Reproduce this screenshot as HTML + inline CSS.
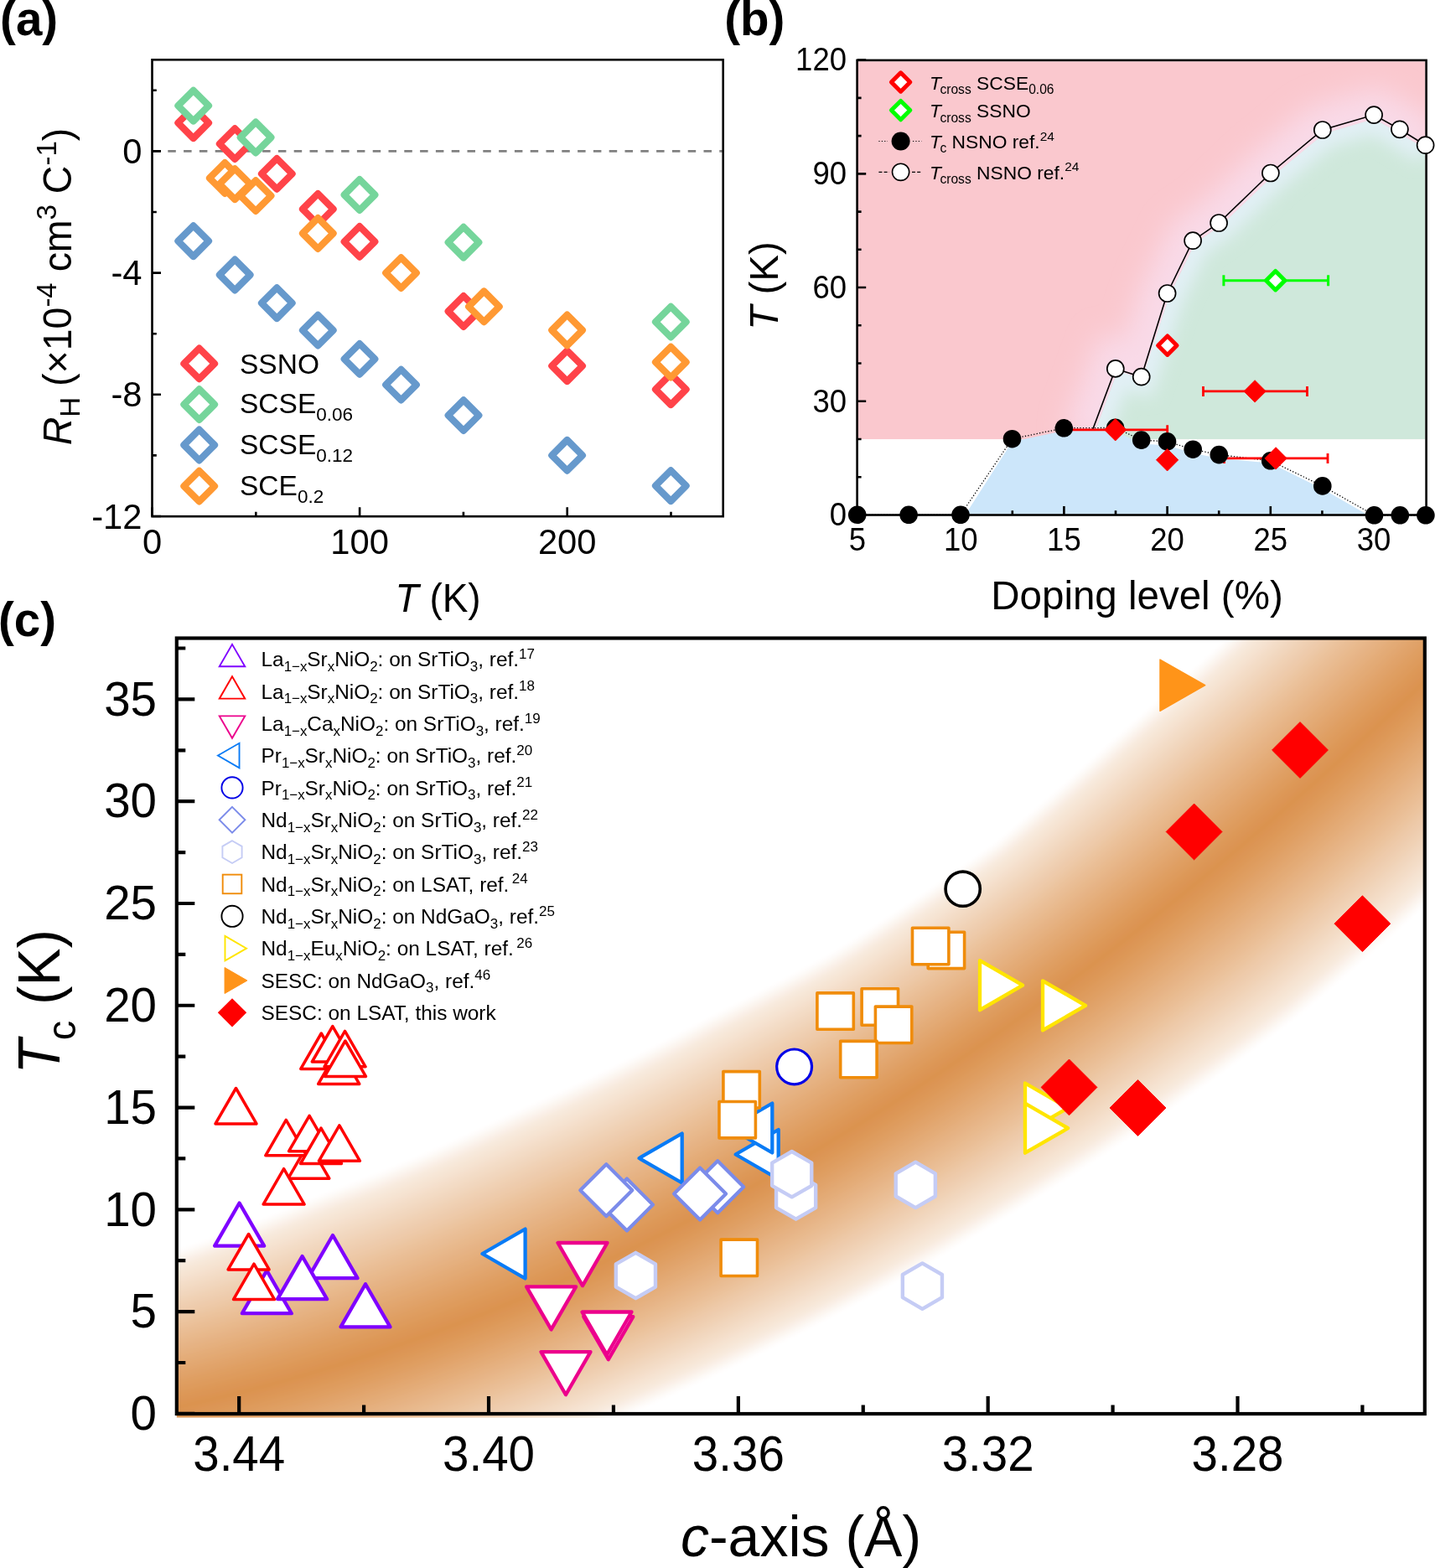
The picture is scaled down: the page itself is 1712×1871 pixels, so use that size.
<!DOCTYPE html>
<html><head><meta charset="utf-8"><title>Figure</title>
<style>
html,body{margin:0;padding:0;background:#fff;}
svg{display:block;}
text{font-family:'Liberation Sans', Arial, sans-serif;fill:#000;}
</style></head><body>
<svg width="1712" height="1871" viewBox="0 0 1712 1871">
<defs><clipPath id="cpb"><rect x="1023.9" y="73.2" width="676.4" height="540"/></clipPath>
<clipPath id="cpbtop"><rect x="1023.9" y="73.2" width="676.4" height="451.1"/></clipPath>
<clipPath id="cpgreen"><path d="M1306.5 524.3L1307.5 512.5L1333.5 442.5L1362.5 452.5L1395.5 352.5L1426 290L1456.5 269.5L1518 210.5L1580 159.5L1639.5 142L1669 159L1702 178.5L1702 524.3Z"/></clipPath>
<filter id="blur1" x="-50%" y="-50%" width="200%" height="200%"><feGaussianBlur stdDeviation="16"/></filter>
<filter id="blur2" x="-50%" y="-50%" width="200%" height="200%"><feGaussianBlur stdDeviation="10"/></filter>
<clipPath id="cpc"><rect x="210.8" y="761.5" width="1489" height="930"/></clipPath>
<filter id="bblur" x="0" y="0" width="100%" height="100%"><feGaussianBlur stdDeviation="2.5"/></filter></defs>
<rect width="1712" height="1871" fill="#fff"/>
<g id="pa">
<line x1="181.5" y1="180.4" x2="862.7" y2="180.4" stroke="#808080" stroke-width="2.6" stroke-dasharray="9.5 9.3"/>
<path d="M230.7 128.4L249 146.7L230.7 165L212.4 146.7Z" fill="#fff" stroke="#FF4349" stroke-width="8.2" stroke-linejoin="round"/>
<path d="M280.2 153.3L298.5 171.6L280.2 189.9L261.9 171.6Z" fill="#fff" stroke="#FF4349" stroke-width="8.2" stroke-linejoin="round"/>
<path d="M330.3 189.1L348.6 207.4L330.3 225.7L312 207.4Z" fill="#fff" stroke="#FF4349" stroke-width="8.2" stroke-linejoin="round"/>
<path d="M379.3 231.2L397.6 249.5L379.3 267.8L361 249.5Z" fill="#fff" stroke="#FF4349" stroke-width="8.2" stroke-linejoin="round"/>
<path d="M429 270.1L447.3 288.4L429 306.7L410.7 288.4Z" fill="#fff" stroke="#FF4349" stroke-width="8.2" stroke-linejoin="round"/>
<path d="M553 353.2L571.3 371.5L553 389.8L534.7 371.5Z" fill="#fff" stroke="#FF4349" stroke-width="8.2" stroke-linejoin="round"/>
<path d="M676.6 418.4L694.9 436.7L676.6 455L658.3 436.7Z" fill="#fff" stroke="#FF4349" stroke-width="8.2" stroke-linejoin="round"/>
<path d="M800.3 446.4L818.6 464.7L800.3 483L782 464.7Z" fill="#fff" stroke="#FF4349" stroke-width="8.2" stroke-linejoin="round"/>
<path d="M230.7 107.9L249 126.2L230.7 144.5L212.4 126.2Z" fill="#fff" stroke="#75D59B" stroke-width="8.2" stroke-linejoin="round"/>
<path d="M305.1 145.7L323.4 164L305.1 182.3L286.8 164Z" fill="#fff" stroke="#75D59B" stroke-width="8.2" stroke-linejoin="round"/>
<path d="M429 214.2L447.3 232.5L429 250.8L410.7 232.5Z" fill="#fff" stroke="#75D59B" stroke-width="8.2" stroke-linejoin="round"/>
<path d="M553 270.9L571.3 289.2L553 307.5L534.7 289.2Z" fill="#fff" stroke="#75D59B" stroke-width="8.2" stroke-linejoin="round"/>
<path d="M800.3 365.8L818.6 384.1L800.3 402.4L782 384.1Z" fill="#fff" stroke="#75D59B" stroke-width="8.2" stroke-linejoin="round"/>
<path d="M230.7 269.4L249 287.7L230.7 306L212.4 287.7Z" fill="#fff" stroke="#6699CC" stroke-width="8.2" stroke-linejoin="round"/>
<path d="M280.2 309.7L298.5 328L280.2 346.3L261.9 328Z" fill="#fff" stroke="#6699CC" stroke-width="8.2" stroke-linejoin="round"/>
<path d="M330.3 343.4L348.6 361.7L330.3 380L312 361.7Z" fill="#fff" stroke="#6699CC" stroke-width="8.2" stroke-linejoin="round"/>
<path d="M379.3 375.8L397.6 394.1L379.3 412.4L361 394.1Z" fill="#fff" stroke="#6699CC" stroke-width="8.2" stroke-linejoin="round"/>
<path d="M429 410.1L447.3 428.4L429 446.7L410.7 428.4Z" fill="#fff" stroke="#6699CC" stroke-width="8.2" stroke-linejoin="round"/>
<path d="M478.5 440.8L496.8 459.1L478.5 477.4L460.2 459.1Z" fill="#fff" stroke="#6699CC" stroke-width="8.2" stroke-linejoin="round"/>
<path d="M553 477.3L571.3 495.6L553 513.9L534.7 495.6Z" fill="#fff" stroke="#6699CC" stroke-width="8.2" stroke-linejoin="round"/>
<path d="M676.6 525L694.9 543.3L676.6 561.6L658.3 543.3Z" fill="#fff" stroke="#6699CC" stroke-width="8.2" stroke-linejoin="round"/>
<path d="M800.3 561.4L818.6 579.7L800.3 598L782 579.7Z" fill="#fff" stroke="#6699CC" stroke-width="8.2" stroke-linejoin="round"/>
<path d="M268.3 194.2L286.6 212.5L268.3 230.8L250 212.5Z" fill="#fff" stroke="#FF9933" stroke-width="8.2" stroke-linejoin="round"/>
<path d="M280.2 201.4L298.5 219.7L280.2 238L261.9 219.7Z" fill="#fff" stroke="#FF9933" stroke-width="8.2" stroke-linejoin="round"/>
<path d="M305.1 215.3L323.4 233.6L305.1 251.9L286.8 233.6Z" fill="#fff" stroke="#FF9933" stroke-width="8.2" stroke-linejoin="round"/>
<path d="M379.3 260.2L397.6 278.5L379.3 296.8L361 278.5Z" fill="#fff" stroke="#FF9933" stroke-width="8.2" stroke-linejoin="round"/>
<path d="M478.5 307.3L496.8 325.6L478.5 343.9L460.2 325.6Z" fill="#fff" stroke="#FF9933" stroke-width="8.2" stroke-linejoin="round"/>
<path d="M577.4 347.5L595.7 365.8L577.4 384.1L559.1 365.8Z" fill="#fff" stroke="#FF9933" stroke-width="8.2" stroke-linejoin="round"/>
<path d="M676.6 375.7L694.9 394L676.6 412.3L658.3 394Z" fill="#fff" stroke="#FF9933" stroke-width="8.2" stroke-linejoin="round"/>
<path d="M800.3 413.8L818.6 432.1L800.3 450.4L782 432.1Z" fill="#fff" stroke="#FF9933" stroke-width="8.2" stroke-linejoin="round"/>
<path d="M237.7 415.6L256 433.9L237.7 452.2L219.4 433.9Z" fill="none" stroke="#FF4349" stroke-width="8.2" stroke-linejoin="round"/>
<path d="M237.7 464.3L256 482.6L237.7 500.9L219.4 482.6Z" fill="none" stroke="#75D59B" stroke-width="8.2" stroke-linejoin="round"/>
<path d="M237.7 512.7L256 531L237.7 549.3L219.4 531Z" fill="none" stroke="#6699CC" stroke-width="8.2" stroke-linejoin="round"/>
<path d="M237.7 561.8L256 580.1L237.7 598.4L219.4 580.1Z" fill="none" stroke="#FF9933" stroke-width="8.2" stroke-linejoin="round"/>
<text x="286" y="445.6" font-size="33.5" text-anchor="start" ><tspan>SSNO</tspan></text>
<text x="286" y="493.4" font-size="33.5" text-anchor="start" ><tspan>SCSE</tspan><tspan dy="9" font-size="22.5">0.06</tspan></text>
<text x="286" y="542" font-size="33.5" text-anchor="start" ><tspan>SCSE</tspan><tspan dy="9" font-size="22.5">0.12</tspan></text>
<text x="286" y="591.2" font-size="33.5" text-anchor="start" ><tspan>SCE</tspan><tspan dy="9" font-size="22.5">0.2</tspan></text>
<rect x="181.5" y="71.3" width="681.2" height="544.9" fill="none" stroke="#000" stroke-width="2.6"/>
<path d="M181.5 107.8H186.8M181.5 180.4H192M181.5 253H186.8M181.5 325.6H192M181.5 398.2H186.8M181.5 470.8H192M181.5 543.4H186.8M181.5 616H192M181.5 616.2V605.2M305.3 616.2V610.7M429.1 616.2V605.2M552.9 616.2V610.7M676.7 616.2V605.2M800.5 616.2V610.7" stroke="#000" stroke-width="2.6" fill="none"/>
<text x="169.5" y="195" font-size="41.7" text-anchor="end"  transform="translate(169.5 195) scale(1 1.0400) translate(-169.5 -195)"><tspan>0</tspan></text>
<text x="169.5" y="340.2" font-size="41.7" text-anchor="end"  transform="translate(169.5 340.2) scale(1 1.0400) translate(-169.5 -340.2)"><tspan>-4</tspan></text>
<text x="169.5" y="485.4" font-size="41.7" text-anchor="end"  transform="translate(169.5 485.4) scale(1 1.0400) translate(-169.5 -485.4)"><tspan>-8</tspan></text>
<text x="169.5" y="630.6" font-size="41.7" text-anchor="end"  transform="translate(169.5 630.6) scale(1 1.0400) translate(-169.5 -630.6)"><tspan>-12</tspan></text>
<text x="181.5" y="660.9" font-size="41.7" text-anchor="middle"  transform="translate(181.5 660.9) scale(1 1.0400) translate(-181.5 -660.9)"><tspan>0</tspan></text>
<text x="429.1" y="660.9" font-size="41.7" text-anchor="middle"  transform="translate(429.1 660.9) scale(1 1.0400) translate(-429.1 -660.9)"><tspan>100</tspan></text>
<text x="676.7" y="660.9" font-size="41.7" text-anchor="middle"  transform="translate(676.7 660.9) scale(1 1.0400) translate(-676.7 -660.9)"><tspan>200</tspan></text>
<text x="522.6" y="730" font-size="46" text-anchor="middle"  transform="translate(522.6 730) scale(1 1.0350) translate(-522.6 -730)"><tspan font-style="italic">T</tspan><tspan> (K)</tspan></text>
<text x="85.3" y="342" font-size="46.5" text-anchor="middle"  transform="rotate(-90 85.3 342) translate(85.3 342) scale(1 1.0300) translate(-85.3 -342)"><tspan font-style="italic">R</tspan><tspan dy="9.5" font-size="33">H</tspan><tspan dy="-9.5"> (×10</tspan><tspan dy="-18" font-size="33">-4</tspan><tspan dy="18"> cm</tspan><tspan dy="-18" font-size="33">3</tspan><tspan dy="18"> C</tspan><tspan dy="-18" font-size="33">-1</tspan><tspan dy="18">)</tspan></text>
</g>
<g id="pb">
<g clip-path="url(#cpbtop)">
<rect x="1022.6" y="71.9" width="679" height="452.4" fill="#FAC8CE"/>
<path d="M1306.5 524.3L1307.5 512.5L1333.5 442.5L1362.5 452.5L1395.5 352.5L1426 290L1456.5 269.5L1518 210.5L1580 159.5L1639.5 142L1669 159L1702 178.5" fill="none" stroke="#F9DAE8" stroke-width="70" filter="url(#blur1)"/>
<path d="M1306.5 524.3L1307.5 512.5L1333.5 442.5L1362.5 452.5L1395.5 352.5L1426 290L1456.5 269.5L1518 210.5L1580 159.5L1639.5 142L1669 159L1702 178.5L1702 524.3Z" fill="#CFE8DB"/>
<g clip-path="url(#cpgreen)"><path d="M1306.5 524.3L1307.5 512.5L1333.5 442.5L1362.5 452.5L1395.5 352.5L1426 290L1456.5 269.5L1518 210.5L1580 159.5L1639.5 142L1669 159L1702 178.5" fill="none" stroke="#E2F0F6" stroke-width="34" filter="url(#blur2)"/></g>
</g>
<path d="M1151.5 614.5L1207.5 527L1269.3 514L1330 514.5L1362 529.5L1392.5 531.5L1423 540.5L1454 547L1515.5 552.5L1578 583.5L1632 614.5Z" fill="#CCE6FA" clip-path="url(#cpb)"/>
<rect x="1022.6" y="71.9" width="679" height="542.6" fill="none" stroke="#000" stroke-width="2.6"/>
<path d="M1022.6 614.5H1033.2M1022.6 569.26H1027.6M1022.6 524.02H1027.6M1022.6 478.78H1033.2M1022.6 433.54H1027.6M1022.6 388.3H1027.6M1022.6 343.06H1033.2M1022.6 297.82H1027.6M1022.6 252.58H1027.6M1022.6 207.34H1033.2M1022.6 162.1H1027.6M1022.6 116.86H1027.6M1022.6 71.62H1033.2M1023 614.5V604M1084.6 614.5V609.3M1146.2 614.5V604M1207.8 614.5V609.3M1269.4 614.5V604M1331 614.5V609.3M1392.6 614.5V604M1454.2 614.5V609.3M1515.8 614.5V604M1577.4 614.5V609.3M1639 614.5V604M1700.6 614.5V609.3" stroke="#000" stroke-width="2.6" fill="none"/>
<path d="M1022.7 614.3L1084.1 614.3L1146 614.3L1207.5 523.7L1269.3 510.8L1330.6 510.4L1361.7 525.1L1392.5 526.9L1423.2 536.2L1454.3 542.6L1515.7 549.8L1577.8 579.9L1639.5 614.8L1670.3 614.8L1700.9 614.8" fill="none" stroke="#000" stroke-width="1.3" stroke-dasharray="1.3 2.2"/>
<path d="M1303.8 512.1L1330.8 439.9L1361.7 449.7L1392.6 350L1423.1 287.2L1454.1 266L1515.9 206.5L1577.8 155L1639.1 137.1L1669.9 154.3L1700.6 173.2" fill="none" stroke="#000" stroke-width="1.6"/>
<path d="M1459.9 334.7H1584.6M1459.9 328.2V341.2M1584.6 328.2V341.2" stroke="#00FF00" stroke-width="3" fill="none"/>
<path d="M1435.5 466.9H1559.5M1435.5 460.9V472.9M1559.5 460.9V472.9" stroke="#FF0000" stroke-width="2.8" fill="none"/>
<path d="M1460.5 546.9H1584M1460.5 540.9V552.9M1584 540.9V552.9" stroke="#FF0000" stroke-width="2.8" fill="none"/>
<path d="M1269.3 512.8H1392.7M1392.7 507.3V518.3" stroke="#FF0000" stroke-width="2.8" fill="none"/>
<circle cx="1330.8" cy="439.9" r="10.0" fill="#fff" stroke="#000" stroke-width="1.7"/>
<circle cx="1361.7" cy="449.7" r="10.0" fill="#fff" stroke="#000" stroke-width="1.7"/>
<circle cx="1392.6" cy="350" r="10.0" fill="#fff" stroke="#000" stroke-width="1.7"/>
<circle cx="1423.1" cy="287.2" r="10.0" fill="#fff" stroke="#000" stroke-width="1.7"/>
<circle cx="1454.1" cy="266" r="10.0" fill="#fff" stroke="#000" stroke-width="1.7"/>
<circle cx="1515.9" cy="206.5" r="10.0" fill="#fff" stroke="#000" stroke-width="1.7"/>
<circle cx="1577.8" cy="155" r="10.0" fill="#fff" stroke="#000" stroke-width="1.7"/>
<circle cx="1639.1" cy="137.1" r="10.0" fill="#fff" stroke="#000" stroke-width="1.7"/>
<circle cx="1669.9" cy="154.3" r="10.0" fill="#fff" stroke="#000" stroke-width="1.7"/>
<circle cx="1700.6" cy="173.2" r="10.0" fill="#fff" stroke="#000" stroke-width="1.7"/>
<g fill="#000"><circle cx="1022.7" cy="614.3" r="10.8"/><circle cx="1084.1" cy="614.3" r="10.8"/><circle cx="1146" cy="614.3" r="10.8"/><circle cx="1207.5" cy="523.7" r="10.8"/><circle cx="1269.3" cy="510.8" r="10.8"/><circle cx="1330.6" cy="510.4" r="10.8"/><circle cx="1361.7" cy="525.1" r="10.8"/><circle cx="1392.5" cy="526.9" r="10.8"/><circle cx="1423.2" cy="536.2" r="10.8"/><circle cx="1454.3" cy="542.6" r="10.8"/><circle cx="1515.7" cy="549.8" r="10.8"/><circle cx="1577.8" cy="579.9" r="10.8"/><circle cx="1639.5" cy="614.8" r="10.8"/><circle cx="1670.3" cy="614.8" r="10.8"/><circle cx="1700.9" cy="614.8" r="10.8"/></g>
<path d="M1392.8 401L1404 412.2L1392.8 423.4L1381.6 412.2Z" fill="#fff" stroke="#FF0000" stroke-width="5" stroke-linejoin="round"/>
<path d="M1521.7 323.5L1532.9 334.7L1521.7 345.9L1510.5 334.7Z" fill="#fff" stroke="#00FF00" stroke-width="5" stroke-linejoin="round"/>
<path d="M1330.7 499.6L1343.9 512.8L1330.7 526L1317.5 512.8ZM1392.6 535.6L1405.8 548.8L1392.6 562L1379.4 548.8ZM1497.1 453.7L1510.3 466.9L1497.1 480.1L1483.9 466.9ZM1522.1 533.7L1535.3 546.9L1522.1 560.1L1508.9 546.9Z" fill="#FF0000" stroke="#FF0000" stroke-width="0.8" stroke-linejoin="round"/>
<path d="M1074.6 86.8L1085.8 98L1074.6 109.2L1063.4 98Z" fill="#fff" stroke="#FF0000" stroke-width="5" stroke-linejoin="round"/>
<path d="M1074.6 120.4L1085.8 131.6L1074.6 142.8L1063.4 131.6Z" fill="#fff" stroke="#00FF00" stroke-width="5" stroke-linejoin="round"/>
<path d="M1048.4 168.5H1059M1089 168.5H1099.5" stroke="#000" stroke-width="1.2" stroke-dasharray="1.2 2.2"/>
<circle cx="1074.6" cy="168.5" r="11" fill="#000"/>
<path d="M1048.4 205.3H1061M1088 205.3H1100" stroke="#000" stroke-width="1.2" stroke-dasharray="4 2.2"/>
<circle cx="1074.6" cy="205.3" r="10.1" fill="#fff" stroke="#000" stroke-width="1.6"/>
<text x="1109" y="106.6" font-size="22.8" text-anchor="start" ><tspan font-style="italic">T</tspan><tspan dy="5.5" font-size="15.6" dx="-1.5">cross</tspan><tspan dy="-5.5"> SCSE</tspan><tspan dy="5.5" font-size="15.6">0.06</tspan></text>
<text x="1109" y="140" font-size="22.8" text-anchor="start" ><tspan font-style="italic">T</tspan><tspan dy="5.5" font-size="15.6" dx="-1.5">cross</tspan><tspan dy="-5.5"> SSNO</tspan></text>
<text x="1109" y="176.9" font-size="22.8" text-anchor="start" ><tspan font-style="italic">T</tspan><tspan dy="5.5" font-size="15.6" dx="-1.5">c</tspan><tspan dy="-5.5"> NSNO ref.</tspan><tspan dy="-9.4" font-size="15.5">24</tspan></text>
<text x="1109" y="213.7" font-size="22.8" text-anchor="start" ><tspan font-style="italic">T</tspan><tspan dy="5.5" font-size="15.6" dx="-1.5">cross</tspan><tspan dy="-5.5"> NSNO ref.</tspan><tspan dy="-9.4" font-size="15.5">24</tspan></text>
<text x="1010" y="627.3" font-size="36.5" text-anchor="end"  transform="translate(1010 627.3) scale(1 1.0400) translate(-1010 -627.3)"><tspan>0</tspan></text>
<text x="1010" y="491.58" font-size="36.5" text-anchor="end"  transform="translate(1010 491.58) scale(1 1.0400) translate(-1010 -491.58)"><tspan>30</tspan></text>
<text x="1010" y="355.86" font-size="36.5" text-anchor="end"  transform="translate(1010 355.86) scale(1 1.0400) translate(-1010 -355.86)"><tspan>60</tspan></text>
<text x="1010" y="220.14" font-size="36.5" text-anchor="end"  transform="translate(1010 220.14) scale(1 1.0400) translate(-1010 -220.14)"><tspan>90</tspan></text>
<text x="1010" y="84.42" font-size="36.5" text-anchor="end"  transform="translate(1010 84.42) scale(1 1.0400) translate(-1010 -84.42)"><tspan>120</tspan></text>
<text x="1023" y="657" font-size="36.5" text-anchor="middle"  transform="translate(1023 657) scale(1 1.0400) translate(-1023 -657)"><tspan>5</tspan></text>
<text x="1146.2" y="657" font-size="36.5" text-anchor="middle"  transform="translate(1146.2 657) scale(1 1.0400) translate(-1146.2 -657)"><tspan>10</tspan></text>
<text x="1269.4" y="657" font-size="36.5" text-anchor="middle"  transform="translate(1269.4 657) scale(1 1.0400) translate(-1269.4 -657)"><tspan>15</tspan></text>
<text x="1392.6" y="657" font-size="36.5" text-anchor="middle"  transform="translate(1392.6 657) scale(1 1.0400) translate(-1392.6 -657)"><tspan>20</tspan></text>
<text x="1515.8" y="657" font-size="36.5" text-anchor="middle"  transform="translate(1515.8 657) scale(1 1.0400) translate(-1515.8 -657)"><tspan>25</tspan></text>
<text x="1639" y="657" font-size="36.5" text-anchor="middle"  transform="translate(1639 657) scale(1 1.0400) translate(-1639 -657)"><tspan>30</tspan></text>
<text x="1356.5" y="726.5" font-size="47.5" text-anchor="middle" ><tspan>Doping level (%)</tspan></text>
<text x="927.9" y="341" font-size="47.5" text-anchor="middle"  transform="rotate(-90 927.9 341) translate(927.9 341) scale(1 1.0200) translate(-927.9 -341)"><tspan font-style="italic">T</tspan><tspan> (K)</tspan></text>
</g>
<g id="pc">
<g clip-path="url(#cpc)"><g filter="url(#bblur)"><path d="M71.7 1522.2L99.1 1517.6L126.5 1512.3L153.8 1506.0L181.0 1498.9L207.9 1490.1L234.7 1480.9L261.5 1471.3L288.3 1461.3L315.0 1450.9L341.7 1440.1L368.3 1429.0L395.1 1418.0L422.3 1407.7L449.5 1397.1L476.7 1386.0L503.9 1374.5L531.1 1362.6L558.4 1350.3L585.7 1337.5L613.0 1324.4L640.9 1312.2L669.0 1299.6L697.1 1286.6L725.2 1273.1L753.4 1259.2L781.7 1244.9L810.0 1230.1L838.3 1214.8L867.3 1200.1L896.7 1185.4L926.1 1170.3L955.6 1154.6L985.2 1138.5L1014.2 1121.0L1042.9 1102.5L1071.6 1083.5L1100.4 1064.1L1129.3 1044.2L1158.1 1023.9L1187.0 1003.1L1214.5 979.9L1242.0 956.3L1269.4 932.3L1296.9 907.8L1324.3 882.9L1352.3 858.2L1380.6 833.4L1409.0 808.2L1437.3 782.5L1465.6 756.4L1494.0 729.8L1522.4 702.8L1550.8 675.3L1579.3 647.4L1607.7 619.1L1636.2 590.3L1664.8 561.2L1693.7 531.9L1722.7 502.2L2010.8 781.1L1979.8 812.9L1948.8 844.3L1918.0 875.4L1887.3 906.2L1856.5 936.6L1825.7 966.5L1794.9 996.0L1764.1 1025.1L1733.2 1053.8L1702.3 1082.0L1671.3 1109.8L1640.4 1137.1L1609.4 1164.0L1578.3 1190.5L1547.2 1216.6L1515.1 1240.9L1482.9 1264.8L1450.7 1288.2L1418.6 1311.1L1386.4 1333.6L1354.1 1355.7L1321.9 1377.3L1289.7 1398.4L1257.4 1419.1L1225.1 1439.3L1192.9 1459.1L1160.6 1478.4L1128.5 1497.6L1096.4 1516.4L1064.3 1534.7L1032.1 1552.5L1000.0 1569.9L967.8 1586.9L935.6 1603.3L903.4 1619.3L871.2 1634.9L838.9 1650.0L806.6 1664.6L774.6 1679.2L742.5 1693.5L710.4 1707.3L678.3 1720.6L646.1 1733.5L613.9 1745.9L581.7 1757.8L549.5 1769.3L517.2 1780.3L484.9 1790.8L452.6 1800.9L420.2 1810.5L387.8 1819.6L355.4 1828.3L323.0 1836.5L290.5 1844.2L258.1 1851.4L225.6 1858.1L193.1 1864.4L160.5 1870.3L128.0 1875.7Z" fill="#FFFFFF"/><path d="M72.2 1525.4L99.7 1520.8L127.1 1515.5L154.5 1509.2L181.7 1502.1L208.7 1493.3L235.6 1484.2L262.4 1474.6L289.2 1464.6L316.0 1454.3L342.7 1443.5L369.4 1432.4L396.2 1421.4L423.5 1411.2L450.7 1400.5L478.0 1389.4L505.2 1377.9L532.5 1366.0L559.8 1353.7L587.2 1341.0L614.5 1327.8L642.5 1315.6L670.6 1303.0L698.7 1289.9L726.9 1276.4L755.1 1262.5L783.4 1248.1L811.8 1233.3L840.2 1218.0L869.2 1203.2L898.5 1188.5L927.9 1173.3L957.4 1157.6L987.0 1141.4L1016.0 1123.8L1044.8 1105.3L1073.6 1086.3L1102.4 1066.8L1131.2 1046.9L1160.1 1026.6L1189.1 1005.8L1216.6 982.6L1244.1 959.0L1271.6 935.0L1299.1 910.5L1326.6 885.6L1354.6 860.9L1383.0 836.1L1411.3 810.9L1439.7 785.2L1468.0 759.0L1496.4 732.4L1524.9 705.4L1553.3 678.0L1581.8 650.0L1610.2 621.7L1638.7 592.9L1667.4 563.8L1696.4 534.5L1725.3 504.8L2008.3 778.7L1977.3 810.5L1946.3 841.8L1915.5 872.9L1884.8 903.7L1854.1 934.0L1823.3 964.0L1792.5 993.4L1761.7 1022.5L1730.8 1051.1L1699.9 1079.3L1669.0 1107.1L1638.0 1134.4L1607.0 1161.3L1576.0 1187.7L1544.9 1213.7L1512.8 1238.1L1480.7 1261.9L1448.6 1285.4L1416.4 1308.3L1384.3 1330.8L1352.1 1352.9L1319.9 1374.5L1287.7 1395.6L1255.5 1416.3L1223.3 1436.5L1191.0 1456.3L1158.8 1475.6L1126.7 1494.8L1094.7 1513.5L1062.6 1531.8L1030.5 1549.7L998.4 1567.1L966.2 1584.0L934.1 1600.4L901.9 1616.4L869.7 1632.0L837.5 1647.1L805.3 1661.7L773.2 1676.3L741.2 1690.5L709.1 1704.3L677.1 1717.6L644.9 1730.5L612.8 1742.9L580.6 1754.8L548.4 1766.3L516.2 1777.3L483.9 1787.8L451.6 1797.8L419.3 1807.4L387.0 1816.6L354.6 1825.2L322.2 1833.4L289.8 1841.1L257.4 1848.3L224.9 1855.0L192.5 1861.3L160.0 1867.2L127.5 1872.6Z" fill="#FEFCFB"/><path d="M72.7 1528.5L100.2 1523.9L127.7 1518.6L155.1 1512.3L182.4 1505.3L209.4 1496.6L236.4 1487.4L263.3 1477.9L290.1 1468.0L317.0 1457.6L343.7 1446.9L370.5 1435.8L397.4 1424.8L424.7 1414.6L452.0 1403.9L479.3 1392.8L506.6 1381.4L533.9 1369.4L561.3 1357.1L588.7 1344.4L616.1 1331.2L644.1 1319.0L672.2 1306.3L700.4 1293.2L728.6 1279.7L756.9 1265.7L785.2 1251.3L813.6 1236.5L842.0 1221.2L871.0 1206.3L900.3 1191.5L929.8 1176.3L959.3 1160.5L988.9 1144.3L1017.9 1126.7L1046.7 1108.1L1075.5 1089.1L1104.3 1069.6L1133.2 1049.7L1162.1 1029.3L1191.1 1008.5L1218.6 985.3L1246.2 961.7L1273.7 937.7L1301.3 913.2L1328.8 888.3L1356.9 863.6L1385.3 838.8L1413.6 813.6L1442.0 787.8L1470.4 761.7L1498.9 735.1L1527.3 708.1L1555.8 680.6L1584.3 652.7L1612.8 624.3L1641.3 595.5L1670.0 566.3L1699.0 537.1L1728.0 507.3L2005.8 776.3L1974.8 808.0L1943.9 839.3L1913.1 870.4L1882.4 901.2L1851.7 931.5L1820.9 961.4L1790.1 990.8L1759.3 1019.9L1728.4 1048.5L1697.6 1076.6L1666.7 1104.4L1635.7 1131.7L1604.7 1158.5L1573.7 1185.0L1542.7 1210.9L1510.6 1235.3L1478.5 1259.1L1446.4 1282.5L1414.3 1305.5L1382.2 1328.0L1350.1 1350.1L1317.9 1371.6L1285.8 1392.8L1253.6 1413.4L1221.4 1433.7L1189.2 1453.4L1157.0 1472.7L1125.0 1491.9L1093.0 1510.7L1060.9 1529.0L1028.9 1546.8L996.8 1564.2L964.7 1581.1L932.6 1597.6L900.4 1613.6L868.3 1629.1L836.1 1644.2L803.9 1658.8L771.9 1673.4L739.9 1687.6L707.9 1701.4L675.8 1714.7L643.8 1727.5L611.6 1739.9L579.5 1751.8L547.3 1763.3L515.1 1774.2L482.9 1784.7L450.7 1794.8L418.4 1804.4L386.1 1813.5L353.8 1822.1L321.4 1830.3L289.1 1838.0L256.7 1845.2L224.3 1851.9L191.9 1858.2L159.4 1864.0L127.0 1869.4Z" fill="#FDF9F5"/><path d="M73.2 1531.7L100.8 1527.1L128.3 1521.8L155.8 1515.5L183.1 1508.5L210.2 1499.8L237.2 1490.7L264.1 1481.2L291.1 1471.3L317.9 1461.0L344.8 1450.3L371.6 1439.2L398.6 1428.3L425.9 1418.0L453.2 1407.4L480.6 1396.3L508.0 1384.8L535.3 1372.9L562.8 1360.5L590.2 1347.8L617.6 1334.6L645.7 1322.4L673.9 1309.7L702.0 1296.6L730.3 1283.0L758.6 1269.0L786.9 1254.5L815.3 1239.7L843.8 1224.3L872.8 1209.5L902.2 1194.6L931.6 1179.3L961.2 1163.5L990.8 1147.2L1019.8 1129.5L1048.6 1110.9L1077.4 1091.9L1106.3 1072.4L1135.2 1052.4L1164.1 1032.0L1193.1 1011.2L1220.7 988.0L1248.3 964.4L1275.9 940.4L1303.5 915.9L1331.1 891.0L1359.2 866.4L1387.6 841.5L1416.0 816.2L1444.4 790.5L1472.8 764.4L1501.3 737.8L1529.8 710.7L1558.3 683.2L1586.8 655.3L1615.3 626.9L1643.9 598.1L1672.6 568.9L1701.6 539.6L1730.6 509.9L2003.3 773.8L1972.3 805.6L1941.4 836.8L1910.6 867.9L1879.9 898.6L1849.2 928.9L1818.5 958.8L1787.7 988.3L1756.9 1017.3L1726.1 1045.8L1695.2 1074.0L1664.3 1101.7L1633.4 1128.9L1602.4 1155.8L1571.4 1182.2L1540.4 1208.1L1508.4 1232.5L1476.3 1256.3L1444.3 1279.7L1412.2 1302.7L1380.1 1325.2L1348.0 1347.2L1315.9 1368.8L1283.8 1389.9L1251.7 1410.6L1219.5 1430.8L1187.4 1450.6L1155.2 1469.9L1123.2 1489.1L1091.2 1507.8L1059.2 1526.1L1027.2 1543.9L995.2 1561.3L963.1 1578.2L931.0 1594.7L898.9 1610.7L866.8 1626.2L834.7 1641.3L802.5 1655.9L770.6 1670.5L738.6 1684.7L706.6 1698.4L674.6 1711.7L642.6 1724.5L610.5 1736.9L578.4 1748.8L546.3 1760.2L514.1 1771.2L481.9 1781.7L449.7 1791.7L417.5 1801.3L385.3 1810.4L353.0 1819.0L320.7 1827.2L288.4 1834.9L256.0 1842.1L223.7 1848.8L191.3 1855.1L158.9 1860.9L126.5 1866.3Z" fill="#FCF5EF"/><path d="M73.7 1534.9L101.3 1530.3L128.9 1525.0L156.4 1518.7L183.8 1511.7L210.9 1503.0L238.0 1493.9L265.0 1484.5L292.0 1474.6L318.9 1464.4L345.8 1453.7L372.7 1442.6L399.7 1431.7L427.1 1421.5L454.5 1410.8L481.9 1399.7L509.3 1388.2L536.8 1376.3L564.2 1364.0L591.7 1351.2L619.2 1338.0L647.3 1325.8L675.5 1313.0L703.7 1299.9L732.0 1286.3L760.3 1272.3L788.7 1257.8L817.1 1242.9L845.6 1227.5L874.7 1212.6L904.0 1197.7L933.5 1182.3L963.0 1166.4L992.6 1150.1L1021.7 1132.4L1050.5 1113.7L1079.4 1094.7L1108.2 1075.1L1137.2 1055.2L1166.1 1034.7L1195.1 1013.8L1222.8 990.7L1250.4 967.1L1278.0 943.1L1305.7 918.6L1333.3 893.8L1361.5 869.1L1389.9 844.2L1418.3 818.9L1446.8 793.2L1475.2 767.0L1503.7 740.4L1532.2 713.4L1560.8 685.8L1589.3 657.9L1617.9 629.5L1646.4 600.7L1675.2 571.5L1704.2 542.2L1733.2 512.4L2000.8 771.4L1969.8 803.1L1938.9 834.4L1908.2 865.4L1877.5 896.1L1846.8 926.4L1816.0 956.3L1785.3 985.7L1754.5 1014.6L1723.7 1043.2L1692.8 1071.3L1662.0 1099.0L1631.1 1126.2L1600.1 1153.0L1569.1 1179.4L1538.1 1205.3L1506.1 1229.7L1474.1 1253.5L1442.1 1276.9L1410.1 1299.9L1378.0 1322.4L1346.0 1344.4L1313.9 1366.0L1281.8 1387.1L1249.7 1407.8L1217.6 1428.0L1185.5 1447.8L1153.4 1467.1L1121.5 1486.2L1089.5 1505.0L1057.5 1523.3L1025.6 1541.1L993.6 1558.4L961.5 1575.3L929.5 1591.8L897.4 1607.8L865.4 1623.3L833.3 1638.4L801.2 1652.9L769.2 1667.5L737.3 1681.7L705.4 1695.5L673.4 1708.7L641.4 1721.6L609.4 1733.9L577.3 1745.8L545.2 1757.2L513.1 1768.2L481.0 1778.7L448.8 1788.7L416.6 1798.2L384.4 1807.3L352.2 1815.9L319.9 1824.1L287.6 1831.8L255.3 1839.0L223.0 1845.7L190.7 1851.9L158.4 1857.8L126.0 1863.2Z" fill="#FAF1E9"/><path d="M74.2 1538.0L101.9 1533.4L129.5 1528.1L157.0 1521.9L184.5 1514.9L211.7 1506.2L238.8 1497.2L265.9 1487.8L292.9 1477.9L319.9 1467.7L346.9 1457.1L373.8 1446.1L400.9 1435.2L428.3 1424.9L455.7 1414.2L483.2 1403.1L510.7 1391.6L538.2 1379.7L565.7 1367.4L593.2 1354.6L620.7 1341.5L648.9 1329.1L677.1 1316.4L705.4 1303.2L733.7 1289.6L762.0 1275.5L790.5 1261.0L818.9 1246.0L847.4 1230.7L876.5 1215.7L905.9 1200.7L935.4 1185.3L964.9 1169.4L994.5 1153.0L1023.6 1135.2L1052.4 1116.6L1081.3 1097.5L1110.2 1077.9L1139.1 1057.9L1168.1 1037.4L1197.1 1016.5L1224.8 993.4L1252.5 969.8L1280.2 945.8L1307.9 921.3L1335.6 896.5L1363.7 871.8L1392.2 846.9L1420.7 821.6L1449.1 795.9L1477.6 769.7L1506.2 743.1L1534.7 716.0L1563.3 688.5L1591.8 660.5L1620.4 632.1L1649.0 603.3L1677.8 574.1L1706.8 544.7L1735.9 514.9L1998.2 769.0L1967.3 800.7L1936.4 831.9L1905.7 862.9L1875.0 893.6L1844.3 923.9L1813.6 953.7L1782.9 983.1L1752.1 1012.0L1721.3 1040.5L1690.5 1068.6L1659.6 1096.3L1628.7 1123.5L1597.8 1150.3L1566.8 1176.6L1535.9 1202.5L1503.9 1226.8L1471.9 1250.7L1440.0 1274.1L1408.0 1297.1L1376.0 1319.5L1344.0 1341.6L1311.9 1363.2L1279.9 1384.3L1247.8 1405.0L1215.8 1425.2L1183.7 1444.9L1151.6 1464.2L1119.7 1483.4L1087.8 1502.1L1055.9 1520.4L1023.9 1538.2L992.0 1555.6L960.0 1572.5L928.0 1588.9L896.0 1604.9L863.9 1620.4L831.9 1635.4L799.8 1650.0L767.9 1664.6L736.0 1678.8L704.1 1692.5L672.2 1705.8L640.2 1718.6L608.2 1730.9L576.2 1742.8L544.2 1754.2L512.1 1765.1L480.0 1775.6L447.9 1785.6L415.7 1795.2L383.5 1804.3L351.4 1812.9L319.1 1821.0L286.9 1828.7L254.7 1835.8L222.4 1842.6L190.1 1848.8L157.8 1854.6L125.5 1860.0Z" fill="#F9EDE3"/><path d="M74.7 1541.2L102.4 1536.6L130.1 1531.3L157.7 1525.0L185.2 1518.0L212.4 1509.5L239.6 1500.5L266.7 1491.1L293.8 1481.3L320.9 1471.1L347.9 1460.5L374.9 1449.5L402.0 1438.6L429.5 1428.3L457.0 1417.7L484.5 1406.6L512.0 1395.1L539.6 1383.2L567.1 1370.8L594.7 1358.0L622.3 1344.9L650.5 1332.5L678.7 1319.7L707.0 1306.5L735.4 1292.9L763.8 1278.8L792.2 1264.2L820.7 1249.2L849.2 1233.8L878.3 1218.8L907.7 1203.8L937.2 1188.3L966.8 1172.3L996.4 1155.9L1025.5 1138.1L1054.3 1119.4L1083.2 1100.3L1112.2 1080.7L1141.1 1060.6L1170.1 1040.1L1199.1 1019.2L1226.9 996.1L1254.6 972.5L1282.3 948.5L1310.1 924.1L1337.8 899.2L1366.0 874.5L1394.5 849.6L1423.0 824.3L1451.5 798.6L1480.0 772.4L1508.6 745.7L1537.2 718.6L1565.7 691.1L1594.3 663.1L1623.0 634.7L1651.6 605.9L1680.4 576.7L1709.4 547.3L1738.5 517.5L1995.7 766.5L1964.8 798.2L1933.9 829.4L1903.2 860.4L1872.6 891.1L1841.9 921.3L1811.2 951.1L1780.5 980.5L1749.7 1009.4L1718.9 1037.9L1688.1 1066.0L1657.3 1093.6L1626.4 1120.8L1595.5 1147.5L1564.6 1173.9L1533.6 1199.7L1501.7 1224.0L1469.7 1247.9L1437.8 1271.3L1405.9 1294.2L1373.9 1316.7L1341.9 1338.8L1309.9 1360.3L1277.9 1381.5L1245.9 1402.1L1213.9 1422.3L1181.8 1442.1L1149.8 1461.4L1117.9 1480.6L1086.1 1499.3L1054.2 1517.5L1022.3 1535.3L990.3 1552.7L958.4 1569.6L926.4 1586.0L894.5 1602.0L862.5 1617.5L830.5 1632.5L798.4 1647.1L766.6 1661.7L734.7 1675.9L702.9 1689.6L671.0 1702.8L639.0 1715.6L607.1 1727.9L575.1 1739.8L543.1 1751.2L511.1 1762.1L479.0 1772.6L446.9 1782.6L414.8 1792.1L382.7 1801.2L350.5 1809.8L318.4 1817.9L286.2 1825.6L254.0 1832.7L221.8 1839.4L189.5 1845.7L157.3 1851.5L125.0 1856.9Z" fill="#F8EADD"/><path d="M75.2 1544.4L103.0 1539.8L130.7 1534.5L158.3 1528.2L185.9 1521.2L213.2 1512.7L240.4 1503.7L267.6 1494.4L294.8 1484.6L321.9 1474.4L349.0 1463.9L376.0 1452.9L403.2 1442.0L430.7 1431.8L458.3 1421.1L485.8 1410.0L513.4 1398.5L541.0 1386.6L568.6 1374.2L596.2 1361.5L623.8 1348.3L652.1 1335.9L680.4 1323.1L708.7 1309.8L737.1 1296.2L765.5 1282.0L794.0 1267.5L822.5 1252.4L851.0 1237.0L880.2 1221.9L909.6 1206.8L939.1 1191.3L968.6 1175.2L998.3 1158.8L1027.4 1140.9L1056.3 1122.2L1085.2 1103.1L1114.1 1083.4L1143.1 1063.4L1172.1 1042.9L1201.2 1021.9L1228.9 998.8L1256.7 975.2L1284.5 951.2L1312.3 926.8L1340.0 901.9L1368.3 877.2L1396.8 852.3L1425.3 827.0L1453.9 801.2L1482.4 775.0L1511.0 748.4L1539.6 721.3L1568.2 693.7L1596.9 665.8L1625.5 637.3L1654.2 608.5L1683.0 579.3L1712.0 549.9L1741.1 520.0L1993.2 764.1L1962.4 795.7L1931.5 827.0L1900.8 857.9L1870.1 888.6L1839.5 918.8L1808.8 948.5L1778.1 977.9L1747.3 1006.8L1716.6 1035.3L1685.8 1063.3L1654.9 1090.9L1624.1 1118.1L1593.2 1144.8L1562.3 1171.1L1531.3 1196.9L1499.4 1221.2L1467.6 1245.1L1435.7 1268.5L1403.7 1291.4L1371.8 1313.9L1339.9 1335.9L1307.9 1357.5L1276.0 1378.6L1244.0 1399.3L1212.0 1419.5L1180.0 1439.2L1148.0 1458.5L1116.2 1477.7L1084.3 1496.4L1052.5 1514.7L1020.6 1532.5L988.7 1549.8L956.8 1566.7L924.9 1583.1L893.0 1599.1L861.0 1614.6L829.0 1629.6L797.1 1644.2L765.2 1658.8L733.4 1672.9L701.6 1686.6L669.7 1699.8L637.9 1712.6L605.9 1724.9L574.0 1736.8L542.0 1748.2L510.0 1759.1L478.0 1769.5L446.0 1779.5L413.9 1789.1L381.8 1798.1L349.7 1806.7L317.6 1814.8L285.5 1822.5L253.3 1829.6L221.1 1836.3L188.9 1842.6L156.7 1848.4L124.5 1853.7Z" fill="#F7E8DA"/><path d="M75.7 1547.6L103.5 1542.9L131.3 1537.6L159.0 1531.4L186.6 1524.4L213.9 1515.9L241.2 1507.0L268.5 1497.6L295.7 1487.9L322.9 1477.8L350.0 1467.3L377.1 1456.3L404.4 1445.5L431.9 1435.2L459.5 1424.5L487.1 1413.4L514.8 1401.9L542.4 1390.0L570.0 1377.7L597.7 1364.9L625.4 1351.7L653.7 1339.3L682.0 1326.4L710.3 1313.2L738.8 1299.4L767.2 1285.3L795.7 1270.7L824.3 1255.6L852.9 1240.1L882.0 1225.0L911.4 1209.9L940.9 1194.3L970.5 1178.2L1000.1 1161.7L1029.3 1143.8L1058.2 1125.0L1087.1 1105.8L1116.1 1086.2L1145.1 1066.1L1174.1 1045.6L1203.2 1024.6L1231.0 1001.4L1258.8 977.9L1286.6 953.9L1314.5 929.5L1342.3 904.6L1370.6 879.9L1399.1 855.0L1427.7 829.7L1456.2 803.9L1484.8 777.7L1513.4 751.0L1542.1 723.9L1570.7 696.4L1599.4 668.4L1628.0 639.9L1656.7 611.1L1685.5 581.9L1714.6 552.4L1743.8 522.6L1990.7 761.7L1959.9 793.3L1929.0 824.5L1898.3 855.4L1867.7 886.1L1837.0 916.2L1806.4 946.0L1775.7 975.3L1744.9 1004.2L1714.2 1032.6L1683.4 1060.6L1652.6 1088.2L1621.7 1115.3L1590.9 1142.0L1560.0 1168.3L1529.0 1194.1L1497.2 1218.4L1465.4 1242.3L1433.5 1265.7L1401.6 1288.6L1369.7 1311.1L1337.8 1333.1L1305.9 1354.7L1274.0 1375.8L1242.1 1396.5L1210.1 1416.7L1178.2 1436.4L1146.2 1455.7L1114.4 1474.9L1082.6 1493.6L1050.8 1511.8L1019.0 1529.6L987.1 1546.9L955.3 1563.8L923.4 1580.2L891.5 1596.2L859.6 1611.7L827.6 1626.7L795.7 1641.3L763.9 1655.8L732.1 1670.0L700.3 1683.7L668.5 1696.9L636.7 1709.6L604.8 1721.9L572.9 1733.8L541.0 1745.1L509.0 1756.1L477.0 1766.5L445.0 1776.5L413.0 1786.0L381.0 1795.0L348.9 1803.6L316.8 1811.7L284.7 1819.4L252.6 1826.5L220.5 1833.2L188.3 1839.4L156.2 1845.2L124.0 1850.6Z" fill="#F7E6D6"/><path d="M76.2 1550.7L104.1 1546.1L131.9 1540.8L159.6 1534.5L187.3 1527.6L214.7 1519.1L242.0 1510.2L269.3 1500.9L296.6 1491.2L323.8 1481.1L351.0 1470.6L378.2 1459.7L405.5 1448.9L433.1 1438.7L460.8 1428.0L488.4 1416.9L516.1 1405.4L543.8 1393.4L571.5 1381.1L599.2 1368.3L626.9 1355.1L655.3 1342.7L683.6 1329.8L712.0 1316.5L740.4 1302.7L768.9 1288.5L797.5 1273.9L826.1 1258.8L854.7 1243.3L883.8 1228.2L913.3 1212.9L942.8 1197.3L972.4 1181.1L1002.0 1164.5L1031.2 1146.6L1060.1 1127.9L1089.0 1108.6L1118.0 1089.0L1147.0 1068.9L1176.1 1048.3L1205.2 1027.3L1233.1 1004.1L1260.9 980.6L1288.8 956.6L1316.7 932.2L1344.5 907.4L1372.9 882.6L1401.4 857.7L1430.0 832.4L1458.6 806.6L1487.2 780.4L1515.9 753.7L1544.5 726.6L1573.2 699.0L1601.9 671.0L1630.6 642.6L1659.3 613.7L1688.1 584.4L1717.3 555.0L1746.4 525.1L1988.2 759.2L1957.4 790.8L1926.5 822.0L1895.8 853.0L1865.2 883.5L1834.6 913.7L1803.9 943.4L1773.2 972.7L1742.5 1001.6L1711.8 1030.0L1681.0 1058.0L1650.2 1085.5L1619.4 1112.6L1588.6 1139.3L1557.7 1165.5L1526.8 1191.3L1495.0 1215.6L1463.2 1239.5L1431.3 1262.9L1399.5 1285.8L1367.7 1308.3L1335.8 1330.3L1303.9 1351.9L1272.0 1373.0L1240.2 1393.6L1208.2 1413.8L1176.3 1433.6L1144.4 1452.9L1112.7 1472.0L1080.9 1490.7L1049.1 1509.0L1017.3 1526.7L985.5 1544.1L953.7 1560.9L921.9 1577.3L890.0 1593.3L858.1 1608.8L826.2 1623.8L794.3 1638.4L762.6 1652.9L730.9 1667.0L699.1 1680.7L667.3 1693.9L635.5 1706.7L603.7 1718.9L571.8 1730.8L539.9 1742.1L508.0 1753.0L476.1 1763.5L444.1 1773.4L412.1 1782.9L380.1 1792.0L348.1 1800.5L316.1 1808.6L284.0 1816.3L251.9 1823.4L219.8 1830.1L187.7 1836.3L155.6 1842.1L123.5 1847.5Z" fill="#F6E4D3"/><path d="M76.7 1553.9L104.6 1549.3L132.5 1543.9L160.3 1537.7L188.0 1530.8L215.4 1522.3L242.8 1513.5L270.2 1504.2L297.5 1494.6L324.8 1484.5L352.1 1474.0L379.3 1463.2L406.7 1452.4L434.4 1442.1L462.0 1431.4L489.8 1420.3L517.5 1408.8L545.2 1396.9L573.0 1384.5L600.7 1371.7L628.5 1358.5L656.8 1346.0L685.2 1333.1L713.7 1319.8L742.1 1306.0L770.7 1291.8L799.2 1277.1L827.8 1262.0L856.5 1246.5L885.7 1231.3L915.1 1216.0L944.6 1200.3L974.2 1184.1L1003.9 1167.4L1033.1 1149.5L1062.0 1130.7L1091.0 1111.4L1120.0 1091.7L1149.0 1071.6L1178.1 1051.0L1207.2 1029.9L1235.1 1006.8L1263.0 983.3L1290.9 959.3L1318.9 934.9L1346.8 910.1L1375.1 885.3L1403.7 860.4L1432.4 835.1L1461.0 809.3L1489.6 783.0L1518.3 756.3L1547.0 729.2L1575.7 701.6L1604.4 673.6L1633.1 645.2L1661.9 616.3L1690.7 587.0L1719.9 557.6L1749.0 527.7L1985.7 756.8L1954.9 788.4L1924.0 819.6L1893.4 850.5L1862.8 881.0L1832.1 911.1L1801.5 940.8L1770.8 970.1L1740.1 998.9L1709.4 1027.3L1678.7 1055.3L1647.9 1082.8L1617.1 1109.9L1586.3 1136.5L1555.4 1162.8L1524.5 1188.5L1492.7 1212.8L1461.0 1236.7L1429.2 1260.0L1397.4 1283.0L1365.6 1305.4L1333.8 1327.5L1301.9 1349.0L1270.1 1370.1L1238.2 1390.8L1206.4 1411.0L1174.5 1430.7L1142.6 1450.0L1110.9 1469.2L1079.2 1487.9L1047.4 1506.1L1015.7 1523.9L983.9 1541.2L952.1 1558.1L920.3 1574.5L888.5 1590.4L856.7 1605.9L824.8 1620.9L793.0 1635.5L761.3 1650.0L729.6 1664.1L697.8 1677.8L666.1 1690.9L634.3 1703.7L602.5 1715.9L570.7 1727.8L538.8 1739.1L507.0 1750.0L475.1 1760.4L443.2 1770.4L411.2 1779.9L379.3 1788.9L347.3 1797.4L315.3 1805.5L283.3 1813.2L251.3 1820.3L219.2 1827.0L187.2 1833.2L155.1 1839.0L123.0 1844.3Z" fill="#F5E2D0"/><path d="M77.2 1557.1L105.2 1552.4L133.1 1547.1L160.9 1540.9L188.7 1534.0L216.2 1525.6L243.6 1516.7L271.1 1507.5L298.4 1497.9L325.8 1487.9L353.1 1477.4L380.4 1466.6L407.8 1455.8L435.6 1445.5L463.3 1434.9L491.1 1423.8L518.8 1412.2L546.6 1400.3L574.4 1387.9L602.2 1375.1L630.1 1361.9L658.4 1349.4L686.9 1336.5L715.3 1323.1L743.8 1309.3L772.4 1295.1L801.0 1280.4L829.6 1265.2L858.3 1249.6L887.5 1234.4L917.0 1219.1L946.5 1203.3L976.1 1187.0L1005.8 1170.3L1034.9 1152.3L1063.9 1133.5L1092.9 1114.2L1121.9 1094.5L1151.0 1074.3L1180.1 1053.7L1209.2 1032.6L1237.2 1009.5L1265.1 986.0L1293.1 962.0L1321.1 937.6L1349.0 912.8L1377.4 888.1L1406.1 863.1L1434.7 837.8L1463.4 812.0L1492.0 785.7L1520.7 759.0L1549.4 731.9L1578.2 704.3L1606.9 676.2L1635.7 647.8L1664.4 618.9L1693.3 589.6L1722.5 560.1L1751.6 530.2L1983.2 754.4L1952.4 785.9L1921.6 817.1L1890.9 848.0L1860.3 878.5L1829.7 908.6L1799.1 938.3L1768.4 967.5L1737.7 996.3L1707.0 1024.7L1676.3 1052.6L1645.5 1080.1L1614.8 1107.2L1583.9 1133.8L1553.1 1160.0L1522.2 1185.7L1490.5 1210.0L1458.8 1233.8L1427.0 1257.2L1395.3 1280.1L1363.5 1302.6L1331.7 1324.6L1299.9 1346.2L1268.1 1367.3L1236.3 1388.0L1204.5 1408.2L1172.7 1427.9L1140.8 1447.2L1109.1 1466.3L1077.5 1485.0L1045.8 1503.2L1014.0 1521.0L982.3 1538.3L950.6 1555.2L918.8 1571.6L887.0 1587.5L855.2 1603.0L823.4 1618.0L791.6 1632.6L759.9 1647.1L728.3 1661.2L696.6 1674.8L664.9 1688.0L633.1 1700.7L601.4 1713.0L569.6 1724.8L537.8 1736.1L506.0 1747.0L474.1 1757.4L442.2 1767.3L410.3 1776.8L378.4 1785.8L346.5 1794.4L314.5 1802.4L282.6 1810.0L250.6 1817.2L218.6 1823.9L186.6 1830.1L154.5 1835.8L122.5 1841.2Z" fill="#F5E0CD"/><path d="M77.7 1560.3L105.7 1555.6L133.7 1550.3L161.6 1544.1L189.4 1537.2L216.9 1528.8L244.4 1520.0L271.9 1510.8L299.4 1501.2L326.8 1491.2L354.2 1480.8L381.5 1470.0L409.0 1459.2L436.8 1449.0L464.6 1438.3L492.4 1427.2L520.2 1415.7L548.0 1403.7L575.9 1391.3L603.7 1378.6L631.6 1365.3L660.0 1352.8L688.5 1339.8L717.0 1326.4L745.5 1312.6L774.1 1298.3L802.7 1283.6L831.4 1268.4L860.1 1252.8L889.3 1237.5L918.8 1222.1L948.3 1206.3L978.0 1190.0L1007.6 1173.2L1036.8 1155.2L1065.8 1136.3L1094.8 1117.0L1123.9 1097.3L1153.0 1077.1L1182.1 1056.4L1211.3 1035.3L1239.3 1012.2L1267.3 988.7L1295.3 964.7L1323.3 940.3L1351.3 915.5L1379.7 890.8L1408.4 865.8L1437.0 840.5L1465.7 814.6L1494.4 788.4L1523.2 761.7L1551.9 734.5L1580.6 706.9L1609.4 678.9L1638.2 650.4L1667.0 621.4L1695.9 592.2L1725.1 562.7L1754.3 532.8L1980.6 751.9L1949.9 783.5L1919.1 814.6L1888.4 845.5L1857.9 876.0L1827.3 906.1L1796.7 935.7L1766.0 964.9L1735.3 993.7L1704.7 1022.0L1673.9 1049.9L1643.2 1077.4L1612.4 1104.4L1581.6 1131.0L1550.8 1157.2L1520.0 1182.9L1488.3 1207.2L1456.6 1231.0L1424.9 1254.4L1393.2 1277.3L1361.4 1299.8L1329.7 1321.8L1297.9 1343.4L1266.2 1364.5L1234.4 1385.1L1202.6 1405.3L1170.8 1425.1L1139.0 1444.4L1107.4 1463.5L1075.7 1482.2L1044.1 1500.4L1012.4 1518.1L980.7 1535.4L949.0 1552.3L917.3 1568.7L885.5 1584.6L853.8 1600.1L822.0 1615.1L790.2 1629.7L758.6 1644.1L727.0 1658.2L695.3 1671.8L663.6 1685.0L632.0 1697.7L600.2 1710.0L568.5 1721.7L536.7 1733.1L504.9 1743.9L473.1 1754.3L441.3 1764.3L409.4 1773.7L377.6 1782.7L345.7 1791.3L313.8 1799.3L281.8 1806.9L249.9 1814.1L217.9 1820.7L186.0 1826.9L154.0 1832.7L122.0 1838.1Z" fill="#F4DEC9"/><path d="M78.3 1563.4L106.3 1558.8L134.3 1553.4L162.2 1547.2L190.1 1540.3L217.7 1532.0L245.3 1523.2L272.8 1514.1L300.3 1504.5L327.8 1494.6L355.2 1484.2L382.6 1473.4L410.2 1462.7L438.0 1452.4L465.8 1441.7L493.7 1430.6L521.6 1419.1L549.4 1407.1L577.3 1394.8L605.2 1382.0L633.2 1368.8L661.6 1356.2L690.1 1343.2L718.6 1329.8L747.2 1315.9L775.8 1301.6L804.5 1286.8L833.2 1271.6L861.9 1256.0L891.2 1240.6L920.6 1225.2L950.2 1209.3L979.8 1192.9L1009.5 1176.1L1038.7 1158.0L1067.7 1139.2L1096.8 1119.8L1125.9 1100.0L1155.0 1079.8L1184.1 1059.1L1213.3 1038.0L1241.3 1014.9L1269.4 991.4L1297.4 967.4L1325.5 943.0L1353.5 918.2L1382.0 893.5L1410.7 868.5L1439.4 843.1L1468.1 817.3L1496.8 791.0L1525.6 764.3L1554.4 737.1L1583.1 709.5L1611.9 681.5L1640.7 653.0L1669.6 624.0L1698.5 594.8L1727.7 565.3L1756.9 535.3L1978.1 749.5L1947.4 781.0L1916.6 812.1L1886.0 843.0L1855.4 873.5L1824.8 903.5L1794.2 933.1L1763.6 962.3L1733.0 991.1L1702.3 1019.4L1671.6 1047.3L1640.9 1074.7L1610.1 1101.7L1579.3 1128.3L1548.5 1154.4L1517.7 1180.1L1486.0 1204.4L1454.4 1228.2L1422.7 1251.6L1391.0 1274.5L1359.3 1297.0L1327.6 1319.0L1295.9 1340.6L1264.2 1361.7L1232.5 1382.3L1200.7 1402.5L1169.0 1422.2L1137.2 1441.5L1105.6 1460.6L1074.0 1479.3L1042.4 1497.5L1010.8 1515.3L979.1 1532.6L947.4 1549.4L915.7 1565.8L884.0 1581.7L852.3 1597.2L820.6 1612.2L788.8 1626.8L757.3 1641.2L725.7 1655.3L694.1 1668.9L662.4 1682.0L630.8 1694.7L599.1 1707.0L567.4 1718.7L535.7 1730.1L503.9 1740.9L472.1 1751.3L440.4 1761.2L408.5 1770.7L376.7 1779.7L344.9 1788.2L313.0 1796.3L281.1 1803.8L249.2 1811.0L217.3 1817.6L185.4 1823.8L153.4 1829.6L121.5 1834.9Z" fill="#F3DCC6"/><path d="M78.8 1566.6L106.8 1561.9L134.9 1556.6L162.9 1550.4L190.8 1543.5L218.4 1535.2L246.1 1526.5L273.7 1517.4L301.2 1507.9L328.7 1497.9L356.2 1487.6L383.7 1476.8L411.3 1466.1L439.2 1455.9L467.1 1445.2L495.0 1434.1L522.9 1422.5L550.8 1410.6L578.8 1398.2L606.7 1385.4L634.7 1372.2L663.2 1359.6L691.7 1346.5L720.3 1333.1L748.9 1319.2L777.6 1304.8L806.3 1290.0L835.0 1274.8L863.8 1259.1L893.0 1243.7L922.5 1228.2L952.1 1212.3L981.7 1195.9L1011.4 1179.0L1040.6 1160.9L1069.6 1142.0L1098.7 1122.6L1127.8 1102.8L1156.9 1082.5L1186.1 1061.8L1215.3 1040.7L1243.4 1017.6L1271.5 994.1L1299.6 970.1L1327.7 945.8L1355.8 920.9L1384.3 896.2L1413.0 871.2L1441.7 845.8L1470.5 820.0L1499.2 793.7L1528.0 767.0L1556.8 739.8L1585.6 712.2L1614.4 684.1L1643.3 655.6L1672.1 626.6L1701.1 597.4L1730.3 567.8L1759.5 537.9L1975.6 747.1L1944.9 778.6L1914.1 809.7L1883.5 840.5L1853.0 870.9L1822.4 901.0L1791.8 930.6L1761.2 959.7L1730.6 988.5L1699.9 1016.7L1669.2 1044.6L1638.5 1072.0L1607.8 1099.0L1577.0 1125.5L1546.2 1151.7L1515.4 1177.3L1483.8 1201.6L1452.2 1225.4L1420.6 1248.8L1388.9 1271.7L1357.3 1294.2L1325.6 1316.2L1293.9 1337.7L1262.3 1358.8L1230.6 1379.5L1198.9 1399.7L1167.1 1419.4L1135.4 1438.7L1103.9 1457.8L1072.3 1476.5L1040.7 1494.7L1009.1 1512.4L977.5 1529.7L945.9 1546.5L914.2 1562.9L882.6 1578.8L850.9 1594.3L819.2 1609.3L787.5 1623.8L755.9 1638.3L724.4 1652.3L692.8 1665.9L661.2 1679.1L629.6 1691.8L597.9 1704.0L566.3 1715.7L534.6 1727.0L502.9 1737.9L471.2 1748.2L439.4 1758.2L407.6 1767.6L375.9 1776.6L344.1 1785.1L312.2 1793.2L280.4 1800.7L248.5 1807.9L216.7 1814.5L184.8 1820.7L152.9 1826.5L121.0 1831.8Z" fill="#F3DAC3"/><path d="M79.3 1569.8L107.4 1565.1L135.5 1559.8L163.5 1553.6L191.5 1546.7L219.2 1538.4L246.9 1529.8L274.5 1520.7L302.1 1511.2L329.7 1501.3L357.3 1491.0L384.8 1480.3L412.5 1469.6L440.4 1459.3L468.3 1448.6L496.3 1437.5L524.3 1426.0L552.2 1414.0L580.2 1401.6L608.3 1388.8L636.3 1375.6L664.8 1363.0L693.4 1349.9L722.0 1336.4L750.6 1322.5L779.3 1308.1L808.0 1293.3L836.8 1278.0L865.6 1262.3L894.8 1246.8L924.3 1231.3L953.9 1215.3L983.6 1198.8L1013.2 1181.9L1042.5 1163.7L1071.6 1144.8L1100.6 1125.4L1129.8 1105.6L1158.9 1085.3L1188.1 1064.5L1217.3 1043.4L1245.4 1020.3L1273.6 996.8L1301.7 972.8L1329.9 948.5L1358.0 923.7L1386.5 898.9L1415.3 873.9L1444.1 848.5L1472.8 822.7L1501.6 796.4L1530.4 769.6L1559.3 742.4L1588.1 714.8L1617.0 686.7L1645.8 658.2L1674.7 629.2L1703.7 599.9L1732.9 570.4L1762.2 540.4L1973.1 744.6L1942.4 776.1L1911.6 807.2L1881.0 838.0L1850.5 868.4L1820.0 898.4L1789.4 928.0L1758.8 957.1L1728.2 985.8L1697.5 1014.1L1666.9 1041.9L1636.2 1069.3L1605.4 1096.3L1574.7 1122.8L1543.9 1148.9L1513.1 1174.5L1481.6 1198.8L1450.0 1222.6L1418.4 1246.0L1386.8 1268.9L1355.2 1291.3L1323.6 1313.3L1291.9 1334.9L1260.3 1356.0L1228.6 1376.6L1197.0 1396.8L1165.3 1416.6L1133.6 1435.8L1102.1 1455.0L1070.6 1473.6L1039.0 1491.8L1007.5 1509.5L975.9 1526.8L944.3 1543.6L912.7 1560.0L881.1 1575.9L849.4 1591.4L817.8 1606.4L786.1 1620.9L754.6 1635.4L723.1 1649.4L691.5 1663.0L660.0 1676.1L628.4 1688.8L596.8 1701.0L565.2 1712.7L533.5 1724.0L501.9 1734.8L470.2 1745.2L438.5 1755.1L406.8 1764.5L375.0 1773.5L343.2 1782.0L311.5 1790.1L279.7 1797.6L247.9 1804.8L216.0 1811.4L184.2 1817.6L152.4 1823.3L120.5 1828.6Z" fill="#F2D8C0"/><path d="M79.8 1573.0L107.9 1568.3L136.1 1562.9L164.2 1556.7L192.2 1549.9L219.9 1541.7L247.7 1533.0L275.4 1524.0L303.1 1514.5L330.7 1504.6L358.3 1494.4L385.9 1483.7L413.6 1473.0L441.6 1462.7L469.6 1452.0L497.6 1440.9L525.6 1429.4L553.7 1417.4L581.7 1405.0L609.8 1392.2L637.8 1379.0L666.4 1366.3L695.0 1353.3L723.6 1339.7L752.3 1325.8L781.0 1311.3L809.8 1296.5L838.6 1281.2L867.4 1265.4L896.7 1250.0L926.2 1234.3L955.8 1218.3L985.4 1201.8L1015.1 1184.8L1044.4 1166.6L1073.5 1147.6L1102.6 1128.2L1131.7 1108.3L1160.9 1088.0L1190.1 1067.3L1219.3 1046.0L1247.5 1023.0L1275.7 999.5L1303.9 975.5L1332.1 951.2L1360.2 926.4L1388.8 901.6L1417.6 876.6L1446.4 851.2L1475.2 825.3L1504.0 799.0L1532.9 772.3L1561.7 745.1L1590.6 717.4L1619.5 689.4L1648.4 660.8L1677.3 631.8L1706.3 602.5L1735.5 573.0L1764.8 543.0L1970.6 742.2L1939.9 773.7L1909.2 804.7L1878.6 835.5L1848.1 865.9L1817.5 895.9L1787.0 925.4L1756.4 954.5L1725.8 983.2L1695.1 1011.5L1664.5 1039.3L1633.8 1066.6L1603.1 1093.6L1572.4 1120.0L1541.6 1146.1L1510.9 1171.7L1479.3 1196.0L1447.8 1219.8L1416.2 1243.2L1384.7 1266.1L1353.1 1288.5L1321.5 1310.5L1289.9 1332.1L1258.3 1353.2L1226.7 1373.8L1195.1 1394.0L1163.5 1413.7L1131.8 1433.0L1100.4 1452.1L1068.9 1470.7L1037.3 1488.9L1005.8 1506.7L974.3 1523.9L942.7 1540.8L911.2 1557.1L879.6 1573.0L848.0 1588.5L816.4 1603.5L784.7 1618.0L753.3 1632.4L721.8 1646.5L690.3 1660.0L658.8 1673.1L627.2 1685.8L595.7 1698.0L564.1 1709.7L532.5 1721.0L500.8 1731.8L469.2 1742.2L437.5 1752.1L405.9 1761.5L374.2 1770.4L342.4 1778.9L310.7 1787.0L278.9 1794.5L247.2 1801.6L215.4 1808.3L183.6 1814.4L151.8 1820.2L120.0 1825.5Z" fill="#F1D6BD"/><path d="M80.3 1576.1L108.5 1571.4L136.7 1566.1L164.8 1559.9L192.9 1553.1L220.7 1544.9L248.5 1536.3L276.3 1527.3L304.0 1517.8L331.7 1508.0L359.4 1497.8L387.0 1487.1L414.8 1476.4L442.8 1466.2L470.9 1455.5L498.9 1444.4L527.0 1432.8L555.1 1420.8L583.2 1408.5L611.3 1395.6L639.4 1382.4L668.0 1369.7L696.6 1356.6L725.3 1343.0L754.0 1329.0L782.7 1314.6L811.5 1299.7L840.3 1284.4L869.2 1268.6L898.5 1253.1L928.0 1237.4L957.6 1221.3L987.3 1204.7L1017.0 1187.7L1046.3 1169.5L1075.4 1150.5L1104.5 1131.0L1133.7 1111.1L1162.9 1090.8L1192.1 1070.0L1221.3 1048.7L1249.6 1025.7L1277.8 1002.2L1306.0 978.2L1334.3 953.9L1362.5 929.1L1391.1 904.3L1419.9 879.3L1448.7 853.9L1477.6 828.0L1506.4 801.7L1535.3 774.9L1564.2 747.7L1593.1 720.1L1622.0 692.0L1650.9 663.4L1679.8 634.4L1708.9 605.1L1738.1 575.5L1767.4 545.5L1968.1 739.8L1937.4 771.2L1906.7 802.3L1876.1 833.0L1845.6 863.4L1815.1 893.4L1784.5 922.9L1754.0 952.0L1723.4 980.6L1692.8 1008.8L1662.1 1036.6L1631.5 1063.9L1600.8 1090.8L1570.1 1117.3L1539.4 1143.3L1508.6 1168.9L1477.1 1193.2L1445.6 1217.0L1414.1 1240.3L1382.6 1263.2L1351.0 1285.7L1319.5 1307.7L1287.9 1329.2L1256.4 1350.3L1224.8 1371.0L1193.2 1391.2L1161.6 1410.9L1130.0 1430.2L1098.6 1449.3L1067.1 1467.9L1035.7 1486.1L1004.2 1503.8L972.7 1521.1L941.2 1537.9L909.6 1554.2L878.1 1570.1L846.5 1585.6L815.0 1600.6L783.4 1615.1L751.9 1629.5L720.5 1643.5L689.0 1657.1L657.6 1670.2L626.0 1682.8L594.5 1695.0L563.0 1706.7L531.4 1718.0L499.8 1728.8L468.2 1739.1L436.6 1749.0L405.0 1758.4L373.3 1767.4L341.6 1775.9L309.9 1783.9L278.2 1791.4L246.5 1798.5L214.8 1805.2L183.0 1811.3L151.3 1817.1L119.5 1822.4Z" fill="#F1D4B9"/><path d="M80.8 1579.3L109.0 1574.6L137.3 1569.3L165.4 1563.1L193.6 1556.3L221.4 1548.1L249.3 1539.5L277.1 1530.5L304.9 1521.2L332.7 1511.4L360.4 1501.1L388.1 1490.5L415.9 1479.9L444.0 1469.6L472.1 1458.9L500.2 1447.8L528.3 1436.2L556.5 1424.3L584.6 1411.9L612.8 1399.1L640.9 1385.8L669.6 1373.1L698.2 1360.0L726.9 1346.4L755.7 1332.3L784.5 1317.9L813.3 1302.9L842.1 1287.6L871.0 1271.8L900.3 1256.2L929.9 1240.5L959.5 1224.3L989.1 1207.6L1018.9 1190.5L1048.2 1172.3L1077.3 1153.3L1106.5 1133.8L1135.6 1113.9L1164.8 1093.5L1194.1 1072.7L1223.4 1051.4L1251.6 1028.4L1279.9 1004.9L1308.2 981.0L1336.5 956.6L1364.7 931.8L1393.4 907.0L1422.2 882.0L1451.1 856.6L1479.9 830.7L1508.8 804.4L1537.7 777.6L1566.6 750.4L1595.6 722.7L1624.5 694.6L1653.4 666.0L1682.4 637.0L1711.5 607.7L1740.8 578.1L1770.1 548.0L1965.6 737.3L1934.9 768.8L1904.2 799.8L1873.6 830.5L1843.2 860.9L1812.6 890.8L1782.1 920.3L1751.6 949.4L1721.0 978.0L1690.4 1006.2L1659.8 1033.9L1629.1 1061.2L1598.5 1088.1L1567.8 1114.6L1537.1 1140.6L1506.3 1166.1L1474.9 1190.4L1443.4 1214.2L1411.9 1237.5L1380.5 1260.4L1349.0 1282.9L1317.5 1304.9L1285.9 1326.4L1254.4 1347.5L1222.9 1368.2L1191.3 1388.3L1159.8 1408.1L1128.2 1427.3L1096.8 1446.4L1065.4 1465.0L1034.0 1483.2L1002.5 1500.9L971.1 1518.2L939.6 1535.0L908.1 1551.4L876.6 1567.3L845.1 1582.7L813.5 1597.7L782.0 1612.2L750.6 1626.6L719.2 1640.6L687.8 1654.1L656.3 1667.2L624.9 1679.8L593.4 1692.0L561.9 1703.7L530.4 1715.0L498.8 1725.7L467.2 1736.1L435.7 1745.9L404.1 1755.4L372.4 1764.3L340.8 1772.8L309.2 1780.8L277.5 1788.3L245.8 1795.4L214.1 1802.0L182.4 1808.2L150.7 1813.9L119.0 1819.2Z" fill="#F0D2B6"/><path d="M81.3 1582.5L109.6 1577.8L137.9 1572.4L166.1 1566.3L194.2 1559.4L222.2 1551.3L250.1 1542.8L278.0 1533.8L305.8 1524.5L333.7 1514.7L361.5 1504.5L389.2 1493.9L417.1 1483.3L445.2 1473.0L473.4 1462.3L501.5 1451.2L529.7 1439.7L557.9 1427.7L586.1 1415.3L614.3 1402.5L642.5 1389.2L671.2 1376.5L699.9 1363.3L728.6 1349.7L757.4 1335.6L786.2 1321.1L815.0 1306.2L843.9 1290.8L872.8 1274.9L902.2 1259.3L931.7 1243.5L961.3 1227.3L991.0 1210.6L1020.7 1193.4L1050.1 1175.2L1079.2 1156.1L1108.4 1136.6L1137.6 1116.6L1166.8 1096.2L1196.1 1075.4L1225.4 1054.1L1253.7 1031.0L1282.0 1007.6L1310.3 983.7L1338.6 959.3L1367.0 934.5L1395.7 909.8L1424.5 884.7L1453.4 859.3L1482.3 833.4L1511.2 807.0L1540.2 780.2L1569.1 753.0L1598.0 725.3L1627.0 697.2L1656.0 668.6L1685.0 639.6L1714.1 610.3L1743.4 580.7L1772.7 550.6L1963.0 734.9L1932.4 766.3L1901.7 797.3L1871.2 828.0L1840.7 858.4L1810.2 888.3L1779.7 917.7L1749.1 946.8L1718.6 975.4L1688.0 1003.5L1657.4 1031.3L1626.8 1058.5L1596.1 1085.4L1565.5 1111.8L1534.8 1137.8L1504.1 1163.3L1472.6 1187.6L1441.2 1211.4L1409.8 1234.7L1378.3 1257.6L1346.9 1280.1L1315.4 1302.1L1283.9 1323.6L1252.5 1344.7L1221.0 1365.3L1189.5 1385.5L1158.0 1405.2L1126.4 1424.5L1095.1 1443.6L1063.7 1462.2L1032.3 1480.4L1000.9 1498.1L969.5 1515.3L938.0 1532.1L906.6 1548.5L875.1 1564.4L843.6 1579.8L812.1 1594.8L780.6 1609.3L749.3 1623.7L717.9 1637.7L686.5 1651.2L655.1 1664.2L623.7 1676.9L592.2 1689.0L560.8 1700.7L529.3 1711.9L497.8 1722.7L466.3 1733.0L434.7 1742.9L403.2 1752.3L371.6 1761.2L340.0 1769.7L308.4 1777.7L276.8 1785.2L245.1 1792.3L213.5 1798.9L181.8 1805.1L150.2 1810.8L118.5 1816.1Z" fill="#F0D0B3"/><path d="M81.8 1585.7L110.1 1580.9L138.5 1575.6L166.7 1569.4L194.9 1562.6L222.9 1554.5L250.9 1546.0L278.8 1537.1L306.8 1527.8L334.6 1518.1L362.5 1507.9L390.3 1497.4L418.3 1486.8L446.5 1476.5L474.6 1465.8L502.9 1454.7L531.1 1443.1L559.3 1431.1L587.5 1418.7L615.8 1405.9L644.0 1392.6L672.7 1379.9L701.5 1366.7L730.3 1353.0L759.1 1338.9L787.9 1324.4L816.8 1309.4L845.7 1294.0L874.6 1278.1L904.0 1262.4L933.6 1246.6L963.2 1230.3L992.9 1213.5L1022.6 1196.3L1052.0 1178.0L1081.1 1158.9L1110.3 1139.4L1139.6 1119.4L1168.8 1099.0L1198.1 1078.1L1227.4 1056.8L1255.8 1033.7L1284.1 1010.3L1312.5 986.4L1340.8 962.0L1369.2 937.3L1397.9 912.5L1426.8 887.4L1455.8 862.0L1484.7 836.1L1513.6 809.7L1542.6 782.9L1571.6 755.7L1600.5 728.0L1629.5 699.8L1658.5 671.3L1687.5 642.2L1716.7 612.9L1746.0 583.2L1775.3 553.1L1960.5 732.5L1929.9 763.9L1899.2 794.8L1868.7 825.5L1838.3 855.8L1807.8 885.7L1777.3 915.2L1746.7 944.2L1716.2 972.7L1685.6 1000.9L1655.0 1028.6L1624.4 1055.8L1593.8 1082.7L1563.2 1109.1L1532.5 1135.0L1501.8 1160.5L1470.4 1184.8L1439.0 1208.6L1407.6 1231.9L1376.2 1254.8L1344.8 1277.2L1313.4 1299.2L1281.9 1320.8L1250.5 1341.9L1219.1 1362.5L1187.6 1382.7L1156.1 1402.4L1124.7 1421.7L1093.3 1440.7L1062.0 1459.3L1030.6 1477.5L999.2 1495.2L967.9 1512.4L936.5 1529.2L905.0 1545.6L873.6 1561.5L842.2 1576.9L810.7 1591.9L779.3 1606.4L747.9 1620.8L716.6 1634.7L685.3 1648.2L653.9 1661.3L622.5 1673.9L591.1 1686.0L559.7 1697.7L528.2 1708.9L496.8 1719.7L465.3 1730.0L433.8 1739.8L402.3 1749.2L370.7 1758.1L339.2 1766.6L307.6 1774.6L276.1 1782.1L244.5 1789.2L212.9 1795.8L181.2 1801.9L149.6 1807.7L118.0 1812.9Z" fill="#EFCEB0"/><path d="M82.3 1588.8L110.7 1584.1L139.1 1578.8L167.4 1572.6L195.6 1565.8L223.7 1557.8L251.7 1549.3L279.7 1540.4L307.7 1531.1L335.6 1521.4L363.5 1511.3L391.4 1500.8L419.4 1490.2L447.7 1479.9L475.9 1469.2L504.2 1458.1L532.4 1446.5L560.7 1434.6L589.0 1422.1L617.3 1409.3L645.6 1396.1L674.3 1383.3L703.1 1370.0L731.9 1356.3L760.8 1342.2L789.6 1327.6L818.5 1312.6L847.5 1297.2L876.5 1281.3L905.8 1265.5L935.4 1249.6L965.0 1233.3L994.7 1216.5L1024.5 1199.2L1053.8 1180.9L1083.0 1161.7L1112.3 1142.2L1141.5 1122.2L1170.8 1101.7L1200.1 1080.8L1229.4 1059.5L1257.8 1036.4L1286.2 1013.0L1314.6 989.1L1343.0 964.7L1371.5 940.0L1400.2 915.2L1429.2 890.1L1458.1 864.7L1487.1 838.7L1516.0 812.4L1545.0 785.6L1574.0 758.3L1603.0 730.6L1632.0 702.5L1661.1 673.9L1690.1 644.8L1719.3 615.4L1748.6 585.8L1777.9 555.7L1958.0 730.0L1927.4 761.4L1896.8 792.4L1866.3 823.0L1835.8 853.3L1805.3 883.2L1774.8 912.6L1744.3 941.6L1713.8 970.1L1683.3 998.2L1652.7 1025.9L1622.1 1053.1L1591.5 1079.9L1560.8 1106.3L1530.2 1132.2L1499.5 1157.7L1468.2 1182.0L1436.8 1205.7L1405.5 1229.1L1374.1 1252.0L1342.7 1274.4L1311.3 1296.4L1279.9 1317.9L1248.5 1339.0L1217.1 1359.7L1185.7 1379.8L1154.3 1399.6L1122.9 1418.8L1091.6 1437.9L1060.2 1456.5L1028.9 1474.6L997.6 1492.3L966.2 1509.6L934.9 1526.4L903.5 1542.7L872.1 1558.6L840.7 1574.0L809.3 1589.0L777.9 1603.5L746.6 1617.8L715.3 1631.8L684.0 1645.3L652.7 1658.3L621.3 1670.9L590.0 1683.0L558.6 1694.7L527.2 1705.9L495.7 1716.7L464.3 1727.0L432.8 1736.8L401.4 1746.2L369.9 1755.1L338.4 1763.5L306.9 1771.5L275.3 1779.0L243.8 1786.1L212.2 1792.7L180.7 1798.8L149.1 1804.5L117.5 1809.8Z" fill="#EECCAD"/><path d="M82.8 1592.0L111.3 1587.3L139.7 1581.9L168.0 1575.8L196.3 1569.0L224.4 1561.0L252.5 1552.6L280.6 1543.7L308.6 1534.5L336.6 1524.8L364.6 1514.7L392.5 1504.2L420.6 1493.6L448.9 1483.4L477.2 1472.7L505.5 1461.5L533.8 1450.0L562.1 1438.0L590.4 1425.6L618.8 1412.7L647.2 1399.5L675.9 1386.6L704.7 1373.4L733.6 1359.6L762.5 1345.5L791.4 1330.9L820.3 1315.8L849.3 1300.4L878.3 1284.4L907.7 1268.6L937.3 1252.7L966.9 1236.3L996.6 1219.4L1026.3 1202.1L1055.7 1183.7L1085.0 1164.6L1114.2 1145.0L1143.5 1124.9L1172.8 1104.5L1202.1 1083.5L1231.4 1062.1L1259.9 1039.1L1288.3 1015.7L1316.8 991.8L1345.2 967.4L1373.7 942.7L1402.5 917.9L1431.5 892.8L1460.4 867.3L1489.4 841.4L1518.4 815.0L1547.4 788.2L1576.5 760.9L1605.5 733.2L1634.5 705.1L1663.6 676.5L1692.7 647.4L1721.8 618.0L1751.2 588.4L1780.6 558.2L1955.5 727.6L1924.9 759.0L1894.3 789.9L1863.8 820.5L1833.4 850.8L1802.9 880.6L1772.4 910.0L1741.9 939.0L1711.4 967.5L1680.9 995.6L1650.3 1023.2L1619.7 1050.5L1589.2 1077.2L1558.5 1103.6L1527.9 1129.5L1497.2 1154.9L1465.9 1179.1L1434.6 1202.9L1403.3 1226.3L1372.0 1249.2L1340.6 1271.6L1309.3 1293.6L1277.9 1315.1L1246.6 1336.2L1215.2 1356.8L1183.8 1377.0L1152.5 1396.7L1121.1 1416.0L1089.8 1435.0L1058.5 1453.6L1027.2 1471.8L995.9 1489.5L964.6 1506.7L933.3 1523.5L902.0 1539.8L870.6 1555.7L839.3 1571.1L807.9 1586.1L776.5 1600.6L745.3 1614.9L714.0 1628.8L682.7 1642.3L651.5 1655.3L620.1 1667.9L588.8 1680.0L557.5 1691.7L526.1 1702.9L494.7 1713.6L463.3 1723.9L431.9 1733.7L400.5 1743.1L369.0 1752.0L337.6 1760.4L306.1 1768.4L274.6 1775.9L243.1 1783.0L211.6 1789.6L180.1 1795.7L148.5 1801.4L117.0 1806.7Z" fill="#EECAAA"/><path d="M83.3 1595.2L111.8 1590.4L140.3 1585.1L168.7 1578.9L197.0 1572.2L225.2 1564.2L253.3 1555.8L281.4 1547.0L309.5 1537.8L337.6 1528.1L365.6 1518.1L393.6 1507.6L421.7 1497.1L450.1 1486.8L478.4 1476.1L506.8 1465.0L535.1 1453.4L563.5 1441.4L591.9 1429.0L620.3 1416.2L648.7 1402.9L677.5 1390.0L706.4 1376.7L735.2 1363.0L764.1 1348.8L793.1 1334.1L822.1 1319.1L851.1 1303.6L880.1 1287.6L909.5 1271.8L939.1 1255.8L968.8 1239.3L998.5 1222.4L1028.2 1205.0L1057.6 1186.6L1086.9 1167.4L1116.1 1147.8L1145.4 1127.7L1174.7 1107.2L1204.1 1086.2L1233.4 1064.8L1261.9 1041.8L1290.4 1018.4L1318.9 994.5L1347.4 970.2L1375.9 945.4L1404.8 920.6L1433.8 895.5L1462.8 870.0L1491.8 844.1L1520.8 817.7L1549.9 790.9L1578.9 763.6L1608.0 735.9L1637.1 707.7L1666.1 679.1L1695.2 650.0L1724.4 620.6L1753.8 590.9L1783.2 560.8L1953.0 725.1L1922.4 756.5L1891.8 787.4L1861.3 818.0L1830.9 848.3L1800.5 878.1L1770.0 907.5L1739.5 936.4L1709.0 964.9L1678.5 993.0L1648.0 1020.6L1617.4 1047.8L1586.8 1074.5L1556.2 1100.8L1525.6 1126.7L1495.0 1152.1L1463.7 1176.3L1432.4 1200.1L1401.2 1223.5L1369.9 1246.3L1338.6 1268.8L1307.3 1290.8L1276.0 1312.3L1244.6 1333.4L1213.3 1354.0L1182.0 1374.2L1150.6 1393.9L1119.3 1413.2L1088.0 1432.2L1056.8 1450.8L1025.6 1468.9L994.3 1486.6L963.0 1503.8L931.7 1520.6L900.5 1536.9L869.1 1552.8L837.8 1568.2L806.5 1583.2L775.2 1597.7L743.9 1612.0L712.7 1625.9L681.5 1639.4L650.2 1652.4L619.0 1664.9L587.7 1677.0L556.4 1688.7L525.0 1699.9L493.7 1710.6L462.3 1720.9L431.0 1730.7L399.6 1740.0L368.2 1748.9L336.8 1757.4L305.3 1765.3L273.9 1772.8L242.4 1779.9L211.0 1786.5L179.5 1792.6L148.0 1798.3L116.5 1803.5Z" fill="#EDC9A7"/><path d="M83.8 1598.4L112.4 1593.6L140.9 1588.2L169.3 1582.1L197.7 1575.4L225.9 1567.4L254.1 1559.1L282.3 1550.3L310.5 1541.1L338.6 1531.5L366.7 1521.5L394.7 1511.0L422.9 1500.5L451.3 1490.2L479.7 1479.5L508.1 1468.4L536.5 1456.8L564.9 1444.8L593.4 1432.4L621.8 1419.6L650.3 1406.3L679.1 1393.4L708.0 1380.1L736.9 1366.3L765.8 1352.1L794.8 1337.4L823.8 1322.3L852.8 1306.7L881.9 1290.8L911.3 1274.9L940.9 1258.8L970.6 1242.3L1000.3 1225.3L1030.1 1207.9L1059.5 1189.4L1088.8 1170.2L1118.1 1150.6L1147.4 1130.5L1176.7 1109.9L1206.1 1089.0L1235.5 1067.5L1264.0 1044.5L1292.5 1021.1L1321.1 997.2L1349.6 972.9L1378.2 948.1L1407.1 923.3L1436.1 898.2L1465.1 872.7L1494.2 846.8L1523.2 820.4L1552.3 793.5L1581.4 766.2L1610.5 738.5L1639.6 710.3L1668.7 681.7L1697.8 652.6L1727.0 623.2L1756.4 593.5L1785.8 563.3L1950.5 722.7L1919.9 754.1L1889.3 785.0L1858.9 815.6L1828.4 845.8L1798.0 875.6L1767.6 904.9L1737.1 933.8L1706.6 962.3L1676.1 990.3L1645.6 1017.9L1615.1 1045.1L1584.5 1071.8L1553.9 1098.1L1523.3 1123.9L1492.7 1149.3L1461.5 1173.5L1430.2 1197.3L1399.0 1220.6L1367.7 1243.5L1336.5 1266.0L1305.2 1287.9L1274.0 1309.5L1242.7 1330.5L1211.4 1351.2L1180.1 1371.3L1148.8 1391.1L1117.5 1410.3L1086.3 1429.4L1055.1 1447.9L1023.9 1466.1L992.7 1483.7L961.4 1500.9L930.2 1517.7L898.9 1534.0L867.7 1549.9L836.4 1565.3L805.1 1580.2L773.8 1594.7L742.6 1609.1L711.4 1623.0L680.2 1636.4L649.0 1649.4L617.8 1662.0L586.5 1674.0L555.3 1685.7L524.0 1696.9L492.7 1707.6L461.4 1717.8L430.0 1727.6L398.7 1737.0L367.3 1745.8L335.9 1754.3L304.6 1762.2L273.2 1769.7L241.7 1776.8L210.3 1783.3L178.9 1789.5L147.4 1795.1L116.0 1800.4Z" fill="#ECC7A4"/><path d="M84.3 1601.5L112.9 1596.8L141.5 1591.4L170.0 1585.3L198.4 1578.5L226.7 1570.6L255.0 1562.3L283.2 1553.6L311.4 1544.4L339.6 1534.9L367.7 1524.9L395.8 1514.5L424.1 1504.0L452.5 1493.7L480.9 1483.0L509.4 1471.8L537.9 1460.3L566.3 1448.3L594.8 1435.8L623.3 1423.0L651.8 1409.7L680.7 1396.8L709.6 1383.4L738.6 1369.6L767.5 1355.3L796.5 1340.7L825.6 1325.5L854.6 1309.9L883.7 1293.9L913.2 1278.0L942.8 1261.9L972.5 1245.3L1002.2 1228.3L1032.0 1210.8L1061.4 1192.3L1090.7 1173.0L1120.0 1153.4L1149.3 1133.2L1178.7 1112.7L1208.1 1091.7L1237.5 1070.2L1266.1 1047.2L1294.7 1023.8L1323.2 999.9L1351.8 975.6L1380.4 950.8L1409.3 926.0L1438.4 900.9L1467.5 875.4L1496.5 849.4L1525.6 823.0L1554.7 796.2L1583.8 768.9L1613.0 741.1L1642.1 712.9L1671.2 684.3L1700.4 655.2L1729.6 625.8L1759.0 596.1L1788.5 565.9L1948.0 720.3L1917.4 751.6L1886.8 782.5L1856.4 813.1L1826.0 843.3L1795.6 873.0L1765.1 902.3L1734.7 931.2L1704.2 959.7L1673.7 987.7L1643.2 1015.2L1612.7 1042.4L1582.2 1069.1L1551.6 1095.3L1521.0 1121.1L1490.4 1146.5L1459.2 1170.7L1428.0 1194.5L1396.8 1217.8L1365.6 1240.7L1334.4 1263.1L1303.2 1285.1L1272.0 1306.6L1240.7 1327.7L1209.5 1348.3L1178.2 1368.5L1146.9 1388.2L1115.7 1407.5L1084.5 1426.5L1053.4 1445.1L1022.2 1463.2L991.0 1480.9L959.8 1498.1L928.6 1514.8L897.4 1531.1L866.2 1547.0L834.9 1562.4L803.7 1577.3L772.4 1591.8L741.3 1606.1L710.1 1620.0L679.0 1633.5L647.8 1646.4L616.6 1659.0L585.4 1671.1L554.2 1682.7L522.9 1693.8L491.7 1704.5L460.4 1714.8L429.1 1724.6L397.8 1733.9L366.5 1742.8L335.1 1751.2L303.8 1759.1L272.4 1766.6L241.1 1773.7L209.7 1780.2L178.3 1786.3L146.9 1792.0L115.5 1797.2Z" fill="#ECC5A0"/><path d="M84.8 1604.7L113.5 1599.9L142.1 1594.6L170.6 1588.5L199.1 1581.7L227.5 1573.9L255.8 1565.6L284.0 1556.9L312.3 1547.8L340.5 1538.2L368.7 1528.3L396.9 1517.9L425.2 1507.4L453.7 1497.1L482.2 1486.4L510.7 1475.3L539.2 1463.7L567.7 1451.7L596.3 1439.3L624.8 1426.4L653.4 1413.1L682.3 1400.2L711.2 1386.8L740.2 1372.9L769.2 1358.6L798.3 1343.9L827.3 1328.7L856.4 1313.1L885.5 1297.1L915.0 1281.1L944.6 1264.9L974.3 1248.3L1004.1 1231.2L1033.8 1213.7L1063.3 1195.1L1092.6 1175.9L1121.9 1156.2L1151.3 1136.0L1180.7 1115.4L1210.1 1094.4L1239.5 1072.9L1268.1 1049.9L1296.8 1026.5L1325.4 1002.6L1354.0 978.3L1382.7 953.6L1411.6 928.7L1440.7 903.6L1469.8 878.1L1498.9 852.1L1528.0 825.7L1557.2 798.8L1586.3 771.5L1615.4 743.8L1644.6 715.6L1673.8 686.9L1703.0 657.8L1732.2 628.4L1761.7 598.6L1791.1 568.4L1945.4 717.8L1914.9 749.2L1884.4 780.0L1853.9 810.6L1823.5 840.7L1793.1 870.5L1762.7 899.8L1732.3 928.6L1701.8 957.0L1671.4 985.0L1640.9 1012.6L1610.4 1039.7L1579.8 1066.3L1549.3 1092.6L1518.7 1118.4L1488.2 1143.7L1457.0 1167.9L1425.8 1191.7L1394.7 1215.0L1363.5 1237.9L1332.3 1260.3L1301.1 1282.3L1270.0 1303.8L1238.8 1324.9L1207.5 1345.5L1176.3 1365.7L1145.1 1385.4L1113.9 1404.6L1082.8 1423.7L1051.6 1442.2L1020.5 1460.3L989.4 1478.0L958.2 1495.2L927.0 1512.0L895.9 1528.3L864.7 1544.1L833.5 1559.5L802.3 1574.4L771.1 1588.9L739.9 1603.2L708.8 1617.1L677.7 1630.5L646.6 1643.5L615.4 1656.0L584.2 1668.1L553.1 1679.7L521.9 1690.8L490.6 1701.5L459.4 1711.7L428.2 1721.5L396.9 1730.8L365.6 1739.7L334.3 1748.1L303.0 1756.0L271.7 1763.5L240.4 1770.5L209.1 1777.1L177.7 1783.2L146.4 1788.9L115.0 1794.1Z" fill="#EBC39D"/><path d="M85.3 1607.9L114.0 1603.1L142.7 1597.7L171.3 1591.6L199.8 1584.9L228.2 1577.1L256.6 1568.8L284.9 1560.2L313.2 1551.1L341.5 1541.6L369.8 1531.6L398.0 1521.3L426.4 1510.8L454.9 1500.5L483.5 1489.8L512.0 1478.7L540.6 1467.1L569.2 1455.1L597.7 1442.7L626.3 1429.8L654.9 1416.5L683.9 1403.5L712.9 1390.1L741.9 1376.2L770.9 1361.9L800.0 1347.2L829.1 1332.0L858.2 1316.3L887.4 1300.2L916.8 1284.2L946.5 1268.0L976.2 1251.3L1005.9 1234.1L1035.7 1216.5L1065.2 1198.0L1094.5 1178.7L1123.9 1159.0L1153.2 1138.8L1182.6 1118.2L1212.1 1097.1L1241.5 1075.6L1270.2 1052.6L1298.9 1029.2L1327.6 1005.3L1356.2 981.0L1384.9 956.3L1413.9 931.4L1443.0 906.3L1472.1 880.8L1501.3 854.8L1530.4 828.4L1559.6 801.5L1588.8 774.2L1617.9 746.4L1647.1 718.2L1676.3 689.5L1705.5 660.4L1734.8 631.0L1764.3 601.2L1793.7 571.0L1942.9 715.4L1912.4 746.7L1881.9 777.5L1851.5 808.1L1821.1 838.2L1790.7 867.9L1760.3 897.2L1729.9 926.0L1699.4 954.4L1669.0 982.4L1638.5 1009.9L1608.0 1037.0L1577.5 1063.6L1547.0 1089.8L1516.4 1115.6L1485.9 1140.9L1454.8 1165.1L1423.7 1188.9L1392.5 1212.2L1361.4 1235.1L1330.3 1257.5L1299.1 1279.5L1268.0 1301.0L1236.8 1322.1L1205.6 1342.7L1174.5 1362.8L1143.3 1382.6L1112.1 1401.8L1081.0 1420.8L1049.9 1439.4L1018.8 1457.5L987.7 1475.1L956.6 1492.3L925.5 1509.1L894.3 1525.4L863.2 1541.2L832.0 1556.6L800.9 1571.5L769.7 1586.0L738.6 1600.3L707.5 1614.2L676.5 1627.6L645.4 1640.5L614.2 1653.0L583.1 1665.1L552.0 1676.7L520.8 1687.8L489.6 1698.5L458.4 1708.7L427.2 1718.5L396.0 1727.8L364.8 1736.6L333.5 1745.0L302.3 1753.0L271.0 1760.4L239.7 1767.4L208.4 1774.0L177.1 1780.1L145.8 1785.7L114.5 1791.0Z" fill="#EBC19A"/><path d="M85.8 1611.1L114.6 1606.3L143.3 1600.9L171.9 1594.8L200.5 1588.1L229.0 1580.3L257.4 1572.1L285.8 1563.5L314.1 1554.4L342.5 1544.9L370.8 1535.0L399.1 1524.7L427.5 1514.3L456.1 1504.0L484.7 1493.3L513.3 1482.1L541.9 1470.5L570.6 1458.5L599.2 1446.1L627.8 1433.2L656.5 1419.9L685.5 1406.9L714.5 1393.5L743.5 1379.6L772.6 1365.2L801.7 1350.4L830.8 1335.2L860.0 1319.5L889.2 1303.4L918.7 1287.3L948.3 1271.0L978.0 1254.3L1007.8 1237.1L1037.6 1219.4L1067.1 1200.8L1096.4 1181.5L1125.8 1161.8L1155.2 1141.5L1184.6 1120.9L1214.1 1099.8L1243.5 1078.2L1272.3 1055.3L1301.0 1031.9L1329.7 1008.0L1358.4 983.7L1387.2 959.0L1416.2 934.2L1445.3 909.0L1474.5 883.5L1503.6 857.5L1532.8 831.0L1562.0 804.1L1591.2 776.8L1620.4 749.0L1649.6 720.8L1678.9 692.1L1708.1 663.0L1737.4 633.5L1766.9 603.7L1796.4 573.5L1940.4 713.0L1909.9 744.2L1879.4 775.1L1849.0 805.6L1818.6 835.7L1788.3 865.4L1757.9 894.6L1727.5 923.4L1697.0 951.8L1666.6 979.7L1636.1 1007.2L1605.7 1034.3L1575.2 1060.9L1544.7 1087.1L1514.2 1112.8L1483.6 1138.1L1452.5 1162.3L1421.5 1186.1L1390.4 1209.4L1359.3 1232.3L1328.2 1254.7L1297.1 1276.6L1266.0 1298.2L1234.8 1319.2L1203.7 1339.8L1172.6 1360.0L1141.4 1379.7L1110.3 1399.0L1079.2 1418.0L1048.2 1436.5L1017.1 1454.6L986.1 1472.3L955.0 1489.5L923.9 1506.2L892.8 1522.5L861.7 1538.3L830.6 1553.7L799.5 1568.6L768.3 1583.1L737.3 1597.4L706.3 1611.2L675.2 1624.6L644.1 1637.5L613.1 1650.0L582.0 1662.1L550.9 1673.7L519.7 1684.8L488.6 1695.4L457.4 1705.7L426.3 1715.4L395.1 1724.7L363.9 1733.6L332.7 1741.9L301.5 1749.9L270.3 1757.3L239.0 1764.3L207.8 1770.9L176.5 1777.0L145.3 1782.6L114.0 1787.8Z" fill="#EABF97"/><path d="M86.3 1614.2L115.1 1609.4L143.9 1604.1L172.6 1598.0L201.2 1591.3L229.7 1583.5L258.2 1575.3L286.6 1566.7L315.1 1557.7L343.5 1548.3L371.9 1538.4L400.2 1528.1L428.7 1517.7L457.3 1507.4L486.0 1496.7L514.6 1485.6L543.3 1474.0L572.0 1462.0L600.6 1449.5L629.3 1436.7L658.0 1423.4L687.1 1410.3L716.1 1396.8L745.2 1382.9L774.3 1368.5L803.4 1353.7L832.6 1338.4L861.8 1322.7L891.0 1306.6L920.5 1290.4L950.2 1274.1L979.9 1257.3L1009.7 1240.0L1039.5 1222.3L1069.0 1203.7L1098.3 1184.3L1127.7 1164.6L1157.2 1144.3L1186.6 1123.6L1216.1 1102.5L1245.5 1080.9L1274.3 1058.0L1303.1 1034.6L1331.9 1010.7L1360.6 986.4L1389.4 961.7L1418.5 936.9L1447.6 911.7L1476.8 886.2L1506.0 860.2L1535.2 833.7L1564.4 806.8L1593.7 779.5L1622.9 751.7L1652.1 723.4L1681.4 694.7L1710.7 665.6L1740.0 636.1L1769.5 606.3L1799.0 576.1L1937.9 710.5L1907.4 741.8L1876.9 772.6L1846.5 803.1L1816.2 833.2L1785.8 862.8L1755.4 892.1L1725.1 920.8L1694.6 949.2L1664.2 977.1L1633.8 1004.6L1603.3 1031.6L1572.9 1058.2L1542.4 1084.3L1511.9 1110.0L1481.3 1135.3L1450.3 1159.5L1419.3 1183.3L1388.2 1206.6L1357.2 1229.4L1326.1 1251.9L1295.0 1273.8L1264.0 1295.3L1232.9 1316.4L1201.8 1337.0L1170.7 1357.2L1139.6 1376.9L1108.5 1396.1L1077.5 1415.1L1046.5 1433.7L1015.5 1451.8L984.4 1469.4L953.4 1486.6L922.3 1503.3L891.3 1519.6L860.2 1535.4L829.1 1550.8L798.0 1565.7L767.0 1580.2L736.0 1594.4L705.0 1608.3L673.9 1621.7L642.9 1634.6L611.9 1647.1L580.8 1659.1L549.8 1670.6L518.7 1681.8L487.6 1692.4L456.5 1702.6L425.3 1712.4L394.2 1721.6L363.1 1730.5L331.9 1738.9L300.7 1746.8L269.5 1754.2L238.3 1761.2L207.1 1767.8L175.9 1773.8L144.7 1779.5L113.5 1784.7Z" fill="#E9BD94"/><path d="M86.9 1617.4L115.7 1612.6L144.5 1607.2L173.2 1601.1L201.9 1594.5L230.5 1586.7L259.0 1578.6L287.5 1570.0L316.0 1561.1L344.5 1551.6L372.9 1541.8L401.3 1531.6L429.9 1521.2L458.5 1510.9L487.2 1500.1L515.9 1489.0L544.7 1477.4L573.4 1465.4L602.1 1453.0L630.8 1440.1L659.6 1426.8L688.7 1413.7L717.7 1400.2L746.9 1386.2L776.0 1371.8L805.2 1356.9L834.3 1341.6L863.6 1325.9L892.8 1309.7L922.3 1293.6L952.0 1277.2L981.8 1260.3L1011.5 1243.0L1041.3 1225.2L1070.9 1206.5L1100.3 1187.2L1129.7 1167.3L1159.1 1147.1L1188.6 1126.4L1218.1 1105.2L1247.6 1083.6L1276.4 1060.6L1305.2 1037.2L1334.0 1013.4L1362.8 989.1L1391.7 964.4L1420.7 939.6L1449.9 914.4L1479.2 888.9L1508.4 862.8L1537.6 836.4L1566.9 809.5L1596.1 782.1L1625.4 754.3L1654.7 726.0L1683.9 697.4L1713.2 668.2L1742.6 638.7L1772.1 608.9L1801.6 578.6L1935.4 708.1L1904.9 739.3L1874.5 770.1L1844.1 800.6L1813.7 830.7L1783.4 860.3L1753.0 889.5L1722.6 918.2L1692.3 946.6L1661.8 974.4L1631.4 1001.9L1601.0 1028.9L1570.5 1055.4L1540.1 1081.6L1509.6 1107.3L1479.1 1132.5L1448.1 1156.7L1417.1 1180.5L1386.1 1203.8L1355.0 1226.6L1324.0 1249.0L1293.0 1271.0L1262.0 1292.5L1230.9 1313.6L1199.9 1334.2L1168.8 1354.3L1137.8 1374.0L1106.7 1393.3L1075.7 1412.3L1044.8 1430.8L1013.8 1448.9L982.8 1466.5L951.8 1483.7L920.8 1500.4L889.8 1516.7L858.7 1532.5L827.7 1547.9L796.6 1562.8L765.6 1577.3L734.6 1591.5L703.7 1605.3L672.7 1618.7L641.7 1631.6L610.7 1644.1L579.7 1656.1L548.7 1667.6L517.6 1678.7L486.6 1689.4L455.5 1699.6L424.4 1709.3L393.3 1718.6L362.2 1727.4L331.1 1735.8L300.0 1743.7L268.8 1751.1L237.7 1758.1L206.5 1764.6L175.3 1770.7L144.2 1776.4L113.0 1781.5Z" fill="#E9BB91"/><path d="M87.4 1620.6L116.2 1615.8L145.1 1610.4L173.8 1604.3L202.6 1597.7L231.2 1590.0L259.8 1581.9L288.4 1573.3L316.9 1564.4L345.4 1555.0L374.0 1545.2L402.5 1535.0L431.0 1524.6L459.8 1514.3L488.5 1503.6L517.3 1492.4L546.0 1480.8L574.8 1468.8L603.6 1456.4L632.3 1443.5L661.1 1430.2L690.2 1417.1L719.4 1403.5L748.5 1389.5L777.7 1375.1L806.9 1360.2L836.1 1344.9L865.3 1329.1L894.6 1312.9L924.2 1296.7L953.9 1280.2L983.6 1263.3L1013.4 1245.9L1043.2 1228.1L1072.7 1209.4L1102.2 1190.0L1131.6 1170.1L1161.1 1149.9L1190.6 1129.1L1220.1 1107.9L1249.6 1086.3L1278.4 1063.3L1307.3 1039.9L1336.2 1016.1L1365.0 991.9L1393.9 967.2L1423.0 942.3L1452.3 917.1L1481.5 891.6L1510.8 865.5L1540.0 839.0L1569.3 812.1L1598.6 784.7L1627.9 756.9L1657.2 728.7L1686.5 700.0L1715.8 670.8L1745.2 641.3L1774.7 611.4L1804.2 581.2L1932.9 705.7L1902.4 736.9L1872.0 767.7L1841.6 798.1L1811.3 828.1L1780.9 857.8L1750.6 886.9L1720.2 915.7L1689.9 943.9L1659.5 971.8L1629.1 999.2L1598.6 1026.2L1568.2 1052.7L1537.7 1078.8L1507.3 1104.5L1476.8 1129.7L1445.8 1153.9L1414.9 1177.6L1383.9 1201.0L1352.9 1223.8L1321.9 1246.2L1291.0 1268.2L1260.0 1289.7L1229.0 1310.7L1198.0 1331.3L1166.9 1351.5L1135.9 1371.2L1104.9 1390.5L1074.0 1409.4L1043.0 1428.0L1012.1 1446.0L981.1 1463.7L950.2 1480.8L919.2 1497.5L888.2 1513.8L857.2 1529.6L826.2 1545.0L795.2 1559.9L764.2 1574.4L733.3 1588.6L702.4 1602.4L671.4 1615.8L640.5 1628.7L609.5 1641.1L578.5 1653.1L547.6 1664.6L516.5 1675.7L485.5 1686.4L454.5 1696.5L423.5 1706.3L392.4 1715.5L361.3 1724.3L330.3 1732.7L299.2 1740.6L268.1 1748.0L237.0 1755.0L205.9 1761.5L174.8 1767.6L143.6 1773.2L112.5 1778.4Z" fill="#E8BA8E"/><path d="M87.9 1623.8L116.8 1618.9L145.7 1613.6L174.5 1607.5L203.3 1600.8L232.0 1593.2L260.6 1585.1L289.2 1576.6L317.8 1567.7L346.4 1558.4L375.0 1548.6L403.6 1538.4L432.2 1528.0L461.0 1517.7L489.8 1507.0L518.6 1495.9L547.4 1484.3L576.2 1472.2L605.0 1459.8L633.9 1446.9L662.7 1433.6L691.8 1420.5L721.0 1406.9L750.2 1392.8L779.4 1378.4L808.6 1363.5L837.9 1348.1L867.1 1332.3L896.4 1316.1L926.0 1299.8L955.7 1283.3L985.5 1266.3L1015.2 1248.9L1045.1 1231.0L1074.6 1212.2L1104.1 1192.8L1133.6 1172.9L1163.0 1152.6L1192.5 1131.9L1222.1 1110.6L1251.6 1089.0L1280.5 1066.0L1309.4 1042.6L1338.3 1018.8L1367.2 994.6L1396.1 969.9L1425.3 945.0L1454.6 919.8L1483.8 894.2L1513.1 868.2L1542.4 841.7L1571.7 814.8L1601.0 787.4L1630.4 759.6L1659.7 731.3L1689.0 702.6L1718.4 673.4L1747.8 643.9L1777.3 614.0L1806.9 583.7L1930.4 703.2L1899.9 734.4L1869.5 765.2L1839.1 795.6L1808.8 825.6L1778.5 855.2L1748.2 884.4L1717.8 913.1L1687.5 941.3L1657.1 969.2L1626.7 996.5L1596.3 1023.5L1565.9 1050.0L1535.4 1076.1L1505.0 1101.7L1474.5 1126.9L1443.6 1151.1L1412.7 1174.8L1381.7 1198.1L1350.8 1221.0L1319.9 1243.4L1288.9 1265.4L1258.0 1286.9L1227.0 1307.9L1196.0 1328.5L1165.1 1348.7L1134.1 1368.4L1103.1 1387.6L1072.2 1406.6L1041.3 1425.1L1010.4 1443.2L979.5 1460.8L948.6 1478.0L917.6 1494.7L886.7 1510.9L855.7 1526.7L824.8 1542.1L793.8 1557.0L762.8 1571.5L732.0 1585.7L701.1 1599.5L670.2 1612.8L639.3 1625.7L608.3 1638.1L577.4 1650.1L546.4 1661.6L515.5 1672.7L484.5 1683.3L453.5 1693.5L422.5 1703.2L391.5 1712.5L360.5 1721.3L329.5 1729.6L298.4 1737.5L267.4 1744.9L236.3 1751.9L205.2 1758.4L174.2 1764.5L143.1 1770.1L112.0 1775.3Z" fill="#E8B88B"/><path d="M88.4 1626.9L117.3 1622.1L146.3 1616.7L175.1 1610.7L204.0 1604.0L232.7 1596.4L261.4 1588.4L290.1 1579.9L318.8 1571.0L347.4 1561.7L376.0 1552.0L404.7 1541.8L433.3 1531.5L462.2 1521.2L491.0 1510.5L519.9 1499.3L548.7 1487.7L577.6 1475.7L606.5 1463.2L635.4 1450.3L664.3 1437.0L693.4 1423.8L722.6 1410.2L751.8 1396.2L781.1 1381.7L810.3 1366.7L839.6 1351.3L868.9 1335.5L898.2 1319.2L927.8 1302.9L957.6 1286.3L987.3 1269.3L1017.1 1251.8L1046.9 1233.9L1076.5 1215.1L1106.0 1195.6L1135.5 1175.7L1165.0 1155.4L1194.5 1134.6L1224.1 1113.4L1253.6 1091.7L1282.6 1068.7L1311.5 1045.3L1340.5 1021.5L1369.4 997.3L1398.4 972.6L1427.6 947.7L1456.9 922.6L1486.2 896.9L1515.5 870.9L1544.8 844.4L1574.2 817.4L1603.5 790.0L1632.8 762.2L1662.2 733.9L1691.6 705.2L1720.9 676.0L1750.4 646.5L1779.9 616.6L1809.5 586.2L1927.8 700.8L1897.4 732.0L1867.0 762.7L1836.7 793.1L1806.4 823.1L1776.1 852.7L1745.8 881.8L1715.4 910.5L1685.1 938.7L1654.7 966.5L1624.3 993.9L1593.9 1020.8L1563.5 1047.3L1533.1 1073.3L1502.7 1098.9L1472.3 1124.1L1441.4 1148.3L1410.5 1172.0L1379.6 1195.3L1348.7 1218.2L1317.8 1240.6L1286.9 1262.5L1256.0 1284.0L1225.0 1305.1L1194.1 1325.7L1163.2 1345.8L1132.2 1365.5L1101.3 1384.8L1070.5 1403.8L1039.6 1422.3L1008.7 1440.3L977.8 1457.9L947.0 1475.1L916.1 1491.8L885.2 1508.0L854.3 1523.8L823.3 1539.2L792.4 1554.1L761.5 1568.6L730.6 1582.7L699.8 1596.5L668.9 1609.8L638.0 1622.7L607.2 1635.1L576.3 1647.1L545.3 1658.6L514.4 1669.7L483.5 1680.3L452.5 1690.4L421.6 1700.1L390.6 1709.4L359.6 1718.2L328.7 1726.5L297.7 1734.4L266.6 1741.8L235.6 1748.8L204.6 1755.3L173.6 1761.3L142.5 1767.0L111.5 1772.1Z" fill="#E7B689"/><path d="M88.9 1630.1L117.9 1625.3L146.8 1619.9L175.8 1613.8L204.7 1607.2L233.5 1599.6L262.2 1591.6L291.0 1583.2L319.7 1574.3L348.4 1565.1L377.1 1555.4L405.8 1545.2L434.5 1534.9L463.4 1524.6L492.3 1513.9L521.2 1502.7L550.1 1491.1L579.0 1479.1L607.9 1466.6L636.9 1453.7L665.8 1440.4L695.0 1427.2L724.2 1413.6L753.5 1399.5L782.8 1384.9L812.1 1370.0L841.4 1354.6L870.7 1338.7L900.1 1322.4L929.7 1306.0L959.4 1289.4L989.2 1272.3L1019.0 1254.8L1048.8 1236.8L1078.4 1217.9L1107.9 1198.5L1137.4 1178.5L1166.9 1158.2L1196.5 1137.3L1226.1 1116.1L1255.6 1094.3L1284.6 1071.4L1313.6 1048.0L1342.6 1024.2L1371.6 1000.0L1400.6 975.3L1429.8 950.4L1459.2 925.3L1488.5 899.6L1517.9 873.6L1547.2 847.0L1576.6 820.1L1605.9 792.7L1635.3 764.8L1664.7 736.5L1694.1 707.8L1723.5 678.6L1753.0 649.0L1782.5 619.1L1812.1 588.8L1925.3 698.4L1894.9 729.5L1864.5 760.3L1834.2 790.6L1803.9 820.6L1773.6 850.1L1743.3 879.2L1713.0 907.9L1682.7 936.1L1652.3 963.9L1622.0 991.2L1591.6 1018.1L1561.2 1044.6L1530.8 1070.6L1500.4 1096.2L1470.0 1121.3L1439.1 1145.5L1408.3 1169.2L1377.4 1192.5L1346.6 1215.4L1315.7 1237.8L1284.8 1259.7L1254.0 1281.2L1223.1 1302.3L1192.2 1322.9L1161.3 1343.0L1130.4 1362.7L1099.5 1382.0L1068.7 1400.9L1037.9 1419.4L1007.0 1437.5L976.2 1455.1L945.4 1472.2L914.5 1488.9L883.6 1505.2L852.8 1521.0L821.9 1536.3L791.0 1551.2L760.1 1565.6L729.3 1579.8L698.5 1593.6L667.7 1606.9L636.8 1619.8L606.0 1632.2L575.1 1644.1L544.2 1655.6L513.4 1666.7L482.5 1677.3L451.6 1687.4L420.6 1697.1L389.7 1706.3L358.8 1715.1L327.8 1723.4L296.9 1731.3L265.9 1738.7L235.0 1745.7L204.0 1752.2L173.0 1758.2L142.0 1763.8L111.0 1769.0Z" fill="#E6B486"/><path d="M89.4 1633.3L118.4 1628.4L147.4 1623.0L176.4 1617.0L205.4 1610.4L234.2 1602.8L263.0 1594.9L291.8 1586.5L320.6 1577.7L349.4 1568.4L378.1 1558.8L406.9 1548.7L435.7 1538.4L464.6 1528.1L493.5 1517.3L522.5 1506.2L551.5 1494.6L580.4 1482.5L609.4 1470.1L638.4 1457.2L667.4 1443.8L696.6 1430.6L725.9 1416.9L755.2 1402.8L784.5 1388.2L813.8 1373.2L843.1 1357.8L872.5 1341.9L901.9 1325.6L931.5 1309.1L961.2 1292.4L991.0 1275.3L1020.8 1257.7L1050.7 1239.7L1080.3 1220.8L1109.8 1201.3L1139.4 1181.3L1168.9 1160.9L1198.5 1140.1L1228.0 1118.8L1257.6 1097.0L1286.7 1074.1L1315.7 1050.7L1344.8 1026.9L1373.8 1002.7L1402.9 978.0L1432.1 953.1L1461.5 928.0L1490.9 902.3L1520.2 876.2L1549.6 849.7L1579.0 822.7L1608.4 795.3L1637.8 767.5L1667.2 739.2L1696.6 710.4L1726.1 681.2L1755.6 651.6L1785.2 621.7L1814.8 591.3L1922.8 695.9L1892.4 727.1L1862.1 757.8L1831.8 788.1L1801.5 818.1L1771.2 847.6L1740.9 876.7L1710.6 905.3L1680.3 933.5L1650.0 961.2L1619.6 988.5L1589.3 1015.4L1558.9 1041.8L1528.5 1067.8L1498.1 1093.4L1467.7 1118.5L1436.9 1142.7L1406.1 1166.4L1375.3 1189.7L1344.5 1212.5L1313.6 1234.9L1282.8 1256.9L1252.0 1278.4L1221.1 1299.4L1190.3 1320.0L1159.4 1340.2L1128.6 1359.9L1097.7 1379.1L1066.9 1398.1L1036.1 1416.6L1005.4 1434.6L974.6 1452.2L943.7 1469.3L912.9 1486.0L882.1 1502.3L851.3 1518.1L820.4 1533.4L789.6 1548.3L758.7 1562.7L728.0 1576.9L697.2 1590.6L666.4 1603.9L635.6 1616.8L604.8 1629.2L574.0 1641.1L543.1 1652.6L512.3 1663.6L481.4 1674.2L450.6 1684.4L419.7 1694.0L388.8 1703.3L357.9 1712.0L327.0 1720.4L296.1 1728.2L265.2 1735.6L234.3 1742.6L203.3 1749.1L172.4 1755.1L141.5 1760.7L110.5 1765.9Z" fill="#E6B283"/><path d="M89.9 1636.5L119.0 1631.6L148.0 1626.2L177.1 1620.2L206.1 1613.6L235.0 1606.1L263.8 1598.1L292.7 1589.8L321.5 1581.0L350.4 1571.8L379.2 1562.1L408.0 1552.1L436.8 1541.8L465.8 1531.5L494.8 1520.8L523.8 1509.6L552.8 1498.0L581.8 1486.0L610.9 1473.5L639.9 1460.6L668.9 1447.2L698.2 1434.0L727.5 1420.3L756.8 1406.1L786.1 1391.5L815.5 1376.5L844.9 1361.0L874.3 1345.1L903.7 1328.7L933.3 1312.2L963.1 1295.5L992.9 1278.3L1022.7 1260.7L1052.6 1242.6L1082.2 1223.6L1111.7 1204.1L1141.3 1184.1L1170.9 1163.7L1200.4 1142.8L1230.0 1121.5L1259.7 1099.7L1288.8 1076.8L1317.8 1053.4L1346.9 1029.6L1376.0 1005.4L1405.1 980.7L1434.4 955.9L1463.8 930.7L1493.2 905.0L1522.6 878.9L1552.0 852.4L1581.4 825.4L1610.9 798.0L1640.3 770.1L1669.7 741.8L1699.2 713.0L1728.6 683.8L1758.1 654.2L1787.8 624.3L1817.4 593.9L1920.3 693.5L1889.9 724.6L1859.6 755.3L1829.3 785.6L1799.0 815.6L1768.8 845.0L1738.5 874.1L1708.2 902.7L1677.9 930.9L1647.6 958.6L1617.2 985.9L1586.9 1012.7L1556.6 1039.1L1526.2 1065.1L1495.8 1090.6L1465.4 1115.7L1434.7 1139.9L1403.9 1163.6L1373.1 1186.9L1342.3 1209.7L1311.6 1232.1L1280.8 1254.1L1250.0 1275.6L1219.2 1296.6L1188.4 1317.2L1157.6 1337.3L1126.7 1357.0L1095.9 1376.3L1065.2 1395.2L1034.4 1413.7L1003.7 1431.7L972.9 1449.3L942.1 1466.5L911.4 1483.1L880.6 1499.4L849.8 1515.2L819.0 1530.5L788.2 1545.4L757.4 1559.8L726.6 1574.0L695.9 1587.7L665.1 1601.0L634.4 1613.8L603.6 1626.2L572.8 1638.1L542.0 1649.6L511.2 1660.6L480.4 1671.2L449.6 1681.3L418.8 1691.0L387.9 1700.2L357.1 1709.0L326.2 1717.3L295.4 1725.1L264.5 1732.5L233.6 1739.5L202.7 1745.9L171.8 1752.0L140.9 1757.6L110.0 1762.7Z" fill="#E5B180"/><path d="M90.4 1639.6L119.5 1634.8L148.6 1629.4L177.7 1623.3L206.8 1616.8L235.7 1609.3L264.6 1601.4L293.6 1593.1L322.5 1584.3L351.3 1575.1L380.2 1565.5L409.1 1555.5L438.0 1545.2L467.0 1534.9L496.1 1524.2L525.1 1513.0L554.2 1501.4L583.2 1489.4L612.3 1476.9L641.4 1464.0L670.5 1450.7L699.8 1437.4L729.1 1423.6L758.5 1409.4L787.8 1394.8L817.2 1379.7L846.6 1364.2L876.1 1348.3L905.5 1331.9L935.2 1315.4L964.9 1298.6L994.7 1281.3L1024.6 1263.6L1054.4 1245.4L1084.1 1226.5L1113.7 1206.9L1143.2 1186.9L1172.8 1166.5L1202.4 1145.5L1232.0 1124.2L1261.7 1102.4L1290.8 1079.5L1319.9 1056.1L1349.1 1032.3L1378.2 1008.1L1407.4 983.5L1436.7 958.6L1466.1 933.4L1495.5 907.7L1525.0 881.6L1554.4 855.0L1583.9 828.0L1613.3 800.6L1642.8 772.7L1672.2 744.4L1701.7 715.6L1731.2 686.4L1760.7 656.8L1790.4 626.8L1820.0 596.4L1917.8 691.1L1887.4 722.2L1857.1 752.8L1826.8 783.1L1796.6 813.0L1766.3 842.5L1736.1 871.5L1705.8 900.1L1675.5 928.2L1645.2 955.9L1614.9 983.2L1584.6 1010.0L1554.2 1036.4L1523.9 1062.3L1493.5 1087.8L1463.2 1112.9L1432.4 1137.1L1401.7 1160.8L1371.0 1184.1L1340.2 1206.9L1309.5 1229.3L1278.7 1251.2L1248.0 1272.7L1217.2 1293.8L1186.4 1314.4L1155.7 1334.5L1124.9 1354.2L1094.1 1373.4L1063.4 1392.4L1032.7 1410.8L1002.0 1428.9L971.3 1446.5L940.5 1463.6L909.8 1480.3L879.0 1496.5L848.3 1512.3L817.5 1527.6L786.8 1542.5L756.0 1556.9L725.3 1571.1L694.6 1584.8L663.9 1598.0L633.2 1610.9L602.4 1623.2L571.7 1635.1L540.9 1646.6L510.2 1657.6L479.4 1668.2L448.6 1678.3L417.8 1687.9L387.0 1697.1L356.2 1705.9L325.4 1714.2L294.6 1722.0L263.8 1729.4L232.9 1736.3L202.1 1742.8L171.2 1748.8L140.4 1754.4L109.5 1759.6Z" fill="#E5AF7D"/><path d="M90.9 1642.8L120.1 1637.9L149.2 1632.5L178.4 1626.5L207.5 1619.9L236.5 1612.5L265.5 1604.7L294.4 1596.4L323.4 1587.6L352.3 1578.5L381.2 1568.9L410.2 1558.9L439.1 1548.7L468.2 1538.4L497.3 1527.6L526.4 1516.5L555.5 1504.9L584.6 1492.8L613.8 1480.3L642.9 1467.4L672.0 1454.1L701.4 1440.7L730.7 1427.0L760.1 1412.8L789.5 1398.1L819.0 1383.0L848.4 1367.5L877.9 1351.5L907.3 1335.0L937.0 1318.5L966.8 1301.6L996.6 1284.3L1026.4 1266.5L1056.3 1248.3L1086.0 1229.3L1115.6 1209.7L1145.2 1189.7L1174.8 1169.2L1204.4 1148.3L1234.0 1126.9L1263.7 1105.1L1292.9 1082.2L1322.1 1058.8L1351.2 1035.1L1380.4 1010.8L1409.6 986.2L1439.0 961.3L1468.4 936.1L1497.9 910.4L1527.3 884.3L1556.8 857.7L1586.3 830.7L1615.8 803.2L1645.3 775.4L1674.8 747.0L1704.3 718.2L1733.8 689.0L1763.3 659.4L1793.0 629.4L1822.7 599.0L1915.3 688.6L1884.9 719.7L1854.6 750.4L1824.4 780.6L1794.1 810.5L1763.9 840.0L1733.6 869.0L1703.4 897.5L1673.1 925.6L1642.8 953.3L1612.5 980.5L1582.2 1007.3L1551.9 1033.7L1521.6 1059.6L1491.2 1085.1L1460.9 1110.1L1430.2 1134.3L1399.5 1158.0L1368.8 1181.3L1338.1 1204.1L1307.4 1226.5L1276.7 1248.4L1246.0 1269.9L1215.3 1290.9L1184.5 1311.5L1153.8 1331.7L1123.1 1351.4L1092.3 1370.6L1061.7 1389.5L1031.0 1408.0L1000.3 1426.0L969.6 1443.6L938.9 1460.7L908.2 1477.4L877.5 1493.6L846.8 1509.4L816.1 1524.7L785.4 1539.6L754.6 1554.0L724.0 1568.1L693.3 1581.8L662.6 1595.1L631.9 1607.9L601.3 1620.2L570.5 1632.1L539.8 1643.6L509.1 1654.6L478.4 1665.1L447.6 1675.2L416.9 1684.9L386.1 1694.1L355.4 1702.8L324.6 1711.1L293.8 1718.9L263.0 1726.3L232.2 1733.2L201.4 1739.7L170.6 1745.7L139.8 1751.3L109.0 1756.4Z" fill="#E4AD7A"/><path d="M91.4 1646.0L120.6 1641.1L149.8 1635.7L179.0 1629.7L208.2 1623.1L237.2 1615.7L266.3 1607.9L295.3 1599.7L324.3 1591.0L353.3 1581.9L382.3 1572.3L411.3 1562.3L440.3 1552.1L469.4 1541.8L498.6 1531.1L527.7 1519.9L556.9 1508.3L586.1 1496.2L615.2 1483.8L644.4 1470.8L673.6 1457.5L703.0 1444.1L732.4 1430.3L761.8 1416.1L791.2 1401.4L820.7 1386.3L850.2 1370.7L879.6 1354.7L909.1 1338.2L938.8 1321.6L968.6 1304.7L998.5 1287.3L1028.3 1269.5L1058.2 1251.2L1087.9 1232.2L1117.5 1212.6L1147.1 1192.5L1176.7 1172.0L1206.4 1151.0L1236.0 1129.6L1265.7 1107.8L1294.9 1084.9L1324.2 1061.5L1353.4 1037.8L1382.6 1013.5L1411.9 988.9L1441.2 964.0L1470.7 938.8L1500.2 913.1L1529.7 886.9L1559.2 860.4L1588.7 833.4L1618.2 805.9L1647.8 778.0L1677.3 749.6L1706.8 720.8L1736.3 691.6L1765.9 662.0L1795.6 632.0L1825.3 601.5L1912.7 686.2L1882.4 717.3L1852.1 747.9L1821.9 778.2L1791.7 808.0L1761.4 837.4L1731.2 866.4L1701.0 894.9L1670.7 923.0L1640.4 950.7L1610.2 977.9L1579.9 1004.6L1549.6 1030.9L1519.3 1056.8L1488.9 1082.3L1458.6 1107.3L1428.0 1131.4L1397.3 1155.2L1366.7 1178.4L1336.0 1201.3L1305.3 1223.7L1274.7 1245.6L1244.0 1267.1L1213.3 1288.1L1182.6 1308.7L1151.9 1328.8L1121.2 1348.5L1090.5 1367.8L1059.9 1386.7L1029.3 1405.1L998.6 1423.2L968.0 1440.7L937.3 1457.8L906.7 1474.5L876.0 1490.7L845.3 1506.5L814.6 1521.8L784.0 1536.7L753.3 1551.1L722.6 1565.2L692.0 1578.9L661.4 1592.1L630.7 1604.9L600.1 1617.3L569.4 1629.1L538.7 1640.6L508.1 1651.6L477.4 1662.1L446.7 1672.2L416.0 1681.8L385.2 1691.0L354.5 1699.7L323.8 1708.0L293.0 1715.8L262.3 1723.2L231.6 1730.1L200.8 1736.6L170.0 1742.6L139.3 1748.2L108.5 1753.3Z" fill="#E3AB77"/><path d="M91.9 1649.1L121.2 1644.3L150.4 1638.9L179.7 1632.9L208.9 1626.3L238.0 1619.0L267.1 1611.2L296.2 1602.9L325.2 1594.3L354.3 1585.2L383.3 1575.7L412.4 1565.8L441.5 1555.6L470.6 1545.2L499.8 1534.5L529.0 1523.3L558.3 1511.7L587.5 1499.7L616.7 1487.2L645.9 1474.3L675.1 1460.9L704.6 1447.5L734.0 1433.7L763.4 1419.4L792.9 1404.7L822.4 1389.5L851.9 1373.9L881.4 1357.9L911.0 1341.4L940.7 1324.7L970.5 1307.7L1000.3 1290.3L1030.2 1272.4L1060.0 1254.1L1089.8 1235.0L1119.4 1215.4L1149.0 1195.3L1178.7 1174.8L1208.4 1153.8L1238.0 1132.3L1267.7 1110.5L1297.0 1087.6L1326.3 1064.2L1355.5 1040.5L1384.8 1016.3L1414.1 991.6L1443.5 966.7L1473.0 941.5L1502.6 915.8L1532.1 889.6L1561.6 863.0L1591.1 836.0L1620.7 808.5L1650.2 780.6L1679.8 752.3L1709.3 723.5L1738.9 694.2L1768.5 664.5L1798.2 634.5L1827.9 604.1L1910.2 683.8L1880.0 714.8L1849.7 745.4L1819.4 775.7L1789.2 805.5L1759.0 834.9L1728.8 863.8L1698.6 892.3L1668.3 920.4L1638.1 948.0L1607.8 975.2L1577.5 1001.9L1547.2 1028.2L1517.0 1054.1L1486.7 1079.5L1456.3 1104.5L1425.7 1128.6L1395.1 1152.4L1364.5 1175.6L1333.9 1198.5L1303.2 1220.8L1272.6 1242.8L1242.0 1264.3L1211.3 1285.3L1180.7 1305.9L1150.0 1326.0L1119.4 1345.7L1088.7 1364.9L1058.1 1383.8L1027.5 1402.3L996.9 1420.3L966.3 1437.9L935.7 1455.0L905.1 1471.6L874.5 1487.8L843.8 1503.6L813.2 1518.9L782.5 1533.8L751.9 1548.2L721.3 1562.3L690.7 1576.0L660.1 1589.2L629.5 1602.0L598.9 1614.3L568.3 1626.2L537.6 1637.6L507.0 1648.6L476.3 1659.1L445.7 1669.2L415.0 1678.8L384.3 1687.9L353.7 1696.7L323.0 1704.9L292.3 1712.7L261.6 1720.1L230.9 1727.0L200.2 1733.5L169.4 1739.5L138.7 1745.0L108.0 1750.2Z" fill="#E3AA75"/><path d="M92.4 1652.3L121.7 1647.4L151.0 1642.0L180.3 1636.0L209.6 1629.5L238.7 1622.2L267.9 1614.4L297.0 1606.2L326.1 1597.6L355.3 1588.6L384.4 1579.1L413.5 1569.2L442.6 1559.0L471.9 1548.7L501.1 1537.9L530.4 1526.8L559.6 1515.1L588.9 1503.1L618.1 1490.6L647.4 1477.7L676.7 1464.3L706.1 1450.9L735.6 1437.0L765.1 1422.7L794.6 1408.0L824.1 1392.8L853.7 1377.1L883.2 1361.1L912.8 1344.5L942.5 1327.8L972.3 1310.8L1002.2 1293.3L1032.0 1275.4L1061.9 1257.0L1091.6 1237.9L1121.3 1218.2L1151.0 1198.1L1180.6 1177.5L1210.3 1156.5L1240.0 1135.0L1269.7 1113.1L1299.1 1090.3L1328.4 1066.9L1357.7 1043.2L1387.0 1019.0L1416.3 994.3L1445.8 969.4L1475.4 944.2L1504.9 918.5L1534.5 892.3L1564.0 865.7L1593.6 838.7L1623.1 811.2L1652.7 783.2L1682.3 754.9L1711.9 726.1L1741.5 696.8L1771.1 667.1L1800.8 637.1L1830.5 606.6L1907.7 681.3L1877.5 712.4L1847.2 743.0L1817.0 773.2L1786.8 803.0L1756.6 832.3L1726.4 861.3L1696.1 889.7L1665.9 917.8L1635.7 945.4L1605.4 972.5L1575.2 999.2L1544.9 1025.5L1514.6 1051.3L1484.4 1076.7L1454.1 1101.7L1423.5 1125.8L1392.9 1149.6L1362.3 1172.8L1331.8 1195.6L1301.2 1218.0L1270.6 1239.9L1240.0 1261.4L1209.4 1282.5L1178.8 1303.0L1148.2 1323.2L1117.6 1342.9L1086.9 1362.1L1056.4 1381.0L1025.8 1399.4L995.3 1417.4L964.7 1435.0L934.1 1452.1L903.5 1468.7L872.9 1484.9L842.3 1500.7L811.7 1516.0L781.1 1530.9L750.5 1545.3L720.0 1559.4L689.4 1573.0L658.9 1586.2L628.3 1599.0L597.7 1611.3L567.1 1623.2L536.5 1634.6L505.9 1645.5L475.3 1656.1L444.7 1666.1L414.1 1675.7L383.4 1684.9L352.8 1693.6L322.2 1701.8L291.5 1709.7L260.9 1717.0L230.2 1723.9L199.5 1730.4L168.9 1736.3L138.2 1741.9L107.5 1747.0Z" fill="#E2A872"/><path d="M92.9 1655.5L122.3 1650.6L151.6 1645.2L181.0 1639.2L210.3 1632.7L239.5 1625.4L268.7 1617.7L297.9 1609.5L327.1 1600.9L356.2 1591.9L385.4 1582.5L414.6 1572.6L443.8 1562.4L473.1 1552.1L502.4 1541.4L531.7 1530.2L561.0 1518.6L590.3 1506.5L619.6 1494.0L648.9 1481.1L678.2 1467.7L707.7 1454.3L737.2 1440.4L766.8 1426.0L796.3 1411.3L825.9 1396.0L855.4 1380.4L885.0 1364.2L914.6 1347.7L944.3 1330.9L974.2 1313.8L1004.0 1296.3L1033.9 1278.3L1063.8 1259.9L1093.5 1240.8L1123.2 1221.0L1152.9 1200.9L1182.6 1180.3L1212.3 1159.2L1242.0 1137.8L1271.8 1115.8L1301.1 1092.9L1330.5 1069.6L1359.9 1045.9L1389.2 1021.7L1418.6 997.0L1448.1 972.1L1477.7 946.9L1507.2 921.1L1536.8 895.0L1566.4 868.4L1596.0 841.3L1625.6 813.8L1655.2 785.9L1684.8 757.5L1714.4 728.7L1744.0 699.4L1773.7 669.7L1803.4 639.7L1833.2 609.2L1905.2 678.9L1875.0 709.9L1844.7 740.5L1814.5 770.7L1784.3 800.5L1754.1 829.8L1723.9 858.7L1693.7 887.1L1663.5 915.1L1633.3 942.7L1603.1 969.8L1572.8 996.5L1542.6 1022.8L1512.3 1048.6L1482.1 1074.0L1451.8 1098.9L1421.3 1123.0L1390.7 1146.7L1360.2 1170.0L1329.6 1192.8L1299.1 1215.2L1268.5 1237.1L1238.0 1258.6L1207.4 1279.6L1176.9 1300.2L1146.3 1320.3L1115.7 1340.0L1085.1 1359.3L1054.6 1378.1L1024.1 1396.6L993.6 1414.6L963.0 1432.1L932.5 1449.2L902.0 1465.9L871.4 1482.1L840.9 1497.8L810.3 1513.1L779.7 1528.0L749.2 1542.4L718.6 1556.4L688.1 1570.1L657.6 1583.3L627.1 1596.0L596.5 1608.3L566.0 1620.2L535.4 1631.6L504.9 1642.5L474.3 1653.0L443.7 1663.1L413.1 1672.7L382.5 1681.8L352.0 1690.5L321.4 1698.8L290.7 1706.6L260.1 1713.9L229.5 1720.8L198.9 1727.2L168.3 1733.2L137.6 1738.8L107.0 1743.9Z" fill="#E2A66F"/><path d="M93.4 1658.7L122.8 1653.8L152.2 1648.4L181.6 1642.4L211.0 1635.9L240.2 1628.6L269.5 1620.9L298.8 1612.8L328.0 1604.3L357.2 1595.3L386.5 1585.9L415.7 1576.0L444.9 1565.9L474.3 1555.6L503.6 1544.8L533.0 1533.6L562.3 1522.0L591.7 1509.9L621.1 1497.4L650.4 1484.5L679.8 1471.1L709.3 1457.7L738.9 1443.7L768.4 1429.4L798.0 1414.5L827.6 1399.3L857.2 1383.6L886.8 1367.4L916.4 1350.9L946.2 1334.0L976.0 1316.9L1005.9 1299.3L1035.8 1281.3L1065.7 1262.8L1095.4 1243.6L1125.1 1223.9L1154.8 1203.7L1184.6 1183.1L1214.3 1162.0L1244.0 1140.5L1273.8 1118.5L1303.2 1095.6L1332.6 1072.3L1362.0 1048.6L1391.4 1024.4L1420.8 999.8L1450.4 974.8L1480.0 949.6L1509.6 923.8L1539.2 897.7L1568.8 871.0L1598.4 844.0L1628.1 816.5L1657.7 788.5L1687.3 760.1L1717.0 731.3L1746.6 702.0L1776.3 672.3L1806.0 642.2L1835.8 611.7L1902.7 676.5L1872.5 707.5L1842.2 738.0L1812.0 768.2L1781.9 797.9L1751.7 827.2L1721.5 856.1L1691.3 884.5L1661.1 912.5L1630.9 940.1L1600.7 967.2L1570.5 993.8L1540.3 1020.1L1510.0 1045.8L1479.8 1071.2L1449.5 1096.1L1419.0 1120.2L1388.5 1143.9L1358.0 1167.2L1327.5 1190.0L1297.0 1212.4L1266.5 1234.3L1236.0 1255.8L1205.5 1276.8L1174.9 1297.4L1144.4 1317.5L1113.9 1337.2L1083.3 1356.4L1052.9 1375.3L1022.4 1393.7L991.9 1411.7L961.4 1429.3L930.9 1446.3L900.4 1463.0L869.9 1479.2L839.4 1494.9L808.8 1510.2L778.3 1525.1L747.8 1539.4L717.3 1553.5L686.8 1567.1L656.3 1580.3L625.9 1593.1L595.3 1605.3L564.8 1617.2L534.3 1628.6L503.8 1639.5L473.3 1650.0L442.7 1660.0L412.2 1669.6L381.7 1678.8L351.1 1687.4L320.5 1695.7L290.0 1703.5L259.4 1710.8L228.8 1717.7L198.3 1724.1L167.7 1730.1L137.1 1735.6L106.5 1740.7Z" fill="#E1A56C"/><path d="M93.9 1661.8L123.4 1656.9L152.8 1651.5L182.2 1645.5L211.6 1639.1L241.0 1631.8L270.3 1624.2L299.6 1616.1L328.9 1607.6L358.2 1598.6L387.5 1589.3L416.8 1579.4L446.1 1569.3L475.5 1559.0L504.9 1548.3L534.3 1537.1L563.7 1525.4L593.1 1513.4L622.5 1500.9L651.9 1487.9L681.3 1474.5L710.9 1461.0L740.5 1447.1L770.1 1432.7L799.7 1417.8L829.3 1402.5L858.9 1386.8L888.6 1370.6L918.2 1354.0L948.0 1337.2L977.9 1320.0L1007.7 1302.3L1037.6 1284.2L1067.5 1265.7L1097.3 1246.5L1127.0 1226.7L1156.8 1206.5L1186.5 1185.8L1216.3 1164.7L1246.0 1143.2L1275.8 1121.2L1305.3 1098.3L1334.7 1075.0L1364.2 1051.3L1393.6 1027.1L1423.1 1002.5L1452.6 977.6L1482.3 952.3L1511.9 926.5L1541.6 900.3L1571.2 873.7L1600.9 846.6L1630.5 819.1L1660.2 791.1L1689.8 762.7L1719.5 733.9L1749.2 704.6L1778.9 674.9L1808.7 644.8L1838.4 614.3L1900.2 674.0L1870.0 705.0L1839.7 735.5L1809.6 765.7L1779.4 795.4L1749.3 824.7L1719.1 853.5L1688.9 882.0L1658.7 909.9L1628.5 937.4L1598.3 964.5L1568.1 991.1L1537.9 1017.3L1507.7 1043.1L1477.5 1068.4L1447.3 1093.3L1416.8 1117.4L1386.3 1141.1L1355.9 1164.4L1325.4 1187.2L1294.9 1209.6L1264.5 1231.5L1234.0 1252.9L1203.5 1274.0L1173.0 1294.5L1142.5 1314.7L1112.0 1334.4L1081.6 1353.6L1051.1 1372.5L1020.7 1390.9L990.2 1408.9L959.7 1426.4L929.3 1443.5L898.8 1460.1L868.3 1476.3L837.9 1492.0L807.4 1507.3L776.9 1522.1L746.4 1536.5L716.0 1550.6L685.5 1564.2L655.1 1577.4L624.6 1590.1L594.2 1602.4L563.7 1614.2L533.2 1625.6L502.7 1636.5L472.3 1647.0L441.8 1657.0L411.3 1666.6L380.8 1675.7L350.2 1684.4L319.7 1692.6L289.2 1700.4L258.7 1707.7L228.2 1714.6L197.6 1721.0L167.1 1727.0L136.5 1732.5L106.0 1737.6Z" fill="#E1A36A"/><path d="M94.4 1665.0L123.9 1660.1L153.4 1654.7L182.9 1648.7L212.3 1642.2L241.7 1635.1L271.1 1627.4L300.5 1619.4L329.8 1610.9L359.2 1602.0L388.5 1592.6L417.9 1582.9L447.2 1572.8L476.7 1562.4L506.1 1551.7L535.6 1540.5L565.0 1528.9L594.5 1516.8L624.0 1504.3L653.4 1491.3L682.9 1478.0L712.5 1464.4L742.1 1450.4L771.7 1436.0L801.4 1421.1L831.0 1405.8L860.7 1390.0L890.4 1373.8L920.0 1357.2L949.8 1340.3L979.7 1323.0L1009.6 1305.3L1039.5 1287.2L1069.4 1268.6L1099.2 1249.3L1129.0 1229.5L1158.7 1209.3L1188.5 1188.6L1218.2 1167.5L1248.0 1145.9L1277.8 1123.9L1307.3 1101.0L1336.8 1077.7L1366.3 1054.0L1395.8 1029.8L1425.3 1005.2L1454.9 980.3L1484.6 955.0L1514.3 929.2L1543.9 903.0L1573.6 876.4L1603.3 849.3L1633.0 821.8L1662.7 793.8L1692.4 765.4L1722.0 736.5L1751.7 707.2L1781.5 677.5L1811.3 647.4L1841.1 616.8L1897.7 671.6L1867.5 702.6L1837.3 733.1L1807.1 763.2L1777.0 792.9L1746.8 822.2L1716.7 851.0L1686.5 879.4L1656.3 907.3L1626.2 934.8L1596.0 961.8L1565.8 988.4L1535.6 1014.6L1505.4 1040.3L1475.2 1065.6L1445.0 1090.5L1414.6 1114.6L1384.1 1138.3L1353.7 1161.6L1323.3 1184.4L1292.9 1206.7L1262.4 1228.7L1232.0 1250.1L1201.5 1271.1L1171.1 1291.7L1140.7 1311.8L1110.2 1331.5L1079.8 1350.8L1049.3 1369.6L1018.9 1388.0L988.5 1406.0L958.1 1423.5L927.7 1440.6L897.2 1457.2L866.8 1473.4L836.4 1489.1L805.9 1504.4L775.5 1519.2L745.1 1533.6L714.6 1547.7L684.2 1561.3L653.8 1574.4L623.4 1587.1L593.0 1599.4L562.6 1611.2L532.1 1622.6L501.7 1633.5L471.2 1643.9L440.8 1653.9L410.3 1663.5L379.9 1672.6L349.4 1681.3L318.9 1689.5L288.4 1697.3L258.0 1704.6L227.5 1711.5L197.0 1717.9L166.5 1723.9L136.0 1729.4L105.5 1734.5Z" fill="#E0A167"/><path d="M94.9 1668.2L124.5 1663.3L154.0 1657.8L183.5 1651.9L213.0 1645.4L242.5 1638.3L271.9 1630.7L301.3 1622.7L330.8 1614.2L360.2 1605.4L389.6 1596.0L419.0 1586.3L448.4 1576.2L477.9 1565.9L507.4 1555.1L536.9 1543.9L566.4 1532.3L595.9 1520.2L625.4 1507.7L654.9 1494.8L684.5 1481.4L714.1 1467.8L743.7 1453.8L773.4 1439.3L803.1 1424.4L832.8 1409.1L862.4 1393.3L892.1 1377.0L921.8 1360.3L951.7 1343.4L981.5 1326.1L1011.4 1308.3L1041.4 1290.1L1071.3 1271.4L1101.1 1252.2L1130.9 1232.3L1160.6 1212.1L1190.4 1191.4L1220.2 1170.2L1250.0 1148.6L1279.8 1126.6L1309.4 1103.7L1338.9 1080.4L1368.5 1056.7L1398.0 1032.5L1427.6 1007.9L1457.2 983.0L1486.9 957.7L1516.6 931.9L1546.3 905.7L1576.0 879.0L1605.7 851.9L1635.4 824.4L1665.1 796.4L1694.9 768.0L1724.6 739.1L1754.3 709.8L1784.1 680.1L1813.9 649.9L1843.7 619.3L1895.1 669.2L1865.0 700.1L1834.8 730.6L1804.6 760.7L1774.5 790.4L1744.4 819.6L1714.2 848.4L1684.1 876.8L1653.9 904.7L1623.8 932.1L1593.6 959.2L1563.5 985.8L1533.3 1011.9L1503.1 1037.6L1472.9 1062.8L1442.7 1087.7L1412.3 1111.8L1381.9 1135.5L1351.6 1158.8L1321.2 1181.6L1290.8 1203.9L1260.4 1225.8L1230.0 1247.3L1199.6 1268.3L1169.2 1288.9L1138.8 1309.0L1108.4 1328.7L1078.0 1347.9L1047.6 1366.8L1017.2 1385.2L986.8 1403.1L956.5 1420.6L926.1 1437.7L895.7 1454.3L865.3 1470.5L834.9 1486.2L804.5 1501.5L774.1 1516.3L743.7 1530.7L713.3 1544.7L682.9 1558.3L652.6 1571.5L622.2 1584.2L591.8 1596.4L561.4 1608.2L531.0 1619.5L500.6 1630.4L470.2 1640.9L439.8 1650.9L409.4 1660.5L379.0 1669.6L348.5 1678.2L318.1 1686.4L287.7 1694.2L257.2 1701.5L226.8 1708.4L196.4 1714.8L165.9 1720.7L135.5 1726.2L105.0 1731.3Z" fill="#E0A064"/><path d="M95.4 1671.4L125.0 1666.4L154.6 1661.0L184.2 1655.1L213.7 1648.6L243.2 1641.5L272.7 1634.0L302.2 1626.0L331.7 1617.6L361.2 1608.7L390.6 1599.4L420.1 1589.7L449.6 1579.6L479.1 1569.3L508.7 1558.6L538.2 1547.4L567.8 1535.7L597.3 1523.7L626.9 1511.1L656.4 1498.2L686.0 1484.8L715.7 1471.2L745.4 1457.1L775.1 1442.6L804.8 1427.7L834.5 1412.3L864.2 1396.5L893.9 1380.2L923.7 1363.5L953.5 1346.5L983.4 1329.1L1013.3 1311.3L1043.2 1293.0L1073.2 1274.3L1103.0 1255.0L1132.8 1235.2L1162.6 1214.9L1192.4 1194.1L1222.2 1172.9L1252.0 1151.3L1281.8 1129.2L1311.4 1106.4L1341.0 1083.1L1370.6 1059.4L1400.2 1035.2L1429.8 1010.6L1459.5 985.7L1489.2 960.4L1518.9 934.6L1548.7 908.4L1578.4 881.7L1608.1 854.6L1637.9 827.0L1667.6 799.0L1697.4 770.6L1727.1 741.7L1756.9 712.4L1786.7 682.6L1816.5 652.5L1846.3 621.9L1892.6 666.7L1862.5 697.6L1832.3 728.1L1802.2 758.2L1772.1 787.9L1741.9 817.1L1711.8 845.8L1681.7 874.2L1651.5 902.1L1621.4 929.5L1591.3 956.5L1561.1 983.1L1531.0 1009.2L1500.8 1034.8L1470.6 1060.1L1440.4 1084.9L1410.1 1109.0L1379.8 1132.7L1349.4 1155.9L1319.1 1178.7L1288.7 1201.1L1258.3 1223.0L1228.0 1244.5L1197.6 1265.5L1167.3 1286.1L1136.9 1306.2L1106.5 1325.9L1076.2 1345.1L1045.8 1363.9L1015.5 1382.3L985.2 1400.3L954.8 1417.8L924.5 1434.8L894.1 1451.5L863.8 1467.6L833.4 1483.3L803.0 1498.6L772.7 1513.4L742.3 1527.8L712.0 1541.8L681.7 1555.4L651.3 1568.5L621.0 1581.2L590.6 1593.4L560.3 1605.2L529.9 1616.5L499.6 1627.4L469.2 1637.9L438.8 1647.9L408.4 1657.4L378.1 1666.5L347.7 1675.1L317.3 1683.3L286.9 1691.1L256.5 1698.4L226.1 1705.2L195.7 1711.7L165.3 1717.6L134.9 1723.1L104.5 1728.2Z" fill="#DF9E62"/><path d="M96.0 1674.5L125.6 1669.6L155.2 1664.2L184.8 1658.2L214.4 1651.8L244.0 1644.7L273.5 1637.2L303.1 1629.3L332.6 1620.9L362.1 1612.1L391.7 1602.8L421.2 1593.1L450.7 1583.1L480.3 1572.8L509.9 1562.0L539.5 1550.8L569.1 1539.2L598.7 1527.1L628.3 1514.6L658.0 1501.6L687.6 1488.2L717.3 1474.6L747.0 1460.5L776.7 1446.0L806.5 1431.0L836.2 1415.6L866.0 1399.7L895.7 1383.4L925.5 1366.7L955.3 1349.6L985.2 1332.2L1015.2 1314.3L1045.1 1296.0L1075.0 1277.2L1104.9 1257.9L1134.7 1238.0L1164.5 1217.7L1194.3 1196.9L1224.2 1175.7L1254.0 1154.0L1283.9 1131.9L1313.5 1109.1L1343.1 1085.8L1372.8 1062.1L1402.4 1038.0L1432.0 1013.4L1461.8 988.4L1491.5 963.1L1521.3 937.3L1551.0 911.0L1580.8 884.4L1610.6 857.2L1640.3 829.7L1670.1 801.7L1699.9 773.2L1729.7 744.3L1759.5 715.0L1789.3 685.2L1819.1 655.1L1849.0 624.4L1890.1 664.3L1860.0 695.2L1829.8 725.7L1799.7 755.7L1769.6 785.3L1739.5 814.5L1709.4 843.3L1679.3 871.6L1649.2 899.4L1619.0 926.9L1588.9 953.8L1558.8 980.4L1528.6 1006.5L1498.5 1032.1L1468.3 1057.3L1438.2 1082.1L1407.9 1106.2L1377.6 1129.9L1347.2 1153.1L1316.9 1175.9L1286.6 1198.3L1256.3 1220.2L1226.0 1241.6L1195.7 1262.7L1165.3 1283.2L1135.0 1303.3L1104.7 1323.0L1074.4 1342.2L1044.1 1361.1L1013.8 1379.5L983.5 1397.4L953.2 1414.9L922.9 1432.0L892.5 1448.6L862.2 1464.7L831.9 1480.4L801.6 1495.7L771.3 1510.5L740.9 1524.9L710.7 1538.9L680.4 1552.4L650.1 1565.6L619.8 1578.2L589.4 1590.4L559.1 1602.2L528.8 1613.5L498.5 1624.4L468.2 1634.8L437.8 1644.8L407.5 1654.4L377.2 1663.4L346.8 1672.1L316.5 1680.3L286.1 1688.0L255.8 1695.3L225.4 1702.1L195.1 1708.5L164.7 1714.5L134.4 1720.0L104.0 1725.0Z" fill="#DF9D5F"/><path d="M96.5 1677.7L126.1 1672.8L155.8 1667.3L185.5 1661.4L215.1 1655.0L244.7 1647.9L274.3 1640.5L303.9 1632.6L333.5 1624.2L363.1 1615.4L392.7 1606.2L422.3 1596.5L451.9 1586.5L481.5 1576.2L511.2 1565.4L540.8 1554.2L570.5 1542.6L600.1 1530.5L629.8 1518.0L659.5 1505.0L689.1 1491.6L718.9 1477.9L748.6 1463.8L778.4 1449.3L808.2 1434.3L837.9 1418.8L867.7 1402.9L897.5 1386.6L927.3 1369.8L957.2 1352.7L987.1 1335.3L1017.0 1317.3L1046.9 1298.9L1076.9 1280.1L1106.8 1260.7L1136.6 1240.8L1166.5 1220.5L1196.3 1199.7L1226.2 1178.4L1256.0 1156.7L1285.9 1134.6L1315.6 1111.8L1345.2 1088.5L1374.9 1064.8L1404.6 1040.7L1434.3 1016.1L1464.0 991.1L1493.8 965.8L1523.6 940.0L1553.4 913.7L1583.2 887.0L1613.0 859.9L1642.8 832.3L1672.6 804.3L1702.4 775.8L1732.2 746.9L1762.0 717.6L1791.9 687.8L1821.7 657.6L1851.6 627.0L1887.6 661.9L1857.5 692.7L1827.4 723.2L1797.3 753.2L1767.2 782.8L1737.1 812.0L1707.0 840.7L1676.9 869.0L1646.8 896.8L1616.7 924.2L1586.5 951.2L1556.4 977.7L1526.3 1003.7L1496.2 1029.3L1466.0 1054.5L1435.9 1079.3L1405.6 1103.4L1375.4 1127.1L1345.1 1150.3L1314.8 1173.1L1284.5 1195.5L1254.3 1217.4L1224.0 1238.8L1193.7 1259.8L1163.4 1280.4L1133.1 1300.5L1102.9 1320.2L1072.6 1339.4L1042.3 1358.2L1012.0 1376.6L981.8 1394.6L951.5 1412.0L921.2 1429.1L891.0 1445.7L860.7 1461.8L830.4 1477.5L800.1 1492.8L769.9 1507.6L739.6 1522.0L709.3 1536.0L679.1 1549.5L648.8 1562.6L618.5 1575.3L588.3 1587.5L558.0 1599.2L527.7 1610.5L497.4 1621.4L467.1 1631.8L436.9 1641.8L406.6 1651.3L376.3 1660.4L346.0 1669.0L315.7 1677.2L285.4 1684.9L255.1 1692.2L224.8 1699.0L194.4 1705.4L164.1 1711.4L133.8 1716.9L103.5 1721.9Z" fill="#DE9B5D"/><path d="M97.0 1680.9L126.7 1675.9L156.4 1670.5L186.1 1664.6L215.8 1658.2L245.5 1651.2L275.2 1643.7L304.8 1635.9L334.5 1627.5L364.1 1618.8L393.7 1609.6L423.4 1600.0L453.0 1590.0L482.7 1579.6L512.4 1568.9L542.1 1557.7L571.8 1546.0L601.5 1533.9L631.3 1521.4L661.0 1508.4L690.7 1495.0L720.5 1481.3L750.2 1467.2L780.0 1452.6L809.8 1437.6L839.7 1422.1L869.5 1406.2L899.3 1389.8L929.1 1373.0L959.0 1355.9L988.9 1338.3L1018.9 1320.3L1048.8 1301.9L1078.8 1283.0L1108.7 1263.6L1138.5 1243.6L1168.4 1223.3L1198.3 1202.4L1228.1 1181.2L1258.0 1159.4L1287.9 1137.3L1317.6 1114.5L1347.4 1091.2L1377.1 1067.5L1406.8 1043.4L1436.5 1018.8L1466.3 993.8L1496.1 968.5L1526.0 942.7L1555.8 916.4L1585.6 889.7L1615.4 862.6L1645.3 835.0L1675.1 806.9L1704.9 778.5L1734.8 749.5L1764.6 720.2L1794.4 690.4L1824.3 660.2L1854.2 629.5L1885.1 659.4L1855.0 690.3L1824.9 720.7L1794.8 750.7L1764.7 780.3L1734.6 809.4L1704.5 838.1L1674.5 866.4L1644.4 894.2L1614.3 921.6L1584.2 948.5L1554.1 975.0L1524.0 1001.0L1493.9 1026.6L1463.7 1051.7L1433.6 1076.5L1403.4 1100.6L1373.2 1124.3L1342.9 1147.5L1312.7 1170.3L1282.5 1192.6L1252.2 1214.5L1222.0 1236.0L1191.8 1257.0L1161.5 1277.6L1131.3 1297.7L1101.0 1317.3L1070.8 1336.6L1040.6 1355.4L1010.3 1373.8L980.1 1391.7L949.9 1409.2L919.6 1426.2L889.4 1442.8L859.2 1459.0L828.9 1474.7L798.7 1489.9L768.5 1504.7L738.2 1519.1L708.0 1533.0L677.8 1546.6L647.5 1559.7L617.3 1572.3L587.1 1584.5L556.8 1596.2L526.6 1607.5L496.4 1618.4L466.1 1628.8L435.9 1638.7L405.6 1648.2L375.4 1657.3L345.1 1665.9L314.9 1674.1L284.6 1681.8L254.3 1689.1L224.1 1695.9L193.8 1702.3L163.5 1708.2L133.3 1713.7L103.0 1718.8Z" fill="#DE9A5A"/><path d="M97.5 1684.1L127.2 1679.1L157.0 1673.7L186.8 1667.7L216.5 1661.3L246.2 1654.4L276.0 1647.0L305.7 1639.1L335.4 1630.9L365.1 1622.1L394.8 1613.0L424.5 1603.4L454.2 1593.4L484.0 1583.1L513.7 1572.3L543.5 1561.1L573.2 1549.4L603.0 1537.4L632.7 1524.8L662.5 1511.9L692.2 1498.4L722.0 1484.7L751.9 1470.5L781.7 1455.9L811.5 1440.9L841.4 1425.3L871.2 1409.4L901.1 1393.0L930.9 1376.2L960.8 1359.0L990.8 1341.4L1020.7 1323.3L1050.7 1304.8L1080.6 1285.9L1110.5 1266.4L1140.4 1246.5L1170.3 1226.0L1200.2 1205.2L1230.1 1183.9L1260.0 1162.2L1289.9 1140.0L1319.7 1117.2L1349.5 1093.9L1379.2 1070.2L1409.0 1046.1L1438.8 1021.5L1468.6 996.5L1498.5 971.2L1528.3 945.3L1558.2 919.1L1588.0 892.4L1617.9 865.2L1647.7 837.6L1677.6 809.6L1707.4 781.1L1737.3 752.2L1767.2 722.8L1797.0 693.0L1826.9 662.7L1856.8 632.1L1882.6 657.0L1852.5 687.8L1822.4 718.2L1792.3 748.2L1762.3 777.8L1732.2 806.9L1702.1 835.6L1672.0 863.8L1642.0 891.6L1611.9 918.9L1581.8 945.8L1551.7 972.3L1521.6 998.3L1491.5 1023.9L1461.5 1049.0L1431.4 1073.7L1401.2 1097.8L1371.0 1121.5L1340.8 1144.7L1310.6 1167.5L1280.4 1189.8L1250.2 1211.7L1220.0 1233.2L1189.8 1254.2L1159.6 1274.7L1129.4 1294.8L1099.2 1314.5L1069.0 1333.7L1038.8 1352.5L1008.6 1370.9L978.4 1388.8L948.2 1406.3L918.0 1423.3L887.8 1439.9L857.6 1456.1L827.4 1471.8L797.2 1487.0L767.0 1501.8L736.8 1516.2L706.7 1530.1L676.5 1543.6L646.3 1556.7L616.1 1569.3L585.9 1581.5L555.7 1593.2L525.5 1604.5L495.3 1615.4L465.1 1625.7L434.9 1635.7L404.7 1645.2L374.5 1654.2L344.3 1662.9L314.1 1671.0L283.8 1678.7L253.6 1686.0L223.4 1692.8L193.2 1699.2L163.0 1705.1L132.7 1710.6L102.5 1715.6Z" fill="#DD9858"/><path d="M98.0 1687.2L127.8 1682.3L157.6 1676.8L187.4 1670.9L217.2 1664.5L247.0 1657.6L276.8 1650.2L306.5 1642.4L336.3 1634.2L366.1 1625.5L395.8 1616.4L425.6 1606.8L455.4 1596.8L485.2 1586.5L515.0 1575.7L544.8 1564.5L574.6 1552.9L604.4 1540.8L634.2 1528.2L664.0 1515.3L693.8 1501.9L723.6 1488.1L753.5 1473.9L783.4 1459.2L813.2 1444.1L843.1 1428.6L873.0 1412.6L902.9 1396.2L932.7 1379.3L962.7 1362.1L992.6 1344.4L1022.6 1326.3L1052.5 1307.8L1082.5 1288.8L1112.4 1269.3L1142.3 1249.3L1172.3 1228.8L1202.2 1208.0L1232.1 1186.6L1262.0 1164.9L1291.9 1142.7L1321.8 1119.9L1351.6 1096.6L1381.4 1072.9L1411.2 1048.8L1441.0 1024.2L1470.9 999.3L1500.8 973.9L1530.6 948.0L1560.5 921.8L1590.4 895.0L1620.3 867.9L1650.2 840.3L1680.1 812.2L1709.9 783.7L1739.8 754.8L1769.7 725.4L1799.6 695.6L1829.6 665.3L1859.5 634.6L1880.1 654.5L1850.0 685.4L1819.9 715.8L1789.9 745.7L1759.8 775.3L1729.8 804.4L1699.7 833.0L1669.6 861.2L1639.6 889.0L1609.5 916.3L1579.4 943.2L1549.4 969.6L1519.3 995.6L1489.2 1021.1L1459.2 1046.2L1429.1 1070.9L1398.9 1095.0L1368.8 1118.6L1338.6 1141.9L1308.5 1164.7L1278.3 1187.0L1248.2 1208.9L1218.0 1230.3L1187.8 1251.3L1157.7 1271.9L1127.5 1292.0L1097.3 1311.7L1067.2 1330.9L1037.0 1349.7L1006.9 1368.1L976.7 1386.0L946.6 1403.4L916.4 1420.5L886.3 1437.0L856.1 1453.2L826.0 1468.9L795.8 1484.1L765.6 1498.9L735.5 1513.3L705.3 1527.2L675.2 1540.7L645.0 1553.7L614.9 1566.4L584.7 1578.5L554.6 1590.2L524.4 1601.5L494.2 1612.3L464.1 1622.7L433.9 1632.7L403.8 1642.1L373.6 1651.2L343.4 1659.8L313.2 1667.9L283.1 1675.6L252.9 1682.9L222.7 1689.7L192.5 1696.1L162.4 1702.0L132.2 1707.5L102.0 1712.5Z" fill="#DD9756"/><path d="M98.5 1690.4L128.3 1685.4L158.2 1680.0L188.1 1674.1L217.9 1667.7L247.7 1660.8L277.6 1653.5L307.4 1645.7L337.2 1637.5L367.1 1628.9L396.9 1619.8L426.7 1610.2L456.5 1600.3L486.4 1589.9L516.2 1579.2L546.1 1568.0L575.9 1556.3L605.8 1544.2L635.6 1531.7L665.5 1518.7L695.3 1505.3L725.2 1491.5L755.1 1477.2L785.0 1462.6L814.9 1447.4L844.8 1431.9L874.7 1415.8L904.6 1399.4L934.6 1382.5L964.5 1365.2L994.5 1347.5L1024.4 1329.3L1054.4 1310.7L1084.4 1291.7L1114.3 1272.1L1144.3 1252.1L1174.2 1231.6L1204.1 1210.7L1234.1 1189.4L1264.0 1167.6L1293.9 1145.3L1323.8 1122.5L1353.7 1099.3L1383.5 1075.6L1413.4 1051.5L1443.3 1026.9L1473.2 1002.0L1503.1 976.6L1533.0 950.7L1562.9 924.4L1592.8 897.7L1622.7 870.5L1652.6 842.9L1682.5 814.8L1712.5 786.3L1742.4 757.4L1772.3 728.0L1802.2 698.1L1832.2 667.9L1862.1 637.2L1877.5 652.1L1847.5 682.9L1817.4 713.3L1787.4 743.3L1757.4 772.8L1727.3 801.8L1697.3 830.4L1667.2 858.6L1637.2 886.3L1607.1 913.6L1577.1 940.5L1547.0 966.9L1517.0 992.8L1486.9 1018.4L1456.9 1043.4L1426.8 1068.1L1396.7 1092.2L1366.6 1115.8L1336.5 1139.1L1306.4 1161.8L1276.2 1184.2L1246.1 1206.1L1216.0 1227.5L1185.9 1248.5L1155.8 1269.1L1125.6 1289.2L1095.5 1308.8L1065.4 1328.1L1035.3 1346.9L1005.2 1365.2L975.1 1383.1L944.9 1400.6L914.8 1417.6L884.7 1434.2L854.6 1450.3L824.5 1466.0L794.3 1481.2L764.2 1496.0L734.1 1510.3L704.0 1524.3L673.9 1537.8L643.8 1550.8L613.7 1563.4L583.5 1575.5L553.4 1587.2L523.3 1598.5L493.2 1609.3L463.1 1619.7L432.9 1629.6L402.8 1639.1L372.7 1648.1L342.6 1656.7L312.4 1664.8L282.3 1672.5L252.2 1679.8L222.0 1686.6L191.9 1692.9L161.8 1698.9L131.6 1704.3L101.5 1709.4Z" fill="#DC9554"/><path d="M99.0 1693.6L128.9 1688.6L158.8 1683.2L188.7 1677.3L218.6 1670.9L248.5 1664.0L278.4 1656.7L308.3 1649.0L338.2 1640.8L368.0 1632.2L397.9 1623.1L427.8 1613.6L457.7 1603.7L487.6 1593.4L517.5 1582.6L547.4 1571.4L577.3 1559.7L607.2 1547.6L637.1 1535.1L667.0 1522.1L696.9 1508.7L726.8 1494.9L756.7 1480.6L786.7 1465.9L816.6 1450.7L846.6 1435.1L876.5 1419.1L906.4 1402.6L936.4 1385.7L966.3 1368.3L996.3 1350.5L1026.3 1332.3L1056.3 1313.7L1086.3 1294.6L1116.2 1275.0L1146.2 1254.9L1176.1 1234.4L1206.1 1213.5L1236.0 1192.1L1266.0 1170.3L1296.0 1148.0L1325.9 1125.2L1355.8 1102.0L1385.7 1078.3L1415.6 1054.2L1445.5 1029.7L1475.4 1004.7L1505.4 979.3L1535.3 953.4L1565.3 927.1L1595.2 900.4L1625.1 873.2L1655.1 845.5L1685.0 817.5L1715.0 789.0L1744.9 760.0L1774.9 730.6L1804.8 700.7L1834.8 670.4L1864.7 639.7L1875.0 649.7L1845.0 680.5L1815.0 710.8L1784.9 740.8L1754.9 770.2L1724.9 799.3L1694.8 827.9L1664.8 856.0L1634.8 883.7L1604.8 911.0L1574.7 937.8L1544.7 964.2L1514.7 990.1L1484.6 1015.6L1454.6 1040.6L1424.5 1065.2L1394.5 1089.4L1364.4 1113.0L1334.3 1136.2L1304.2 1159.0L1274.2 1181.4L1244.1 1203.2L1214.0 1224.7L1183.9 1245.7L1153.8 1266.2L1123.8 1286.3L1093.7 1306.0L1063.6 1325.2L1033.5 1344.0L1003.4 1362.4L973.4 1380.3L943.3 1397.7L913.2 1414.7L883.1 1431.3L853.1 1447.4L823.0 1463.1L792.9 1478.3L762.8 1493.1L732.7 1507.4L702.7 1521.3L672.6 1534.8L642.5 1547.8L612.4 1560.4L582.4 1572.6L552.3 1584.3L522.2 1595.5L492.1 1606.3L462.0 1616.7L432.0 1626.6L401.9 1636.0L371.8 1645.1L341.7 1653.6L311.6 1661.8L281.5 1669.4L251.4 1676.7L221.4 1683.5L191.3 1689.8L161.2 1695.7L131.1 1701.2L101.0 1706.2Z" fill="#DC9452"/><path d="M99.5 1696.8L129.4 1691.8L159.4 1686.3L189.4 1680.4L219.3 1674.1L249.2 1667.3L279.2 1660.0L309.1 1652.3L339.1 1644.2L369.0 1635.6L399.0 1626.5L428.9 1617.1L458.8 1607.2L488.8 1596.8L518.7 1586.1L548.7 1574.8L578.6 1563.2L608.6 1551.1L638.5 1538.5L668.5 1525.5L698.4 1512.1L728.4 1498.2L758.4 1483.9L788.3 1469.2L818.3 1454.0L848.3 1438.4L878.2 1422.3L908.2 1405.8L938.2 1388.8L968.2 1371.4L998.2 1353.6L1028.1 1335.3L1058.1 1316.6L1088.1 1297.4L1118.1 1277.8L1148.1 1257.8L1178.1 1237.2L1208.0 1216.3L1238.0 1194.9L1268.0 1173.0L1298.0 1150.7L1327.9 1127.9L1357.9 1104.7L1387.8 1081.0L1417.8 1056.9L1447.8 1032.4L1477.7 1007.4L1507.7 982.0L1537.7 956.1L1567.6 929.8L1597.6 903.0L1627.6 875.8L1657.5 848.2L1687.5 820.1L1717.5 791.6L1747.5 762.6L1777.4 733.2L1807.4 703.3L1837.4 673.0L1867.4 642.3L1872.5 647.2L1842.5 678.0L1812.5 708.4L1782.5 738.3L1752.5 767.7L1722.4 796.7L1692.4 825.3L1662.4 853.4L1632.4 881.1L1602.4 908.3L1572.4 935.1L1542.3 961.5L1512.3 987.4L1482.3 1012.9L1452.3 1037.9L1422.3 1062.4L1392.2 1086.6L1362.2 1110.2L1332.2 1133.4L1302.1 1156.2L1272.1 1178.5L1242.0 1200.4L1212.0 1221.9L1182.0 1242.9L1151.9 1263.4L1121.9 1283.5L1091.8 1303.2L1061.8 1322.4L1031.8 1341.2L1001.7 1359.5L971.7 1377.4L941.6 1394.8L911.6 1411.8L881.6 1428.4L851.5 1444.5L821.5 1460.2L791.4 1475.4L761.4 1490.2L731.4 1504.5L701.3 1518.4L671.3 1531.9L641.3 1544.9L611.2 1557.5L581.2 1569.6L551.1 1581.3L521.1 1592.5L491.1 1603.3L461.0 1613.6L431.0 1623.5L400.9 1633.0L370.9 1642.0L340.9 1650.6L310.8 1658.7L280.8 1666.4L250.7 1673.6L220.7 1680.4L190.6 1686.7L160.6 1692.6L130.5 1698.1L100.5 1703.1Z" fill="#DB9350"/></g></g>
<path d="M285.6 1435.5L315.1 1486.6L256.1 1486.6Z" fill="#fff" stroke="#7F00FF" stroke-width="4.3" stroke-linejoin="round"/>
<path d="M318.3 1516.1L347.8 1567.2L288.8 1567.2Z" fill="#fff" stroke="#7F00FF" stroke-width="4.3" stroke-linejoin="round"/>
<path d="M397 1474L426.5 1525.1L367.5 1525.1Z" fill="#fff" stroke="#7F00FF" stroke-width="4.3" stroke-linejoin="round"/>
<path d="M360.6 1499L390.1 1550.1L331.1 1550.1Z" fill="#fff" stroke="#7F00FF" stroke-width="4.3" stroke-linejoin="round"/>
<path d="M436 1532.2L465.5 1583.3L406.5 1583.3Z" fill="#fff" stroke="#7F00FF" stroke-width="4.3" stroke-linejoin="round"/>
<path d="M281.5 1298.5L306 1340.9L257 1340.9Z" fill="#fff" stroke="#FF0000" stroke-width="3.5" stroke-linejoin="round"/>
<path d="M404.2 1251L428.7 1293.4L379.7 1293.4Z" fill="#fff" stroke="#FF0000" stroke-width="3.5" stroke-linejoin="round"/>
<path d="M383.3 1233L407.8 1275.4L358.8 1275.4Z" fill="#fff" stroke="#FF0000" stroke-width="3.5" stroke-linejoin="round"/>
<path d="M396.8 1224.6L421.3 1267L372.3 1267Z" fill="#fff" stroke="#FF0000" stroke-width="3.5" stroke-linejoin="round"/>
<path d="M411.5 1230.4L436 1272.8L387 1272.8Z" fill="#fff" stroke="#FF0000" stroke-width="3.5" stroke-linejoin="round"/>
<path d="M411.9 1242L436.4 1284.4L387.4 1284.4Z" fill="#fff" stroke="#FF0000" stroke-width="3.5" stroke-linejoin="round"/>
<path d="M368.3 1363.8L392.8 1406.2L343.8 1406.2Z" fill="#fff" stroke="#FF0000" stroke-width="3.5" stroke-linejoin="round"/>
<path d="M341.3 1336.4L365.8 1378.8L316.8 1378.8Z" fill="#fff" stroke="#FF0000" stroke-width="3.5" stroke-linejoin="round"/>
<path d="M369.1 1331.3L393.6 1373.7L344.6 1373.7Z" fill="#fff" stroke="#FF0000" stroke-width="3.5" stroke-linejoin="round"/>
<path d="M383 1346.1L407.5 1388.5L358.5 1388.5Z" fill="#fff" stroke="#FF0000" stroke-width="3.5" stroke-linejoin="round"/>
<path d="M404.9 1342.9L429.4 1385.3L380.4 1385.3Z" fill="#fff" stroke="#FF0000" stroke-width="3.5" stroke-linejoin="round"/>
<path d="M338.6 1394.7L363.1 1437.1L314.1 1437.1Z" fill="#fff" stroke="#FF0000" stroke-width="3.5" stroke-linejoin="round"/>
<path d="M296.6 1472.5L321.1 1514.9L272.1 1514.9Z" fill="#fff" stroke="#FF0000" stroke-width="3.5" stroke-linejoin="round"/>
<path d="M303 1508.2L327.5 1550.6L278.5 1550.6Z" fill="#fff" stroke="#FF0000" stroke-width="3.5" stroke-linejoin="round"/>
<path d="M665.5 1483L724.5 1483L695 1534.1Z" fill="#fff" stroke="#EC008C" stroke-width="4.3" stroke-linejoin="round"/>
<path d="M628.1 1535.3L687.1 1535.3L657.6 1586.4Z" fill="#fff" stroke="#EC008C" stroke-width="4.3" stroke-linejoin="round"/>
<path d="M696.3 1571.1L755.3 1571.1L725.8 1622.2Z" fill="#fff" stroke="#EC008C" stroke-width="4.3" stroke-linejoin="round"/>
<path d="M694.5 1565.5L753.5 1565.5L724 1616.6Z" fill="#fff" stroke="#EC008C" stroke-width="4.3" stroke-linejoin="round"/>
<path d="M645.5 1613.1L704.5 1613.1L675 1664.2Z" fill="#fff" stroke="#EC008C" stroke-width="4.3" stroke-linejoin="round"/>
<path d="M575.5 1496L626.6 1466.5L626.6 1525.5Z" fill="#fff" stroke="#0A7BF5" stroke-width="4.3" stroke-linejoin="round"/>
<path d="M762.6 1382L813.7 1352.5L813.7 1411.5Z" fill="#fff" stroke="#0A7BF5" stroke-width="4.3" stroke-linejoin="round"/>
<path d="M877.6 1377.5L928.7 1348L928.7 1407Z" fill="#fff" stroke="#0A7BF5" stroke-width="4.3" stroke-linejoin="round"/>
<path d="M870.2 1346L921.3 1316.5L921.3 1375.5Z" fill="#fff" stroke="#0A7BF5" stroke-width="4.3" stroke-linejoin="round"/>
<path d="M747.9 1406.5L778.9 1437.5L747.9 1468.5L716.9 1437.5Z" fill="#fff" stroke="#7B8BEA" stroke-width="4.2" stroke-linejoin="round"/>
<path d="M723.3 1389.3L754.3 1420.3L723.3 1451.3L692.3 1420.3Z" fill="#fff" stroke="#7B8BEA" stroke-width="4.2" stroke-linejoin="round"/>
<path d="M856.2 1385.2L887.2 1416.2L856.2 1447.2L825.2 1416.2Z" fill="#fff" stroke="#7B8BEA" stroke-width="4.2" stroke-linejoin="round"/>
<path d="M835.1 1393.4L866.1 1424.4L835.1 1455.4L804.1 1424.4Z" fill="#fff" stroke="#7B8BEA" stroke-width="4.2" stroke-linejoin="round"/>
<path d="M758.4 1494.8L781.96 1508.4L781.96 1535.6L758.4 1549.2L734.84 1535.6L734.84 1508.4Z" fill="#fff" stroke="#C5CCF5" stroke-width="4.4" stroke-linejoin="round"/>
<path d="M949.6 1400.3L973.16 1413.9L973.16 1441.1L949.6 1454.7L926.04 1441.1L926.04 1413.9Z" fill="#fff" stroke="#C5CCF5" stroke-width="4.4" stroke-linejoin="round"/>
<path d="M944.7 1374L968.26 1387.6L968.26 1414.8L944.7 1428.4L921.14 1414.8L921.14 1387.6Z" fill="#fff" stroke="#C5CCF5" stroke-width="4.4" stroke-linejoin="round"/>
<path d="M1092.3 1386.7L1115.86 1400.3L1115.86 1427.5L1092.3 1441.1L1068.74 1427.5L1068.74 1400.3Z" fill="#fff" stroke="#C5CCF5" stroke-width="4.4" stroke-linejoin="round"/>
<path d="M1100.4 1507.4L1123.96 1521L1123.96 1548.2L1100.4 1561.8L1076.84 1548.2L1076.84 1521Z" fill="#fff" stroke="#C5CCF5" stroke-width="4.4" stroke-linejoin="round"/>
<rect x="862.9" y="1278.6" width="43.4" height="43.4" fill="#fff" stroke="#F08C0A" stroke-width="3.6" stroke-linejoin="round"/>
<rect x="858" y="1314.5" width="43.4" height="43.4" fill="#fff" stroke="#F08C0A" stroke-width="3.6" stroke-linejoin="round"/>
<rect x="860.1" y="1479.1" width="43.4" height="43.4" fill="#fff" stroke="#F08C0A" stroke-width="3.6" stroke-linejoin="round"/>
<rect x="974.9" y="1184.9" width="43.4" height="43.4" fill="#fff" stroke="#F08C0A" stroke-width="3.6" stroke-linejoin="round"/>
<rect x="1028.1" y="1179.8" width="43.4" height="43.4" fill="#fff" stroke="#F08C0A" stroke-width="3.6" stroke-linejoin="round"/>
<rect x="1044.4" y="1201.1" width="43.4" height="43.4" fill="#fff" stroke="#F08C0A" stroke-width="3.6" stroke-linejoin="round"/>
<rect x="1002.7" y="1242.4" width="43.4" height="43.4" fill="#fff" stroke="#F08C0A" stroke-width="3.6" stroke-linejoin="round"/>
<rect x="1107.2" y="1112.2" width="43.4" height="43.4" fill="#fff" stroke="#F08C0A" stroke-width="3.6" stroke-linejoin="round"/>
<rect x="1088.5" y="1107.3" width="43.4" height="43.4" fill="#fff" stroke="#F08C0A" stroke-width="3.6" stroke-linejoin="round"/>
<circle cx="947.6" cy="1272.9" r="20.9" fill="#fff" stroke="#0000E6" stroke-width="3.2"/>
<circle cx="1148.7" cy="1060.7" r="20.6" fill="#fff" stroke="#000" stroke-width="3.6"/>
<path d="M1169 1146.2L1220.1 1175.7L1169 1205.2Z" fill="#fff" stroke="#FFE500" stroke-width="4.3" stroke-linejoin="round"/>
<path d="M1244 1170.3L1295.1 1199.8L1244 1229.3Z" fill="#fff" stroke="#FFE500" stroke-width="4.3" stroke-linejoin="round"/>
<path d="M1223 1292.5L1274.1 1322L1223 1351.5Z" fill="#fff" stroke="#FFE500" stroke-width="4.3" stroke-linejoin="round"/>
<path d="M1223 1316.7L1274.1 1346.2L1223 1375.7Z" fill="#fff" stroke="#FFE500" stroke-width="4.3" stroke-linejoin="round"/>
<path d="M1384 787.1L1437.7 817.7L1384 848.3Z" fill="#FF9419" stroke="#FF9419" stroke-width="1.5" stroke-linejoin="round"/>
<path d="M1275.5 1264L1308.9 1297.4L1275.5 1330.8L1242.1 1297.4ZM1357.5 1288.6L1390.9 1322L1357.5 1355.4L1324.1 1322ZM1551 861.6L1584.4 895L1551 928.4L1517.6 895ZM1424.6 959.1L1458 992.5L1424.6 1025.9L1391.2 992.5ZM1625.4 1068.8L1658.8 1102.2L1625.4 1135.6L1592 1102.2Z" fill="#FF0000" stroke="#FF0000" stroke-width="1" stroke-linejoin="round"/>
<path d="M277 768.89L292.25 795.3L261.75 795.3Z" fill="#fff" stroke="#7F00FF" stroke-width="1.9"/>
<path d="M277 807.24L292.25 833.65L261.75 833.65Z" fill="#fff" stroke="#FF0000" stroke-width="1.9"/>
<path d="M261.75 854.4L292.25 854.4L277 880.81Z" fill="#fff" stroke="#EC008C" stroke-width="1.9"/>
<path d="M259.97 901.55L285.52 886.8L285.52 916.3Z" fill="#fff" stroke="#0A7BF5" stroke-width="1.9"/>
<circle cx="277" cy="939.9" r="12.6" fill="#fff" stroke="#0000E6" stroke-width="1.9"/>
<path d="M277 962.85L292.4 978.25L277 993.65L261.6 978.25Z" fill="#fff" stroke="#7B8BEA" stroke-width="1.9"/>
<path d="M277 1003.2L288.6 1009.9L288.6 1023.3L277 1030L265.4 1023.3L265.4 1009.9Z" fill="#fff" stroke="#C5CCF5" stroke-width="1.9"/>
<rect x="265.7" y="1043.65" width="22.6" height="22.6" fill="#fff" stroke="#F08C0A" stroke-width="1.9"/>
<circle cx="277" cy="1093.3" r="12.6" fill="#fff" stroke="#000" stroke-width="1.9"/>
<path d="M268.48 1116.9L294.03 1131.65L268.48 1146.4Z" fill="#fff" stroke="#FFE500" stroke-width="1.9"/>
<path d="M268.05 1154.5L294.9 1170L268.05 1185.5Z" fill="#FF9419" stroke="#FF9419" stroke-width="1"/>
<path d="M277 1191.15L294.2 1208.35L277 1225.55L259.8 1208.35Z" fill="#FF0000"/>
<text x="311.5" y="795.2" font-size="24.4" text-anchor="start" ><tspan>La</tspan><tspan dy="5.6" font-size="16.9">1−x</tspan><tspan dy="-5.6">Sr</tspan><tspan dy="5.6" font-size="16.9">x</tspan><tspan dy="-5.6">NiO</tspan><tspan dy="5.6" font-size="16.9">2</tspan><tspan dy="-5.6">: on SrTiO</tspan><tspan dy="5.6" font-size="16.9">3</tspan><tspan dy="-5.6">, ref.</tspan><tspan dy="-9.3" font-size="17">17</tspan></text>
<text x="311.5" y="833.55" font-size="24.4" text-anchor="start" ><tspan>La</tspan><tspan dy="5.6" font-size="16.9">1−x</tspan><tspan dy="-5.6">Sr</tspan><tspan dy="5.6" font-size="16.9">x</tspan><tspan dy="-5.6">NiO</tspan><tspan dy="5.6" font-size="16.9">2</tspan><tspan dy="-5.6">: on SrTiO</tspan><tspan dy="5.6" font-size="16.9">3</tspan><tspan dy="-5.6">, ref.</tspan><tspan dy="-9.3" font-size="17">18</tspan></text>
<text x="311.5" y="871.9" font-size="24.4" text-anchor="start" ><tspan>La</tspan><tspan dy="5.6" font-size="16.9">1−x</tspan><tspan dy="-5.6">Ca</tspan><tspan dy="5.6" font-size="16.9">x</tspan><tspan dy="-5.6">NiO</tspan><tspan dy="5.6" font-size="16.9">2</tspan><tspan dy="-5.6">: on SrTiO</tspan><tspan dy="5.6" font-size="16.9">3</tspan><tspan dy="-5.6">, ref.</tspan><tspan dy="-9.3" font-size="17">19</tspan></text>
<text x="311.5" y="910.25" font-size="24.4" text-anchor="start" ><tspan>Pr</tspan><tspan dy="5.6" font-size="16.9">1−x</tspan><tspan dy="-5.6">Sr</tspan><tspan dy="5.6" font-size="16.9">x</tspan><tspan dy="-5.6">NiO</tspan><tspan dy="5.6" font-size="16.9">2</tspan><tspan dy="-5.6">: on SrTiO</tspan><tspan dy="5.6" font-size="16.9">3</tspan><tspan dy="-5.6">, ref.</tspan><tspan dy="-9.3" font-size="17">20</tspan></text>
<text x="311.5" y="948.6" font-size="24.4" text-anchor="start" ><tspan>Pr</tspan><tspan dy="5.6" font-size="16.9">1−x</tspan><tspan dy="-5.6">Sr</tspan><tspan dy="5.6" font-size="16.9">x</tspan><tspan dy="-5.6">NiO</tspan><tspan dy="5.6" font-size="16.9">2</tspan><tspan dy="-5.6">: on SrTiO</tspan><tspan dy="5.6" font-size="16.9">3</tspan><tspan dy="-5.6">, ref.</tspan><tspan dy="-9.3" font-size="17">21</tspan></text>
<text x="311.5" y="986.95" font-size="24.4" text-anchor="start" ><tspan>Nd</tspan><tspan dy="5.6" font-size="16.9">1−x</tspan><tspan dy="-5.6">Sr</tspan><tspan dy="5.6" font-size="16.9">x</tspan><tspan dy="-5.6">NiO</tspan><tspan dy="5.6" font-size="16.9">2</tspan><tspan dy="-5.6">: on SrTiO</tspan><tspan dy="5.6" font-size="16.9">3</tspan><tspan dy="-5.6">, ref.</tspan><tspan dy="-9.3" font-size="17">22</tspan></text>
<text x="311.5" y="1025.3" font-size="24.4" text-anchor="start" ><tspan>Nd</tspan><tspan dy="5.6" font-size="16.9">1−x</tspan><tspan dy="-5.6">Sr</tspan><tspan dy="5.6" font-size="16.9">x</tspan><tspan dy="-5.6">NiO</tspan><tspan dy="5.6" font-size="16.9">2</tspan><tspan dy="-5.6">: on SrTiO</tspan><tspan dy="5.6" font-size="16.9">3</tspan><tspan dy="-5.6">, ref.</tspan><tspan dy="-9.3" font-size="17">23</tspan></text>
<text x="311.5" y="1063.65" font-size="24.4" text-anchor="start" ><tspan>Nd</tspan><tspan dy="5.6" font-size="16.9">1−x</tspan><tspan dy="-5.6">Sr</tspan><tspan dy="5.6" font-size="16.9">x</tspan><tspan dy="-5.6">NiO</tspan><tspan dy="5.6" font-size="16.9">2</tspan><tspan dy="-5.6">: on LSAT, ref.</tspan><tspan dy="-9.3" font-size="17"> 24</tspan></text>
<text x="311.5" y="1102" font-size="24.4" text-anchor="start" ><tspan>Nd</tspan><tspan dy="5.6" font-size="16.9">1−x</tspan><tspan dy="-5.6">Sr</tspan><tspan dy="5.6" font-size="16.9">x</tspan><tspan dy="-5.6">NiO</tspan><tspan dy="5.6" font-size="16.9">2</tspan><tspan dy="-5.6">: on NdGaO</tspan><tspan dy="5.6" font-size="16.9">3</tspan><tspan dy="-5.6">, ref.</tspan><tspan dy="-9.3" font-size="17">25</tspan></text>
<text x="311.5" y="1140.35" font-size="24.4" text-anchor="start" ><tspan>Nd</tspan><tspan dy="5.6" font-size="16.9">1−x</tspan><tspan dy="-5.6">Eu</tspan><tspan dy="5.6" font-size="16.9">x</tspan><tspan dy="-5.6">NiO</tspan><tspan dy="5.6" font-size="16.9">2</tspan><tspan dy="-5.6">: on LSAT, ref.</tspan><tspan dy="-9.3" font-size="17"> 26</tspan></text>
<text x="311.5" y="1178.7" font-size="24.4" text-anchor="start" ><tspan>SESC: on NdGaO</tspan><tspan dy="5.6" font-size="16.9">3</tspan><tspan dy="-5.6">, ref.</tspan><tspan dy="-9.3" font-size="17">46</tspan></text>
<text x="311.5" y="1217.05" font-size="24.4" text-anchor="start" ><tspan>SESC: on LSAT, this work</tspan></text>
<rect x="210.8" y="761.5" width="1489" height="925.5" fill="none" stroke="#000" stroke-width="4.2"/>
<path d="M210.8 1686.9H232.3M210.8 1626.01H221.3M210.8 1565.12H232.3M210.8 1504.22H221.3M210.8 1443.33H232.3M210.8 1382.44H221.3M210.8 1321.55H232.3M210.8 1260.65H221.3M210.8 1199.76H232.3M210.8 1138.87H221.3M210.8 1077.98H232.3M210.8 1017.08H221.3M210.8 956.19H232.3M210.8 895.3H221.3M210.8 834.41H232.3M210.8 773.51H221.3M285.2 1687V1666M434.11 1687V1676.5M583.02 1687V1666M731.94 1687V1676.5M880.85 1687V1666M1029.76 1687V1676.5M1178.67 1687V1666M1327.58 1687V1676.5M1476.5 1687V1666M1625.41 1687V1676.5" stroke="#000" stroke-width="4.2" fill="none"/>
<text x="187" y="1706.2" font-size="56.5" text-anchor="end"  transform="translate(187 1706.2) scale(1 1.0200) translate(-187 -1706.2)"><tspan>0</tspan></text>
<text x="187" y="1584.41" font-size="56.5" text-anchor="end"  transform="translate(187 1584.41) scale(1 1.0200) translate(-187 -1584.41)"><tspan>5</tspan></text>
<text x="187" y="1462.63" font-size="56.5" text-anchor="end"  transform="translate(187 1462.63) scale(1 1.0200) translate(-187 -1462.63)"><tspan>10</tspan></text>
<text x="187" y="1340.85" font-size="56.5" text-anchor="end"  transform="translate(187 1340.85) scale(1 1.0200) translate(-187 -1340.85)"><tspan>15</tspan></text>
<text x="187" y="1219.06" font-size="56.5" text-anchor="end"  transform="translate(187 1219.06) scale(1 1.0200) translate(-187 -1219.06)"><tspan>20</tspan></text>
<text x="187" y="1097.28" font-size="56.5" text-anchor="end"  transform="translate(187 1097.28) scale(1 1.0200) translate(-187 -1097.28)"><tspan>25</tspan></text>
<text x="187" y="975.49" font-size="56.5" text-anchor="end"  transform="translate(187 975.49) scale(1 1.0200) translate(-187 -975.49)"><tspan>30</tspan></text>
<text x="187" y="853.71" font-size="56.5" text-anchor="end"  transform="translate(187 853.71) scale(1 1.0200) translate(-187 -853.71)"><tspan>35</tspan></text>
<text x="285.2" y="1755.5" font-size="56.5" text-anchor="middle"  transform="translate(285.2 1755.5) scale(1 1.0400) translate(-285.2 -1755.5)"><tspan>3.44</tspan></text>
<text x="583.02" y="1755.5" font-size="56.5" text-anchor="middle"  transform="translate(583.02 1755.5) scale(1 1.0400) translate(-583.02 -1755.5)"><tspan>3.40</tspan></text>
<text x="880.85" y="1755.5" font-size="56.5" text-anchor="middle"  transform="translate(880.85 1755.5) scale(1 1.0400) translate(-880.85 -1755.5)"><tspan>3.36</tspan></text>
<text x="1178.67" y="1755.5" font-size="56.5" text-anchor="middle"  transform="translate(1178.67 1755.5) scale(1 1.0400) translate(-1178.67 -1755.5)"><tspan>3.32</tspan></text>
<text x="1476.5" y="1755.5" font-size="56.5" text-anchor="middle"  transform="translate(1476.5 1755.5) scale(1 1.0400) translate(-1476.5 -1755.5)"><tspan>3.28</tspan></text>
<text x="955.5" y="1857.1" font-size="68" text-anchor="middle"  transform="translate(955.5 1857.1) scale(1 1.0200) translate(-955.5 -1857.1)"><tspan font-style="italic">c</tspan><tspan>-axis (Å)</tspan></text>
<text x="70.9" y="1281.5" font-size="67.5" text-anchor="start"  transform="rotate(-90 70.9 1281.5) translate(70.9 1281.5) scale(1 1.0400) translate(-70.9 -1281.5)"><tspan font-style="italic">T</tspan><tspan dy="18.2" font-size="47" dx="-1">c</tspan><tspan dy="-18.2"> (K)</tspan></text>
</g>
<text x="0.1" y="41.8" font-size="56.5" font-weight="bold">(a)</text>
<text x="864.2" y="41.8" font-size="56.5" font-weight="bold">(b)</text>
<text x="-2.0" y="758.9" font-size="56.5" font-weight="bold">(c)</text>
</svg>
</body></html>
